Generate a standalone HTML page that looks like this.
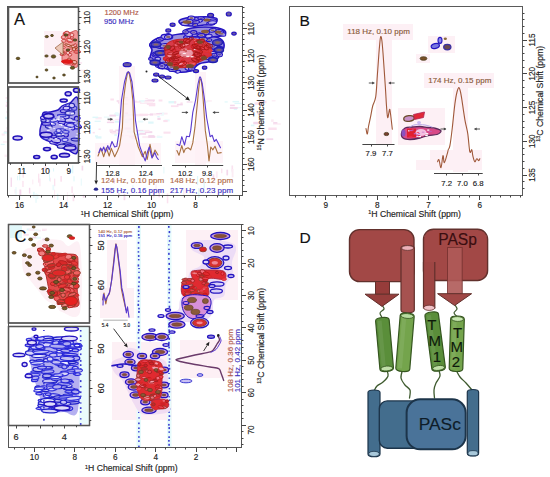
<!DOCTYPE html>
<html><head><meta charset="utf-8"><style>
html,body{margin:0;padding:0;background:#fff;}
svg{display:block;}
text{font-family:"Liberation Sans", sans-serif;}
</style></head><body>
<svg width="550" height="477" viewBox="0 0 550 477">
<rect width="550" height="477" fill="#fff"/>
<rect x="134.4" y="113.9" width="8.8" height="2.4" fill="#fcecf4"/>
<rect x="95.5" y="117.0" width="6.2" height="2.4" fill="#fcecf4"/>
<rect x="142.5" y="114.1" width="8.8" height="1.1" fill="#fbe2ef"/>
<rect x="103.8" y="116.5" width="5.8" height="1.3" fill="#eafafc"/>
<rect x="109.4" y="119.9" width="5.0" height="1.1" fill="#fcecf4"/>
<rect x="114.2" y="113.1" width="7.8" height="2.0" fill="#eafafc"/>
<rect x="120.8" y="115.8" width="5.0" height="1.6" fill="#fcecf4"/>
<rect x="92.5" y="116.6" width="5.7" height="1.5" fill="#dff7fa"/>
<rect x="119.1" y="115.6" width="3.8" height="2.2" fill="#dff7fa"/>
<rect x="123.5" y="114.8" width="7.3" height="1.6" fill="#eafafc"/>
<rect x="157.4" y="117.7" width="3.2" height="2.3" fill="#f4d8ec"/>
<rect x="114.7" y="120.7" width="6.8" height="2.0" fill="#dff7fa"/>
<rect x="161.6" y="112.7" width="6.0" height="1.8" fill="#fcecf4"/>
<rect x="153.2" y="113.2" width="6.9" height="2.2" fill="#fcecf4"/>
<rect x="149.8" y="113.4" width="3.3" height="2.2" fill="#f4d8ec"/>
<rect x="124.6" y="120.9" width="3.0" height="2.4" fill="#eafafc"/>
<rect x="116.6" y="112.7" width="5.8" height="2.0" fill="#eafafc"/>
<rect x="125.8" y="113.9" width="6.8" height="1.5" fill="#eafafc"/>
<rect x="160.4" y="114.5" width="3.4" height="1.2" fill="#eafafc"/>
<rect x="109.8" y="114.8" width="8.8" height="1.3" fill="#dff7fa"/>
<rect x="138.2" y="120.6" width="5.2" height="1.9" fill="#eafafc"/>
<rect x="109.4" y="114.7" width="6.6" height="1.8" fill="#f4d8ec"/>
<rect x="115.0" y="112.2" width="2.9" height="1.5" fill="#eafafc"/>
<rect x="157.3" y="116.0" width="2.4" height="1.3" fill="#dff7fa"/>
<rect x="107.8" y="118.6" width="3.0" height="1.2" fill="#dff7fa"/>
<rect x="124.7" y="118.7" width="6.7" height="2.0" fill="#eafafc"/>
<rect x="129.5" y="118.3" width="3.5" height="1.7" fill="#f4d8ec"/>
<rect x="115.2" y="118.8" width="7.1" height="1.4" fill="#fcecf4"/>
<rect x="106.9" y="121.7" width="7.3" height="1.4" fill="#f4d8ec"/>
<rect x="164.5" y="119.4" width="5.1" height="2.0" fill="#eafafc"/>
<rect x="132.4" y="114.0" width="2.2" height="2.3" fill="#f4d8ec"/>
<rect x="159.3" y="112.6" width="4.9" height="1.7" fill="#eafafc"/>
<rect x="148.2" y="121.5" width="5.4" height="2.2" fill="#dff7fa"/>
<rect x="94.6" y="120.7" width="6.2" height="1.2" fill="#dff7fa"/>
<rect x="163.3" y="120.0" width="4.4" height="2.1" fill="#fbe2ef"/>
<rect x="126.3" y="121.8" width="2.8" height="1.0" fill="#eafafc"/>
<rect x="107.8" y="120.0" width="2.7" height="1.3" fill="#fbe2ef"/>
<rect x="139.5" y="113.7" width="8.4" height="2.2" fill="#fbe2ef"/>
<rect x="124.8" y="112.4" width="3.3" height="1.8" fill="#f4d8ec"/>
<rect x="156.3" y="113.1" width="5.7" height="1.0" fill="#f4d8ec"/>
<rect x="118.1" y="101.5" width="3.2" height="2.1" fill="#f4d8ec"/>
<rect x="120.0" y="98.6" width="5.0" height="1.9" fill="#f4d8ec"/>
<rect x="139.9" y="102.7" width="8.2" height="1.3" fill="#fcecf4"/>
<rect x="134.3" y="100.6" width="2.6" height="1.1" fill="#fbe2ef"/>
<rect x="143.5" y="100.0" width="5.5" height="1.3" fill="#f4d8ec"/>
<rect x="138.9" y="100.4" width="4.9" height="1.7" fill="#dff7fa"/>
<rect x="123.6" y="96.8" width="4.3" height="2.0" fill="#f4d8ec"/>
<rect x="133.5" y="101.4" width="7.9" height="1.2" fill="#fbe2ef"/>
<rect x="130.0" y="96.6" width="3.7" height="1.4" fill="#fbe2ef"/>
<rect x="140.7" y="100.0" width="6.7" height="2.3" fill="#eafafc"/>
<rect x="145.2" y="100.2" width="8.6" height="1.7" fill="#f4d8ec"/>
<rect x="147.6" y="99.5" width="7.2" height="1.9" fill="#f4d8ec"/>
<rect x="144.3" y="100.8" width="8.8" height="1.8" fill="#fcecf4"/>
<rect x="116.6" y="100.3" width="8.1" height="1.5" fill="#f4d8ec"/>
<rect x="158.6" y="99.5" width="3.8" height="2.0" fill="#fbe2ef"/>
<rect x="121.7" y="100.0" width="6.6" height="1.3" fill="#fcecf4"/>
<rect x="117.5" y="101.4" width="5.7" height="1.0" fill="#fbe2ef"/>
<rect x="131.4" y="97.4" width="2.8" height="1.2" fill="#fcecf4"/>
<rect x="125.0" y="98.4" width="5.1" height="2.1" fill="#fcecf4"/>
<rect x="120.3" y="98.7" width="7.2" height="1.3" fill="#fcecf4"/>
<rect x="120.3" y="103.0" width="7.6" height="1.9" fill="#fbe2ef"/>
<rect x="145.3" y="98.0" width="2.7" height="1.3" fill="#fcecf4"/>
<rect x="146.8" y="102.9" width="8.5" height="2.0" fill="#fbe2ef"/>
<rect x="110.4" y="98.5" width="3.5" height="2.0" fill="#fbe2ef"/>
<rect x="148.8" y="104.6" width="6.5" height="1.7" fill="#fbe2ef"/>
<rect x="163.5" y="131.6" width="7.0" height="2.1" fill="#fbe2ef"/>
<rect x="142.3" y="136.1" width="7.2" height="2.0" fill="#fcecf4"/>
<rect x="156.9" y="135.7" width="2.8" height="1.1" fill="#fbe2ef"/>
<rect x="134.6" y="136.7" width="2.3" height="2.4" fill="#fbe2ef"/>
<rect x="136.3" y="129.9" width="7.2" height="2.3" fill="#f4d8ec"/>
<rect x="144.8" y="131.2" width="7.5" height="1.9" fill="#f4d8ec"/>
<rect x="110.2" y="130.7" width="6.1" height="2.4" fill="#f4d8ec"/>
<rect x="129.2" y="135.3" width="7.0" height="2.4" fill="#f4d8ec"/>
<rect x="156.7" y="135.9" width="5.7" height="2.1" fill="#eafafc"/>
<rect x="95.0" y="135.3" width="2.9" height="1.8" fill="#dff7fa"/>
<rect x="127.1" y="130.5" width="7.9" height="2.0" fill="#dff7fa"/>
<rect x="114.3" y="133.7" width="2.9" height="2.4" fill="#dff7fa"/>
<rect x="143.7" y="129.9" width="5.8" height="1.9" fill="#fcecf4"/>
<rect x="119.8" y="134.3" width="3.8" height="2.3" fill="#fbe2ef"/>
<rect x="124.5" y="127.4" width="6.5" height="2.3" fill="#f4d8ec"/>
<rect x="109.5" y="129.4" width="3.5" height="2.4" fill="#fbe2ef"/>
<rect x="134.2" y="133.5" width="4.7" height="1.7" fill="#eafafc"/>
<rect x="98.5" y="128.5" width="2.2" height="1.4" fill="#fbe2ef"/>
<rect x="131.2" y="136.8" width="4.2" height="2.4" fill="#fbe2ef"/>
<rect x="111.5" y="132.3" width="6.2" height="2.0" fill="#fcecf4"/>
<rect x="117.2" y="130.3" width="6.4" height="1.1" fill="#dff7fa"/>
<rect x="137.4" y="130.8" width="7.1" height="1.6" fill="#eafafc"/>
<rect x="148.3" y="135.1" width="6.2" height="2.4" fill="#f4d8ec"/>
<rect x="115.3" y="129.5" width="5.6" height="1.6" fill="#f4d8ec"/>
<rect x="124.9" y="135.0" width="7.6" height="1.2" fill="#fcecf4"/>
<rect x="148.5" y="136.0" width="6.8" height="1.8" fill="#f4d8ec"/>
<rect x="92.7" y="131.9" width="2.1" height="1.5" fill="#fbe2ef"/>
<rect x="135.8" y="134.1" width="4.6" height="1.2" fill="#dff7fa"/>
<rect x="139.3" y="133.0" width="6.8" height="1.8" fill="#f4d8ec"/>
<rect x="95.8" y="136.3" width="5.7" height="2.3" fill="#dff7fa"/>
<rect x="237.1" y="107.0" width="7.1" height="1.3" fill="#eafafc"/>
<rect x="168.5" y="101.0" width="7.7" height="2.4" fill="#dff7fa"/>
<rect x="232.5" y="100.9" width="6.6" height="1.5" fill="#dff7fa"/>
<rect x="230.1" y="104.7" width="4.7" height="1.5" fill="#f4d8ec"/>
<rect x="180.4" y="102.4" width="2.3" height="1.7" fill="#fbe2ef"/>
<rect x="186.6" y="101.4" width="6.0" height="1.2" fill="#f4d8ec"/>
<rect x="224.6" y="101.0" width="3.1" height="1.8" fill="#eafafc"/>
<rect x="234.5" y="102.8" width="8.9" height="1.3" fill="#dff7fa"/>
<rect x="170.9" y="105.3" width="7.6" height="1.8" fill="#fbe2ef"/>
<rect x="233.8" y="108.0" width="3.3" height="1.8" fill="#dff7fa"/>
<rect x="206.7" y="100.3" width="5.2" height="1.3" fill="#fcecf4"/>
<rect x="174.1" y="101.2" width="2.1" height="2.2" fill="#fbe2ef"/>
<rect x="176.9" y="103.8" width="5.9" height="1.6" fill="#f4d8ec"/>
<rect x="202.4" y="101.5" width="5.0" height="1.0" fill="#dff7fa"/>
<rect x="229.8" y="107.1" width="7.9" height="1.8" fill="#f4d8ec"/>
<rect x="7.0" y="115.7" width="7.5" height="2.4" fill="#eafafc"/>
<rect x="4.2" y="130.8" width="4.0" height="2.3" fill="#fbe2ef"/>
<rect x="6.0" y="102.0" width="6.6" height="1.5" fill="#fbe2ef"/>
<rect x="6.8" y="133.9" width="7.8" height="1.7" fill="#fbe2ef"/>
<rect x="5.7" y="104.5" width="4.2" height="2.4" fill="#f4d8ec"/>
<rect x="7.3" y="96.2" width="4.3" height="2.2" fill="#dff7fa"/>
<rect x="2.9" y="141.3" width="6.7" height="1.3" fill="#fcecf4"/>
<rect x="7.7" y="151.8" width="6.0" height="1.9" fill="#fcecf4"/>
<rect x="6.6" y="127.1" width="6.1" height="2.4" fill="#f4d8ec"/>
<rect x="5.6" y="100.4" width="4.9" height="1.4" fill="#eafafc"/>
<rect x="4.5" y="154.6" width="5.9" height="2.3" fill="#fcecf4"/>
<rect x="6.9" y="157.8" width="6.1" height="1.0" fill="#fbe2ef"/>
<rect x="1.6" y="133.5" width="3.3" height="2.1" fill="#fcecf4"/>
<rect x="3.6" y="131.7" width="8.0" height="2.0" fill="#dff7fa"/>
<rect x="5.6" y="97.2" width="6.0" height="1.5" fill="#fbe2ef"/>
<rect x="5.2" y="116.8" width="4.1" height="2.3" fill="#dff7fa"/>
<rect x="7.4" y="125.5" width="3.2" height="2.3" fill="#eafafc"/>
<rect x="0.7" y="143.8" width="4.0" height="1.3" fill="#dff7fa"/>
<rect x="6.9" y="104.7" width="9.0" height="1.8" fill="#f4d8ec"/>
<rect x="6.6" y="110.9" width="2.8" height="2.3" fill="#f4d8ec"/>
<rect x="66.9" y="192.0" width="0.8" height="9.6" fill="#fcecf4"/>
<rect x="14.5" y="189.2" width="1.8" height="4.3" fill="#fcecf4"/>
<rect x="39.1" y="178.5" width="1.6" height="7.8" fill="#fcecf4"/>
<rect x="32.3" y="179.5" width="1.0" height="4.9" fill="#fcecf4"/>
<rect x="38.1" y="173.6" width="1.2" height="9.1" fill="#fbe2ef"/>
<rect x="44.7" y="166.1" width="1.7" height="3.7" fill="#fbe2ef"/>
<rect x="73.2" y="176.2" width="1.6" height="5.2" fill="#eafafc"/>
<rect x="49.7" y="177.7" width="1.0" height="4.0" fill="#fbe2ef"/>
<rect x="22.5" y="170.7" width="1.5" height="6.9" fill="#fbe2ef"/>
<rect x="35.3" y="193.3" width="1.5" height="9.5" fill="#eafafc"/>
<rect x="54.0" y="178.6" width="1.3" height="7.6" fill="#fbe2ef"/>
<rect x="60.3" y="176.0" width="1.7" height="5.7" fill="#fbe2ef"/>
<rect x="22.9" y="166.0" width="1.2" height="6.7" fill="#dff7fa"/>
<rect x="71.4" y="186.4" width="1.4" height="6.6" fill="#fbe2ef"/>
<rect x="54.0" y="189.7" width="1.1" height="8.8" fill="#fcecf4"/>
<rect x="19.1" y="171.8" width="1.2" height="8.5" fill="#dff7fa"/>
<rect x="15.4" y="187.1" width="1.2" height="9.0" fill="#eafafc"/>
<rect x="82.8" y="194.8" width="1.8" height="3.0" fill="#f4d8ec"/>
<rect x="53.0" y="168.2" width="1.1" height="3.3" fill="#dff7fa"/>
<rect x="49.0" y="173.6" width="1.0" height="7.2" fill="#dff7fa"/>
<rect x="52.4" y="184.8" width="1.8" height="5.4" fill="#eafafc"/>
<rect x="19.7" y="194.2" width="0.8" height="4.9" fill="#dff7fa"/>
<rect x="19.4" y="189.5" width="1.9" height="5.6" fill="#f4d8ec"/>
<rect x="43.2" y="166.5" width="1.2" height="4.4" fill="#fcecf4"/>
<rect x="28.9" y="187.8" width="1.4" height="5.7" fill="#f4d8ec"/>
<rect x="10.6" y="177.5" width="1.3" height="9.4" fill="#f4d8ec"/>
<rect x="33.2" y="191.8" width="1.4" height="5.9" fill="#dff7fa"/>
<rect x="72.6" y="193.6" width="1.7" height="7.6" fill="#fbe2ef"/>
<rect x="37.0" y="194.0" width="1.4" height="5.1" fill="#eafafc"/>
<rect x="22.3" y="180.9" width="1.3" height="6.1" fill="#fbe2ef"/>
<rect x="80.8" y="178.5" width="0.8" height="7.2" fill="#dff7fa"/>
<rect x="56.9" y="193.7" width="1.5" height="6.3" fill="#dff7fa"/>
<rect x="17.1" y="175.8" width="1.0" height="4.5" fill="#dff7fa"/>
<rect x="81.6" y="165.7" width="1.6" height="4.8" fill="#f4d8ec"/>
<rect x="72.1" y="165.4" width="1.2" height="8.0" fill="#dff7fa"/>
<rect x="49.9" y="67.0" width="8.8" height="2.0" fill="#fcecf4"/>
<rect x="70.5" y="71.5" width="5.0" height="1.8" fill="#dff7fa"/>
<rect x="50.0" y="67.1" width="7.0" height="2.4" fill="#eafafc"/>
<rect x="73.8" y="62.3" width="8.3" height="1.3" fill="#fbe2ef"/>
<rect x="69.4" y="61.7" width="4.6" height="1.1" fill="#fbe2ef"/>
<rect x="42.5" y="62.3" width="5.2" height="1.1" fill="#eafafc"/>
<rect x="56.9" y="70.3" width="3.6" height="1.9" fill="#fcecf4"/>
<rect x="76.8" y="69.7" width="8.5" height="1.1" fill="#fcecf4"/>
<rect x="69.3" y="70.7" width="7.1" height="1.4" fill="#fbe2ef"/>
<rect x="48.8" y="61.1" width="9.0" height="1.7" fill="#fbe2ef"/>
<rect x="71.9" y="71.7" width="6.7" height="2.0" fill="#fcecf4"/>
<rect x="59.9" y="69.6" width="8.1" height="1.8" fill="#eafafc"/>
<rect x="40.3" y="70.8" width="8.5" height="1.1" fill="#fcecf4"/>
<rect x="72.5" y="61.4" width="5.5" height="1.5" fill="#eafafc"/>
<rect x="40.5" y="64.8" width="7.2" height="1.8" fill="#f4d8ec"/>
<rect x="15.7" y="107.2" width="8.2" height="1.6" fill="#eafafc"/>
<rect x="22.6" y="109.6" width="4.1" height="1.3" fill="#eafafc"/>
<rect x="17.3" y="97.9" width="8.5" height="2.4" fill="#dff7fa"/>
<rect x="26.9" y="104.9" width="8.0" height="1.3" fill="#f4d8ec"/>
<rect x="30.1" y="95.8" width="7.1" height="2.2" fill="#fcecf4"/>
<rect x="12.9" y="107.1" width="4.3" height="2.0" fill="#fbe2ef"/>
<rect x="17.6" y="106.4" width="5.4" height="2.5" fill="#dff7fa"/>
<rect x="25.6" y="108.5" width="8.2" height="1.2" fill="#fcecf4"/>
<rect x="17.2" y="100.1" width="6.8" height="2.1" fill="#dff7fa"/>
<rect x="21.9" y="106.8" width="3.3" height="1.9" fill="#f4d8ec"/>
<rect x="17.0" y="98.5" width="6.1" height="1.7" fill="#fcecf4"/>
<rect x="17.3" y="103.0" width="3.1" height="2.1" fill="#f4d8ec"/>
<rect x="17.1" y="103.5" width="4.4" height="1.0" fill="#eafafc"/>
<rect x="15.9" y="106.1" width="5.1" height="1.6" fill="#eafafc"/>
<rect x="21.2" y="139.2" width="5.8" height="1.2" fill="#f4d8ec"/>
<rect x="28.4" y="136.0" width="8.4" height="1.1" fill="#fbe2ef"/>
<rect x="26.9" y="135.5" width="7.9" height="1.3" fill="#eafafc"/>
<rect x="41.2" y="141.0" width="5.6" height="1.1" fill="#fbe2ef"/>
<rect x="32.7" y="130.2" width="4.4" height="1.3" fill="#f4d8ec"/>
<rect x="35.9" y="149.8" width="8.1" height="2.0" fill="#fcecf4"/>
<rect x="16.8" y="137.3" width="3.3" height="2.0" fill="#dff7fa"/>
<rect x="25.1" y="137.8" width="5.4" height="2.5" fill="#eafafc"/>
<rect x="34.8" y="145.7" width="5.7" height="2.0" fill="#dff7fa"/>
<rect x="33.9" y="131.0" width="5.3" height="1.9" fill="#fcecf4"/>
<rect x="42.7" y="145.7" width="4.9" height="1.7" fill="#fbe2ef"/>
<rect x="23.9" y="137.9" width="6.3" height="1.7" fill="#fcecf4"/>
<rect x="40.2" y="138.4" width="6.1" height="1.3" fill="#f4d8ec"/>
<rect x="35.1" y="142.1" width="4.4" height="1.1" fill="#fbe2ef"/>
<rect x="273.0" y="123.3" width="7.8" height="1.4" fill="#fcecf4"/>
<rect x="266.4" y="138.3" width="6.8" height="1.8" fill="#f4d8ec"/>
<rect x="254.5" y="102.4" width="7.7" height="2.4" fill="#fbe2ef"/>
<rect x="258.3" y="100.8" width="8.2" height="2.4" fill="#fbe2ef"/>
<rect x="253.3" y="121.8" width="5.6" height="2.5" fill="#f4d8ec"/>
<rect x="268.3" y="127.5" width="8.4" height="2.5" fill="#fbe2ef"/>
<rect x="250.8" y="124.6" width="3.6" height="1.7" fill="#dff7fa"/>
<rect x="259.8" y="119.8" width="3.2" height="1.2" fill="#eafafc"/>
<rect x="271.7" y="100.2" width="3.9" height="1.2" fill="#fcecf4"/>
<rect x="257.0" y="112.7" width="5.5" height="1.5" fill="#f4d8ec"/>
<rect x="273.2" y="122.1" width="4.2" height="1.6" fill="#f4d8ec"/>
<rect x="271.1" y="119.4" width="2.6" height="2.5" fill="#fcecf4"/>
<rect x="215.8" y="171.4" width="1.9" height="6.5" fill="#fcecf4"/>
<rect x="158.4" y="189.4" width="1.6" height="7.9" fill="#f4d8ec"/>
<rect x="132.2" y="185.1" width="1.3" height="5.7" fill="#eafafc"/>
<rect x="152.9" y="189.2" width="1.7" height="8.4" fill="#fcecf4"/>
<rect x="212.6" y="174.4" width="1.7" height="4.7" fill="#f4d8ec"/>
<rect x="163.2" y="166.9" width="1.3" height="6.6" fill="#eafafc"/>
<rect x="113.9" y="178.8" width="1.1" height="4.7" fill="#f4d8ec"/>
<rect x="231.7" y="165.5" width="0.8" height="7.4" fill="#eafafc"/>
<rect x="203.5" y="179.5" width="1.4" height="9.0" fill="#dff7fa"/>
<rect x="198.1" y="188.1" width="1.5" height="9.8" fill="#dff7fa"/>
<rect x="123.6" y="194.0" width="1.7" height="6.2" fill="#f4d8ec"/>
<rect x="231.5" y="165.5" width="1.6" height="6.1" fill="#fbe2ef"/>
<rect x="226.4" y="169.7" width="1.7" height="5.7" fill="#f4d8ec"/>
<rect x="166.8" y="193.5" width="1.5" height="9.8" fill="#fbe2ef"/>
<rect x="118.0" y="193.1" width="1.7" height="4.0" fill="#f4d8ec"/>
<rect x="196.9" y="176.0" width="1.3" height="9.1" fill="#dff7fa"/>
<rect x="221.1" y="168.6" width="1.3" height="4.6" fill="#fbe2ef"/>
<rect x="183.1" y="187.8" width="1.4" height="9.9" fill="#fcecf4"/>
<rect x="155.5" y="184.3" width="1.2" height="10.0" fill="#fcecf4"/>
<rect x="231.7" y="169.0" width="1.8" height="8.4" fill="#fcecf4"/>
<rect x="119.0" y="66.0" width="16.0" height="99.0" fill="#fdf0f5" opacity="0.8"/>
<rect x="95.0" y="143.0" width="66.0" height="21.0" fill="#fdf0f5" opacity="0.7"/>
<rect x="195.0" y="72.0" width="11.0" height="93.0" fill="#fdf0f5" opacity="0.8"/>
<rect x="175.0" y="141.0" width="48.0" height="22.0" fill="#fdf0f5" opacity="0.7"/>
<path d="M150.0,44.0 C151.0,42.0 155.0,39.3 158.0,38.0 C161.0,36.7 164.3,36.7 168.0,36.0 C171.7,35.3 175.5,34.5 180.0,34.0 C184.5,33.5 190.0,32.8 195.0,33.0 C200.0,33.2 205.5,33.8 210.0,35.0 C214.5,36.2 219.7,38.0 222.0,40.0 C224.3,42.0 224.3,44.5 224.0,47.0 C223.7,49.5 221.3,52.8 220.0,55.0 C218.7,57.2 218.0,58.8 216.0,60.0 C214.0,61.2 210.8,61.3 208.0,62.0 C205.2,62.7 202.0,62.5 199.0,64.0 C196.0,65.5 193.8,69.7 190.0,71.0 C186.2,72.3 180.3,72.5 176.0,72.0 C171.7,71.5 167.7,69.3 164.0,68.0 C160.3,66.7 156.3,65.7 154.0,64.0 C151.7,62.3 150.3,60.3 150.0,58.0 C149.7,55.7 152.0,52.3 152.0,50.0 C152.0,47.7 149.0,46.0 150.0,44.0 Z" stroke="#2414c0" stroke-width="1.6" fill="#9a90e0" stroke-linejoin="round" stroke-linecap="round" />
<path d="M179.0,21.0 C179.5,19.8 182.8,18.7 186.0,18.0 C189.2,17.3 194.0,17.2 198.0,17.0 C202.0,16.8 206.8,16.7 210.0,17.0 C213.2,17.3 216.3,17.8 217.0,19.0 C217.7,20.2 216.2,23.0 214.0,24.0 C211.8,25.0 207.3,24.7 204.0,25.0 C200.7,25.3 197.5,26.0 194.0,26.0 C190.5,26.0 185.5,25.8 183.0,25.0 C180.5,24.2 178.5,22.2 179.0,21.0 Z" stroke="#2414c0" stroke-width="1.6" fill="#9a90e0" stroke-linejoin="round" stroke-linecap="round" />
<path d="M184.0,31.0 C184.7,29.7 188.5,28.7 192.0,28.0 C195.5,27.3 200.7,27.0 205.0,27.0 C209.3,27.0 214.7,27.3 218.0,28.0 C221.3,28.7 224.0,29.8 225.0,31.0 C226.0,32.2 226.2,34.0 224.0,35.0 C221.8,36.0 216.3,36.7 212.0,37.0 C207.7,37.3 202.0,37.2 198.0,37.0 C194.0,36.8 190.3,37.0 188.0,36.0 C185.7,35.0 183.3,32.3 184.0,31.0 Z" stroke="#2414c0" stroke-width="1.6" fill="#9a90e0" stroke-linejoin="round" stroke-linecap="round" />
<ellipse cx="159.9" cy="66.0" rx="4.3" ry="1.6" fill="#a89ee8" stroke="#2414c0" stroke-width="1.1" transform="rotate(-0.13694738724177213 159.9 66.0)" />
<ellipse cx="159.9" cy="66.0" rx="2.4" ry="0.8" fill="#c0b8f0" stroke="none" stroke-width="0" />
<ellipse cx="216.1" cy="48.2" rx="3.8" ry="2.3" fill="#a89ee8" stroke="#2414c0" stroke-width="1.1" transform="rotate(5.874986003053305 216.1 48.2)" />
<ellipse cx="216.1" cy="48.2" rx="2.1" ry="1.1" fill="#5a48b0" stroke="none" stroke-width="0" />
<ellipse cx="190.1" cy="69.6" rx="3.1" ry="1.5" fill="#a89ee8" stroke="#2414c0" stroke-width="1.1" transform="rotate(-2.336502732518481 190.1 69.6)" />
<ellipse cx="190.1" cy="69.6" rx="1.7" ry="0.8" fill="#7058a8" stroke="none" stroke-width="0" />
<ellipse cx="219.5" cy="54.6" rx="3.0" ry="2.1" fill="#a89ee8" stroke="#2414c0" stroke-width="1.1" transform="rotate(7.828432126254615 219.5 54.6)" />
<ellipse cx="219.5" cy="54.6" rx="1.7" ry="1.1" fill="#5a48b0" stroke="none" stroke-width="0" />
<ellipse cx="218.6" cy="49.2" rx="4.7" ry="2.5" fill="#a89ee8" stroke="#2414c0" stroke-width="1.1" transform="rotate(-11.999991867116185 218.6 49.2)" />
<ellipse cx="218.6" cy="49.2" rx="2.6" ry="1.2" fill="#5a48b0" stroke="none" stroke-width="0" />
<ellipse cx="158.9" cy="46.0" rx="4.2" ry="2.2" fill="#a89ee8" stroke="#2414c0" stroke-width="1.1" transform="rotate(13.093217603983788 158.9 46.0)" />
<ellipse cx="158.9" cy="46.0" rx="2.3" ry="1.1" fill="#c0b8f0" stroke="none" stroke-width="0" />
<ellipse cx="187.6" cy="68.5" rx="2.6" ry="1.6" fill="#a89ee8" stroke="#2414c0" stroke-width="1.1" transform="rotate(14.203542146640793 187.6 68.5)" />
<ellipse cx="187.6" cy="68.5" rx="1.4" ry="0.8" fill="#c0b8f0" stroke="none" stroke-width="0" />
<ellipse cx="212.6" cy="52.7" rx="3.8" ry="1.2" fill="#a89ee8" stroke="#2414c0" stroke-width="1.1" transform="rotate(-7.717800793707971 212.6 52.7)" />
<ellipse cx="212.6" cy="52.7" rx="2.1" ry="0.6" fill="#c0b8f0" stroke="none" stroke-width="0" />
<ellipse cx="162.6" cy="52.6" rx="4.9" ry="2.3" fill="#a89ee8" stroke="#2414c0" stroke-width="1.1" transform="rotate(1.1885234534933637 162.6 52.6)" />
<ellipse cx="162.6" cy="52.6" rx="2.7" ry="1.1" fill="#8a6a70" stroke="none" stroke-width="0" />
<ellipse cx="212.7" cy="46.8" rx="4.7" ry="2.1" fill="#a89ee8" stroke="#2414c0" stroke-width="1.1" transform="rotate(3.2683447652570017 212.7 46.8)" />
<ellipse cx="212.7" cy="46.8" rx="2.6" ry="1.1" fill="#7058a8" stroke="none" stroke-width="0" />
<ellipse cx="187.9" cy="38.0" rx="4.3" ry="1.5" fill="#a89ee8" stroke="#2414c0" stroke-width="1.1" transform="rotate(13.491577965644737 187.9 38.0)" />
<ellipse cx="187.9" cy="38.0" rx="2.4" ry="0.7" fill="#c0b8f0" stroke="none" stroke-width="0" />
<ellipse cx="214.4" cy="55.2" rx="2.6" ry="1.9" fill="#a89ee8" stroke="#2414c0" stroke-width="1.1" transform="rotate(-0.45224663316797553 214.4 55.2)" />
<ellipse cx="214.4" cy="55.2" rx="1.4" ry="1.0" fill="#5a48b0" stroke="none" stroke-width="0" />
<ellipse cx="209.5" cy="57.8" rx="3.7" ry="1.5" fill="#a89ee8" stroke="#2414c0" stroke-width="1.1" transform="rotate(-12.251957774511217 209.5 57.8)" />
<ellipse cx="209.5" cy="57.8" rx="2.0" ry="0.7" fill="#5a48b0" stroke="none" stroke-width="0" />
<ellipse cx="209.0" cy="40.2" rx="2.9" ry="1.4" fill="#a89ee8" stroke="#2414c0" stroke-width="1.1" transform="rotate(-7.343516455431195 209.0 40.2)" />
<ellipse cx="209.0" cy="40.2" rx="1.6" ry="0.7" fill="#8a6a70" stroke="none" stroke-width="0" />
<ellipse cx="186.7" cy="37.5" rx="2.9" ry="1.7" fill="#a89ee8" stroke="#2414c0" stroke-width="1.1" transform="rotate(8.886090335556709 186.7 37.5)" />
<ellipse cx="186.7" cy="37.5" rx="1.6" ry="0.8" fill="#5a48b0" stroke="none" stroke-width="0" />
<ellipse cx="194.8" cy="64.9" rx="2.1" ry="1.2" fill="#a89ee8" stroke="#2414c0" stroke-width="1.1" transform="rotate(-10.60614778801962 194.8 64.9)" />
<ellipse cx="203.2" cy="39.2" rx="4.1" ry="2.1" fill="#a89ee8" stroke="#2414c0" stroke-width="1.1" transform="rotate(1.3410649073671337 203.2 39.2)" />
<ellipse cx="203.2" cy="39.2" rx="2.3" ry="1.1" fill="#8a6a70" stroke="none" stroke-width="0" />
<ellipse cx="188.8" cy="34.2" rx="4.0" ry="2.3" fill="#a89ee8" stroke="#2414c0" stroke-width="1.1" transform="rotate(4.794716752532391 188.8 34.2)" />
<ellipse cx="188.8" cy="34.2" rx="2.2" ry="1.2" fill="#c0b8f0" stroke="none" stroke-width="0" />
<ellipse cx="154.4" cy="44.6" rx="4.9" ry="2.4" fill="#a89ee8" stroke="#2414c0" stroke-width="1.1" transform="rotate(-5.808401390002622 154.4 44.6)" />
<ellipse cx="154.4" cy="44.6" rx="2.7" ry="1.2" fill="#7058a8" stroke="none" stroke-width="0" />
<ellipse cx="173.0" cy="69.6" rx="4.2" ry="1.8" fill="#a89ee8" stroke="#2414c0" stroke-width="1.1" transform="rotate(-7.4292569316049395 173.0 69.6)" />
<ellipse cx="173.0" cy="69.6" rx="2.3" ry="0.9" fill="#7058a8" stroke="none" stroke-width="0" />
<ellipse cx="191.5" cy="66.2" rx="3.8" ry="1.5" fill="#a89ee8" stroke="#2414c0" stroke-width="1.1" transform="rotate(12.02438985637141 191.5 66.2)" />
<ellipse cx="191.5" cy="66.2" rx="2.1" ry="0.8" fill="#c0b8f0" stroke="none" stroke-width="0" />
<ellipse cx="162.7" cy="66.8" rx="4.9" ry="2.2" fill="#a89ee8" stroke="#2414c0" stroke-width="1.1" transform="rotate(0.2662123823367146 162.7 66.8)" />
<ellipse cx="162.7" cy="66.8" rx="2.7" ry="1.1" fill="#c0b8f0" stroke="none" stroke-width="0" />
<ellipse cx="164.8" cy="36.9" rx="3.7" ry="2.5" fill="#a89ee8" stroke="#2414c0" stroke-width="1.1" transform="rotate(2.7422793643441707 164.8 36.9)" />
<ellipse cx="164.8" cy="36.9" rx="2.0" ry="1.2" fill="#c0b8f0" stroke="none" stroke-width="0" />
<ellipse cx="157.7" cy="59.0" rx="2.9" ry="1.9" fill="#a89ee8" stroke="#2414c0" stroke-width="1.1" transform="rotate(-5.239630353720111 157.7 59.0)" />
<ellipse cx="157.7" cy="59.0" rx="1.6" ry="0.9" fill="#c0b8f0" stroke="none" stroke-width="0" />
<ellipse cx="164.9" cy="45.8" rx="5.0" ry="2.3" fill="#a89ee8" stroke="#2414c0" stroke-width="1.1" transform="rotate(-4.8271305644719895 164.9 45.8)" />
<ellipse cx="164.9" cy="45.8" rx="2.7" ry="1.1" fill="#8a6a70" stroke="none" stroke-width="0" />
<ellipse cx="169.7" cy="36.8" rx="3.1" ry="2.0" fill="#a89ee8" stroke="#2414c0" stroke-width="1.1" transform="rotate(12.433339182077319 169.7 36.8)" />
<ellipse cx="169.7" cy="36.8" rx="1.7" ry="1.0" fill="#c0b8f0" stroke="none" stroke-width="0" />
<ellipse cx="159.8" cy="39.5" rx="3.6" ry="1.6" fill="#a89ee8" stroke="#2414c0" stroke-width="1.1" transform="rotate(-5.0329956560860225 159.8 39.5)" />
<ellipse cx="159.8" cy="39.5" rx="2.0" ry="0.8" fill="#5a48b0" stroke="none" stroke-width="0" />
<ellipse cx="171.5" cy="66.8" rx="3.8" ry="2.5" fill="#a89ee8" stroke="#2414c0" stroke-width="1.1" transform="rotate(11.617953141508881 171.5 66.8)" />
<ellipse cx="171.5" cy="66.8" rx="2.1" ry="1.3" fill="#8a6a70" stroke="none" stroke-width="0" />
<ellipse cx="178.1" cy="71.7" rx="2.4" ry="1.4" fill="#a89ee8" stroke="#2414c0" stroke-width="1.1" transform="rotate(-11.559319135132576 178.1 71.7)" />
<ellipse cx="178.1" cy="71.7" rx="1.3" ry="0.7" fill="#c0b8f0" stroke="none" stroke-width="0" />
<ellipse cx="155.7" cy="54.5" rx="3.7" ry="2.5" fill="#a89ee8" stroke="#2414c0" stroke-width="1.1" transform="rotate(-4.053245881773206 155.7 54.5)" />
<ellipse cx="155.7" cy="54.5" rx="2.0" ry="1.3" fill="#5a48b0" stroke="none" stroke-width="0" />
<ellipse cx="191.8" cy="69.1" rx="3.4" ry="1.6" fill="#a89ee8" stroke="#2414c0" stroke-width="1.1" transform="rotate(8.610439906809862 191.8 69.1)" />
<ellipse cx="191.8" cy="69.1" rx="1.9" ry="0.8" fill="#5a48b0" stroke="none" stroke-width="0" />
<ellipse cx="150.9" cy="59.1" rx="2.3" ry="1.4" fill="#a89ee8" stroke="#2414c0" stroke-width="1.1" transform="rotate(11.551802111389833 150.9 59.1)" />
<ellipse cx="150.9" cy="59.1" rx="1.3" ry="0.7" fill="#7058a8" stroke="none" stroke-width="0" />
<ellipse cx="163.9" cy="63.6" rx="3.8" ry="1.4" fill="#a89ee8" stroke="#2414c0" stroke-width="1.1" transform="rotate(-1.4727414770312386 163.9 63.6)" />
<ellipse cx="163.9" cy="63.6" rx="2.1" ry="0.7" fill="#8a6a70" stroke="none" stroke-width="0" />
<ellipse cx="161.8" cy="66.0" rx="3.3" ry="2.6" fill="#a89ee8" stroke="#2414c0" stroke-width="1.1" transform="rotate(9.194620990067133 161.8 66.0)" />
<ellipse cx="161.8" cy="66.0" rx="1.8" ry="1.3" fill="#5a48b0" stroke="none" stroke-width="0" />
<ellipse cx="154.8" cy="45.4" rx="3.8" ry="1.8" fill="#a89ee8" stroke="#2414c0" stroke-width="1.1" transform="rotate(-7.498115253032761 154.8 45.4)" />
<ellipse cx="154.8" cy="45.4" rx="2.1" ry="0.9" fill="#c0b8f0" stroke="none" stroke-width="0" />
<ellipse cx="168.2" cy="36.2" rx="2.8" ry="2.6" fill="#a89ee8" stroke="#2414c0" stroke-width="1.1" transform="rotate(-1.5629327840011342 168.2 36.2)" />
<ellipse cx="168.2" cy="36.2" rx="1.6" ry="1.3" fill="#5a48b0" stroke="none" stroke-width="0" />
<ellipse cx="219.6" cy="48.2" rx="2.9" ry="1.7" fill="#a89ee8" stroke="#2414c0" stroke-width="1.1" transform="rotate(-5.497945593431936 219.6 48.2)" />
<ellipse cx="219.6" cy="48.2" rx="1.6" ry="0.8" fill="#5a48b0" stroke="none" stroke-width="0" />
<ellipse cx="168.2" cy="36.9" rx="3.8" ry="2.3" fill="#a89ee8" stroke="#2414c0" stroke-width="1.1" transform="rotate(-12.238682304673345 168.2 36.9)" />
<ellipse cx="168.2" cy="36.9" rx="2.1" ry="1.2" fill="#8a6a70" stroke="none" stroke-width="0" />
<ellipse cx="155.4" cy="54.5" rx="2.2" ry="1.3" fill="#a89ee8" stroke="#2414c0" stroke-width="1.1" transform="rotate(4.061462806891715 155.4 54.5)" />
<ellipse cx="155.4" cy="54.5" rx="1.2" ry="0.7" fill="#5a48b0" stroke="none" stroke-width="0" />
<ellipse cx="157.5" cy="63.3" rx="3.0" ry="1.9" fill="#a89ee8" stroke="#2414c0" stroke-width="1.1" transform="rotate(4.9574234723840895 157.5 63.3)" />
<ellipse cx="157.5" cy="63.3" rx="1.6" ry="1.0" fill="#8a6a70" stroke="none" stroke-width="0" />
<ellipse cx="210.7" cy="23.6" rx="4.0" ry="1.5" fill="#a89ee8" stroke="#2414c0" stroke-width="1.1" transform="rotate(3.1783249703538736 210.7 23.6)" />
<ellipse cx="210.7" cy="23.6" rx="2.2" ry="0.8" fill="#7058a8" stroke="none" stroke-width="0" />
<ellipse cx="201.1" cy="18.4" rx="3.3" ry="1.6" fill="#a89ee8" stroke="#2414c0" stroke-width="1.1" transform="rotate(6.6903624371239765 201.1 18.4)" />
<ellipse cx="201.1" cy="18.4" rx="1.8" ry="0.8" fill="#5a48b0" stroke="none" stroke-width="0" />
<ellipse cx="199.7" cy="21.0" rx="2.8" ry="1.2" fill="#a89ee8" stroke="#2414c0" stroke-width="1.1" transform="rotate(-14.17665428727543 199.7 21.0)" />
<ellipse cx="199.7" cy="21.0" rx="1.5" ry="0.6" fill="#c0b8f0" stroke="none" stroke-width="0" />
<ellipse cx="195.1" cy="25.0" rx="2.5" ry="1.4" fill="#a89ee8" stroke="#2414c0" stroke-width="1.1" transform="rotate(-8.081919769080415 195.1 25.0)" />
<ellipse cx="195.1" cy="25.0" rx="1.4" ry="0.7" fill="#8a6a70" stroke="none" stroke-width="0" />
<ellipse cx="191.4" cy="18.2" rx="3.5" ry="2.2" fill="#a89ee8" stroke="#2414c0" stroke-width="1.1" transform="rotate(5.234390920376104 191.4 18.2)" />
<ellipse cx="191.4" cy="18.2" rx="1.9" ry="1.1" fill="#8a6a70" stroke="none" stroke-width="0" />
<ellipse cx="194.8" cy="21.7" rx="4.7" ry="1.6" fill="#a89ee8" stroke="#2414c0" stroke-width="1.1" transform="rotate(2.804566775363753 194.8 21.7)" />
<ellipse cx="194.8" cy="21.7" rx="2.6" ry="0.8" fill="#5a48b0" stroke="none" stroke-width="0" />
<ellipse cx="185.1" cy="23.8" rx="4.1" ry="1.7" fill="#a89ee8" stroke="#2414c0" stroke-width="1.1" transform="rotate(0.91067148370335 185.1 23.8)" />
<ellipse cx="185.1" cy="23.8" rx="2.3" ry="0.8" fill="#c0b8f0" stroke="none" stroke-width="0" />
<ellipse cx="189.6" cy="21.5" rx="3.5" ry="2.0" fill="#a89ee8" stroke="#2414c0" stroke-width="1.1" transform="rotate(4.8505680001193845 189.6 21.5)" />
<ellipse cx="189.6" cy="21.5" rx="2.0" ry="1.0" fill="#c0b8f0" stroke="none" stroke-width="0" />
<ellipse cx="213.2" cy="21.1" rx="3.7" ry="2.1" fill="#a89ee8" stroke="#2414c0" stroke-width="1.1" transform="rotate(6.713188616160551 213.2 21.1)" />
<ellipse cx="213.2" cy="21.1" rx="2.0" ry="1.1" fill="#c0b8f0" stroke="none" stroke-width="0" />
<ellipse cx="212.3" cy="22.5" rx="4.3" ry="1.7" fill="#a89ee8" stroke="#2414c0" stroke-width="1.1" transform="rotate(-5.901097664826729 212.3 22.5)" />
<ellipse cx="212.3" cy="22.5" rx="2.4" ry="0.8" fill="#c0b8f0" stroke="none" stroke-width="0" />
<ellipse cx="193.8" cy="32.4" rx="3.1" ry="1.8" fill="#a89ee8" stroke="#2414c0" stroke-width="1.1" transform="rotate(3.771609123241621 193.8 32.4)" />
<ellipse cx="193.8" cy="32.4" rx="1.7" ry="0.9" fill="#7058a8" stroke="none" stroke-width="0" />
<ellipse cx="208.8" cy="36.1" rx="3.4" ry="1.8" fill="#a89ee8" stroke="#2414c0" stroke-width="1.1" transform="rotate(-9.247676880141015 208.8 36.1)" />
<ellipse cx="208.8" cy="36.1" rx="1.9" ry="0.9" fill="#c0b8f0" stroke="none" stroke-width="0" />
<ellipse cx="206.2" cy="32.5" rx="3.2" ry="2.1" fill="#a89ee8" stroke="#2414c0" stroke-width="1.1" transform="rotate(-8.042339838699851 206.2 32.5)" />
<ellipse cx="206.2" cy="32.5" rx="1.8" ry="1.0" fill="#8a6a70" stroke="none" stroke-width="0" />
<ellipse cx="219.6" cy="32.2" rx="4.2" ry="1.9" fill="#a89ee8" stroke="#2414c0" stroke-width="1.1" transform="rotate(-13.079056853190082 219.6 32.2)" />
<ellipse cx="219.6" cy="32.2" rx="2.3" ry="0.9" fill="#7058a8" stroke="none" stroke-width="0" />
<ellipse cx="219.5" cy="31.7" rx="4.2" ry="2.1" fill="#a89ee8" stroke="#2414c0" stroke-width="1.1" transform="rotate(6.4238845083360765 219.5 31.7)" />
<ellipse cx="219.5" cy="31.7" rx="2.3" ry="1.0" fill="#c0b8f0" stroke="none" stroke-width="0" />
<ellipse cx="200.2" cy="35.0" rx="3.3" ry="2.1" fill="#a89ee8" stroke="#2414c0" stroke-width="1.1" transform="rotate(11.365999810141247 200.2 35.0)" />
<ellipse cx="200.2" cy="35.0" rx="1.8" ry="1.1" fill="#7058a8" stroke="none" stroke-width="0" />
<ellipse cx="185.5" cy="31.9" rx="2.8" ry="1.9" fill="#a89ee8" stroke="#2414c0" stroke-width="1.1" transform="rotate(8.369177570934955 185.5 31.9)" />
<ellipse cx="185.5" cy="31.9" rx="1.5" ry="0.9" fill="#5a48b0" stroke="none" stroke-width="0" />
<ellipse cx="201.3" cy="35.3" rx="3.7" ry="1.7" fill="#a89ee8" stroke="#2414c0" stroke-width="1.1" transform="rotate(-2.7727240508231983 201.3 35.3)" />
<ellipse cx="201.3" cy="35.3" rx="2.0" ry="0.9" fill="#8a6a70" stroke="none" stroke-width="0" />
<ellipse cx="221.1" cy="33.8" rx="4.8" ry="2.1" fill="#a89ee8" stroke="#2414c0" stroke-width="1.1" transform="rotate(14.729689346064454 221.1 33.8)" />
<ellipse cx="221.1" cy="33.8" rx="2.6" ry="1.0" fill="#8a6a70" stroke="none" stroke-width="0" />
<ellipse cx="212.6" cy="30.3" rx="3.6" ry="1.8" fill="#a89ee8" stroke="#2414c0" stroke-width="1.1" transform="rotate(-11.877725709866654 212.6 30.3)" />
<ellipse cx="212.6" cy="30.3" rx="2.0" ry="0.9" fill="#8a6a70" stroke="none" stroke-width="0" />
<ellipse cx="187.0" cy="22.0" rx="4.5" ry="1.8" fill="#8a5a3a" stroke="none" stroke-width="1" />
<ellipse cx="207.0" cy="20.0" rx="3.5" ry="1.6" fill="#8a5a3a" stroke="none" stroke-width="1" />
<ellipse cx="205.0" cy="31.5" rx="4.0" ry="1.8" fill="#8a5a3a" stroke="none" stroke-width="1" />
<ellipse cx="218.0" cy="32.0" rx="3.0" ry="1.6" fill="#8a5a3a" stroke="none" stroke-width="1" />
<ellipse cx="210.6" cy="15.3" rx="3.0" ry="2.0" fill="#6a5aa0" stroke="#2414c0" stroke-width="1.2" />
<ellipse cx="228.8" cy="14.0" rx="2.5" ry="2.0" fill="#6a5aa0" stroke="#2414c0" stroke-width="1.2" />
<ellipse cx="172.6" cy="24.8" rx="2.5" ry="1.6" fill="#6a5aa0" stroke="#2414c0" stroke-width="1.2" />
<ellipse cx="168.3" cy="30.5" rx="2.5" ry="1.6" fill="#6a5aa0" stroke="#2414c0" stroke-width="1.2" />
<ellipse cx="234.0" cy="33.6" rx="2.2" ry="1.5" fill="#6a5aa0" stroke="#2414c0" stroke-width="1.2" />
<ellipse cx="156.0" cy="44.5" rx="5.0" ry="2.5" fill="#5a48b8" stroke="#2020b0" stroke-width="1.4" />
<ellipse cx="156.0" cy="44.5" rx="2.5" ry="1.1" fill="#8a6a60" stroke="none" stroke-width="1" />
<ellipse cx="155.0" cy="62.5" rx="5.0" ry="2.5" fill="#5a48b8" stroke="#2020b0" stroke-width="1.4" />
<ellipse cx="155.0" cy="62.5" rx="2.5" ry="1.1" fill="#8a6a60" stroke="none" stroke-width="1" />
<ellipse cx="160.0" cy="53.0" rx="5.0" ry="2.2" fill="#5a48b8" stroke="#2020b0" stroke-width="1.4" />
<ellipse cx="160.0" cy="53.0" rx="2.5" ry="1.0" fill="#8a6a60" stroke="none" stroke-width="1" />
<ellipse cx="217.5" cy="42.6" rx="5.0" ry="3.0" fill="#5a48b8" stroke="#2020b0" stroke-width="1.4" />
<ellipse cx="217.5" cy="42.6" rx="2.5" ry="1.4" fill="#8a6a60" stroke="none" stroke-width="1" />
<ellipse cx="219.0" cy="50.0" rx="4.5" ry="2.5" fill="#5a48b8" stroke="#2020b0" stroke-width="1.4" />
<ellipse cx="219.0" cy="50.0" rx="2.2" ry="1.1" fill="#8a6a60" stroke="none" stroke-width="1" />
<ellipse cx="213.0" cy="60.0" rx="4.5" ry="2.5" fill="#5a48b8" stroke="#2020b0" stroke-width="1.4" />
<ellipse cx="213.0" cy="60.0" rx="2.2" ry="1.1" fill="#8a6a60" stroke="none" stroke-width="1" />
<path d="M167.0,44.0 C168.7,41.8 171.5,40.8 175.0,40.0 C178.5,39.2 183.8,39.0 188.0,39.0 C192.2,39.0 196.5,39.2 200.0,40.0 C203.5,40.8 207.2,42.0 209.0,44.0 C210.8,46.0 211.3,49.7 211.0,52.0 C210.7,54.3 209.0,56.3 207.0,58.0 C205.0,59.7 202.2,60.5 199.0,62.0 C195.8,63.5 191.8,66.2 188.0,67.0 C184.2,67.8 179.3,67.8 176.0,67.0 C172.7,66.2 169.8,64.3 168.0,62.0 C166.2,59.7 165.2,56.0 165.0,53.0 C164.8,50.0 165.3,46.2 167.0,44.0 Z" stroke="#c02830" stroke-width="1.2" fill="#d83a48" stroke-linejoin="round" stroke-linecap="round" />
<ellipse cx="175.9" cy="41.9" rx="2.5" ry="1.2" fill="#e04050" stroke="#d02020" stroke-width="1.0" transform="rotate(-3.9363594205970074 175.9 41.9)" />
<ellipse cx="200.2" cy="45.2" rx="2.8" ry="1.3" fill="#e86070" stroke="#d02020" stroke-width="1.0" transform="rotate(-9.531216855525845 200.2 45.2)" />
<ellipse cx="194.5" cy="46.3" rx="2.2" ry="1.2" fill="#d83040" stroke="#e03030" stroke-width="1.0" transform="rotate(14.692866126267525 194.5 46.3)" />
<ellipse cx="182.1" cy="62.7" rx="2.3" ry="1.5" fill="#e86070" stroke="#d02020" stroke-width="1.0" transform="rotate(-10.107111193660533 182.1 62.7)" />
<ellipse cx="177.9" cy="65.4" rx="3.5" ry="2.1" fill="#d83040" stroke="#d02020" stroke-width="1.0" transform="rotate(16.35481157658746 177.9 65.4)" />
<ellipse cx="191.3" cy="63.7" rx="3.6" ry="1.6" fill="#f08a9a" stroke="#c02828" stroke-width="1.0" transform="rotate(3.9564988875995795 191.3 63.7)" />
<ellipse cx="184.8" cy="43.5" rx="2.3" ry="2.0" fill="#e04050" stroke="#d02020" stroke-width="1.0" transform="rotate(-18.147120039859495 184.8 43.5)" />
<ellipse cx="193.8" cy="46.9" rx="2.8" ry="1.6" fill="#d83040" stroke="#d02020" stroke-width="1.0" transform="rotate(19.891154966884493 193.8 46.9)" />
<ellipse cx="174.0" cy="50.6" rx="2.0" ry="1.8" fill="#d83040" stroke="#d02020" stroke-width="1.0" transform="rotate(-5.766769815705919 174.0 50.6)" />
<ellipse cx="199.4" cy="48.0" rx="2.9" ry="2.1" fill="#e04050" stroke="#d02020" stroke-width="1.0" transform="rotate(8.326499530336093 199.4 48.0)" />
<ellipse cx="177.8" cy="55.3" rx="3.7" ry="1.1" fill="#e86070" stroke="#c02828" stroke-width="1.0" transform="rotate(-1.639249913192966 177.8 55.3)" />
<ellipse cx="167.0" cy="58.5" rx="3.7" ry="2.1" fill="#d83040" stroke="#d02020" stroke-width="1.0" transform="rotate(-7.087589416206939 167.0 58.5)" />
<ellipse cx="179.8" cy="43.3" rx="3.1" ry="2.0" fill="#e04050" stroke="#c02828" stroke-width="1.0" transform="rotate(4.709185716931579 179.8 43.3)" />
<ellipse cx="206.1" cy="47.2" rx="2.1" ry="1.7" fill="#e86070" stroke="#c02828" stroke-width="1.0" transform="rotate(2.923602464615243 206.1 47.2)" />
<ellipse cx="181.7" cy="51.7" rx="2.4" ry="2.0" fill="#d83040" stroke="#e03030" stroke-width="1.0" transform="rotate(-16.11591147204436 181.7 51.7)" />
<ellipse cx="210.2" cy="50.9" rx="2.0" ry="1.1" fill="#e04050" stroke="#e03030" stroke-width="1.0" transform="rotate(-13.253189147849431 210.2 50.9)" />
<ellipse cx="196.1" cy="43.2" rx="1.6" ry="1.6" fill="#e86070" stroke="#c02828" stroke-width="1.0" transform="rotate(19.905461083523612 196.1 43.2)" />
<ellipse cx="170.6" cy="53.8" rx="3.4" ry="1.5" fill="#e86070" stroke="#c02828" stroke-width="1.0" transform="rotate(-11.929090248983453 170.6 53.8)" />
<ellipse cx="185.2" cy="52.8" rx="2.0" ry="1.5" fill="#f08a9a" stroke="#d02020" stroke-width="1.0" transform="rotate(-0.05681121715602444 185.2 52.8)" />
<ellipse cx="176.1" cy="44.8" rx="2.1" ry="2.0" fill="#e86070" stroke="#c02828" stroke-width="1.0" transform="rotate(-17.949050995401894 176.1 44.8)" />
<ellipse cx="207.7" cy="54.8" rx="4.0" ry="1.5" fill="#e04050" stroke="#c02828" stroke-width="1.0" transform="rotate(-4.50109240624052 207.7 54.8)" />
<ellipse cx="184.8" cy="65.0" rx="2.9" ry="2.1" fill="#e86070" stroke="#c02828" stroke-width="1.0" transform="rotate(-8.151812655654851 184.8 65.0)" />
<ellipse cx="186.7" cy="64.2" rx="2.3" ry="1.5" fill="#e86070" stroke="#e03030" stroke-width="1.0" transform="rotate(12.055891062605333 186.7 64.2)" />
<ellipse cx="201.9" cy="48.5" rx="2.5" ry="1.6" fill="#d83040" stroke="#e03030" stroke-width="1.0" transform="rotate(6.734075305240623 201.9 48.5)" />
<ellipse cx="195.7" cy="40.7" rx="1.9" ry="1.8" fill="#f08a9a" stroke="#e03030" stroke-width="1.0" transform="rotate(-3.8509547926542353 195.7 40.7)" />
<ellipse cx="183.0" cy="61.3" rx="2.0" ry="1.2" fill="#d83040" stroke="#d02020" stroke-width="1.0" transform="rotate(-4.168673512377641 183.0 61.3)" />
<ellipse cx="200.4" cy="49.7" rx="2.1" ry="1.1" fill="#e86070" stroke="#d02020" stroke-width="1.0" transform="rotate(6.859271707617619 200.4 49.7)" />
<ellipse cx="180.2" cy="64.0" rx="3.4" ry="1.6" fill="#f08a9a" stroke="#d02020" stroke-width="1.0" transform="rotate(-16.840434064214485 180.2 64.0)" />
<ellipse cx="197.0" cy="42.2" rx="2.9" ry="1.3" fill="#e86070" stroke="#d02020" stroke-width="1.0" transform="rotate(-5.497212684246925 197.0 42.2)" />
<ellipse cx="200.3" cy="53.6" rx="1.5" ry="2.0" fill="#e04050" stroke="#d02020" stroke-width="1.0" transform="rotate(18.394720418268044 200.3 53.6)" />
<ellipse cx="185.9" cy="44.7" rx="3.9" ry="1.5" fill="#f08a9a" stroke="#c02828" stroke-width="1.0" transform="rotate(-16.19521317565613 185.9 44.7)" />
<ellipse cx="170.3" cy="56.4" rx="3.7" ry="1.6" fill="#f08a9a" stroke="#c02828" stroke-width="1.0" transform="rotate(14.313758227597027 170.3 56.4)" />
<ellipse cx="200.7" cy="40.9" rx="3.7" ry="1.2" fill="#d83040" stroke="#c02828" stroke-width="1.0" transform="rotate(-3.1014221554480557 200.7 40.9)" />
<ellipse cx="201.7" cy="43.7" rx="3.7" ry="1.2" fill="#e86070" stroke="#c02828" stroke-width="1.0" transform="rotate(-0.22979084854680565 201.7 43.7)" />
<ellipse cx="180.6" cy="54.2" rx="3.8" ry="1.9" fill="#e04050" stroke="#e03030" stroke-width="1.0" transform="rotate(-7.527314388468014 180.6 54.2)" />
<ellipse cx="190.1" cy="52.6" rx="3.3" ry="1.6" fill="#e04050" stroke="#e03030" stroke-width="1.0" transform="rotate(-10.182352837569457 190.1 52.6)" />
<ellipse cx="204.0" cy="49.0" rx="3.4" ry="2.2" fill="#e04050" stroke="#e03030" stroke-width="1.0" transform="rotate(-17.883224007625916 204.0 49.0)" />
<ellipse cx="206.8" cy="54.2" rx="3.8" ry="1.9" fill="#d83040" stroke="#e03030" stroke-width="1.0" transform="rotate(11.473975312933796 206.8 54.2)" />
<ellipse cx="193.2" cy="51.4" rx="1.9" ry="1.9" fill="#d83040" stroke="#e03030" stroke-width="1.0" transform="rotate(-6.398240586145301 193.2 51.4)" />
<ellipse cx="184.9" cy="56.0" rx="3.2" ry="1.7" fill="#d83040" stroke="#c02828" stroke-width="1.0" transform="rotate(-12.100514895921211 184.9 56.0)" />
<ellipse cx="201.5" cy="57.9" rx="3.7" ry="1.1" fill="#e86070" stroke="#c02828" stroke-width="1.0" transform="rotate(6.1701036607902005 201.5 57.9)" />
<ellipse cx="180.0" cy="47.4" rx="1.6" ry="1.0" fill="#e04050" stroke="#c02828" stroke-width="1.0" transform="rotate(12.290005330114276 180.0 47.4)" />
<ellipse cx="191.9" cy="52.9" rx="2.9" ry="2.1" fill="#e04050" stroke="#d02020" stroke-width="1.0" transform="rotate(6.062242829540573 191.9 52.9)" />
<ellipse cx="196.1" cy="59.9" rx="3.0" ry="2.0" fill="#d83040" stroke="#e03030" stroke-width="1.0" transform="rotate(-3.7555435654406537 196.1 59.9)" />
<ellipse cx="192.6" cy="64.1" rx="3.3" ry="1.4" fill="#e86070" stroke="#e03030" stroke-width="1.0" transform="rotate(-6.935301859013254 192.6 64.1)" />
<ellipse cx="182.5" cy="45.5" rx="2.5" ry="2.4" fill="none" stroke="#a81818" stroke-width="0.9" transform="rotate(4.676341517155919 182.5 45.5)" />
<ellipse cx="196.7" cy="54.5" rx="3.2" ry="2.1" fill="none" stroke="#a81818" stroke-width="0.9" transform="rotate(4.585677538511845 196.7 54.5)" />
<ellipse cx="200.9" cy="57.5" rx="4.5" ry="1.7" fill="none" stroke="#a81818" stroke-width="0.9" transform="rotate(-20.69703475236959 200.9 57.5)" />
<ellipse cx="171.9" cy="59.2" rx="2.5" ry="2.0" fill="none" stroke="#a81818" stroke-width="0.9" transform="rotate(7.246406339311896 171.9 59.2)" />
<ellipse cx="167.7" cy="61.0" rx="2.1" ry="2.3" fill="none" stroke="#a81818" stroke-width="0.9" transform="rotate(20.462752164079305 167.7 61.0)" />
<ellipse cx="174.9" cy="59.3" rx="4.2" ry="1.2" fill="none" stroke="#a81818" stroke-width="0.9" transform="rotate(10.197138198556516 174.9 59.3)" />
<ellipse cx="167.5" cy="47.9" rx="3.9" ry="1.9" fill="none" stroke="#a81818" stroke-width="0.9" transform="rotate(-19.07457347144326 167.5 47.9)" />
<ellipse cx="178.9" cy="43.1" rx="4.0" ry="1.6" fill="none" stroke="#a81818" stroke-width="0.9" transform="rotate(9.800386573292869 178.9 43.1)" />
<ellipse cx="187.7" cy="50.1" rx="2.1" ry="1.2" fill="none" stroke="#a81818" stroke-width="0.9" transform="rotate(-2.494965815961571 187.7 50.1)" />
<ellipse cx="198.5" cy="50.9" rx="4.2" ry="1.8" fill="none" stroke="#a81818" stroke-width="0.9" transform="rotate(22.821153408697946 198.5 50.9)" />
<ellipse cx="195.1" cy="48.0" rx="2.4" ry="1.1" fill="none" stroke="#a81818" stroke-width="0.9" transform="rotate(-27.624220973140595 195.1 48.0)" />
<ellipse cx="199.6" cy="42.1" rx="4.0" ry="1.2" fill="none" stroke="#a81818" stroke-width="0.9" transform="rotate(23.34405157562699 199.6 42.1)" />
<ellipse cx="195.2" cy="60.0" rx="3.8" ry="1.6" fill="none" stroke="#a81818" stroke-width="0.9" transform="rotate(20.904179557924316 195.2 60.0)" />
<ellipse cx="209.2" cy="45.8" rx="3.3" ry="2.1" fill="none" stroke="#a81818" stroke-width="0.9" transform="rotate(10.797213936761551 209.2 45.8)" />
<ellipse cx="183.9" cy="51.6" rx="4.9" ry="1.4" fill="none" stroke="#a81818" stroke-width="0.9" transform="rotate(-17.3080543000733 183.9 51.6)" />
<ellipse cx="196.6" cy="46.8" rx="4.7" ry="1.5" fill="none" stroke="#a81818" stroke-width="0.9" transform="rotate(25.477427969583317 196.6 46.8)" />
<ellipse cx="182.5" cy="63.8" rx="4.3" ry="2.1" fill="none" stroke="#a81818" stroke-width="0.9" transform="rotate(-17.141016325874517 182.5 63.8)" />
<ellipse cx="173.3" cy="57.7" rx="2.2" ry="1.4" fill="none" stroke="#a81818" stroke-width="0.9" transform="rotate(4.022139887227581 173.3 57.7)" />
<ellipse cx="172.1" cy="48.2" rx="2.7" ry="2.0" fill="none" stroke="#a81818" stroke-width="0.9" transform="rotate(-22.88903348627661 172.1 48.2)" />
<ellipse cx="197.8" cy="54.5" rx="3.5" ry="2.5" fill="none" stroke="#a81818" stroke-width="0.9" transform="rotate(23.623206438566342 197.8 54.5)" />
<ellipse cx="194.4" cy="53.4" rx="3.9" ry="1.3" fill="none" stroke="#a81818" stroke-width="0.9" transform="rotate(13.661770361367935 194.4 53.4)" />
<ellipse cx="201.1" cy="41.0" rx="3.5" ry="1.9" fill="none" stroke="#a81818" stroke-width="0.9" transform="rotate(-8.87896826232258 201.1 41.0)" />
<ellipse cx="206.7" cy="47.6" rx="2.5" ry="2.3" fill="none" stroke="#a81818" stroke-width="0.9" transform="rotate(6.717943056197335 206.7 47.6)" />
<ellipse cx="177.9" cy="55.4" rx="2.9" ry="2.2" fill="none" stroke="#a81818" stroke-width="0.9" transform="rotate(11.493597709039094 177.9 55.4)" />
<ellipse cx="176.0" cy="53.0" rx="3.8" ry="1.3" fill="none" stroke="#a81818" stroke-width="0.9" transform="rotate(-19.050504906378627 176.0 53.0)" />
<ellipse cx="186.8" cy="41.0" rx="3.5" ry="2.4" fill="none" stroke="#a81818" stroke-width="0.9" transform="rotate(19.559296835287647 186.8 41.0)" />
<ellipse cx="198.0" cy="58.8" rx="2.1" ry="2.1" fill="none" stroke="#a81818" stroke-width="0.9" transform="rotate(-18.273993099088464 198.0 58.8)" />
<ellipse cx="201.9" cy="48.0" rx="3.1" ry="1.3" fill="none" stroke="#a81818" stroke-width="0.9" transform="rotate(22.05522046223819 201.9 48.0)" />
<ellipse cx="175.2" cy="63.4" rx="3.5" ry="1.2" fill="none" stroke="#a81818" stroke-width="0.9" transform="rotate(9.3092284754551 175.2 63.4)" />
<ellipse cx="189.4" cy="39.8" rx="4.5" ry="1.4" fill="none" stroke="#a81818" stroke-width="0.9" transform="rotate(-28.56761117714342 189.4 39.8)" />
<ellipse cx="186" cy="53" rx="7" ry="4.5" fill="#f8c8d8" opacity="0.7"/>
<rect x="183.2" y="49.5" width="1.6" height="1.3" fill="#c04040"/>
<rect x="179.5" y="53.8" width="1.9" height="0.7" fill="#c04040"/>
<rect x="184.7" y="50.4" width="2.3" height="1.3" fill="#c04040"/>
<rect x="180.0" y="50.2" width="2.7" height="0.6" fill="#c04040"/>
<rect x="187.4" y="48.5" width="1.6" height="1.3" fill="#d83030"/>
<rect x="182.6" y="49.4" width="2.6" height="1.0" fill="#d83030"/>
<rect x="188.9" y="49.0" width="2.8" height="0.9" fill="#c04040"/>
<rect x="186.8" y="48.6" width="2.7" height="1.0" fill="#d83030"/>
<rect x="186.5" y="55.8" width="2.7" height="1.0" fill="#ffffff"/>
<rect x="182.8" y="55.9" width="3.1" height="0.7" fill="#c04040"/>
<rect x="182.8" y="53.0" width="3.0" height="0.8" fill="#ffffff"/>
<rect x="193.7" y="49.2" width="1.8" height="0.9" fill="#ffffff"/>
<rect x="192.9" y="52.2" width="1.7" height="1.0" fill="#c04040"/>
<rect x="190.6" y="56.2" width="2.9" height="1.1" fill="#ffffff"/>
<ellipse cx="170.0" cy="64.0" rx="3.0" ry="2.0" fill="#7a4a2a" stroke="none" stroke-width="1" />
<ellipse cx="176.0" cy="68.0" rx="3.0" ry="2.0" fill="#7a4a2a" stroke="none" stroke-width="1" />
<ellipse cx="190.0" cy="66.0" rx="4.0" ry="2.0" fill="#7a4a2a" stroke="none" stroke-width="1" />
<ellipse cx="168.0" cy="47.0" rx="2.5" ry="2.0" fill="#7a4a2a" stroke="none" stroke-width="1" />
<ellipse cx="204.0" cy="58.0" rx="3.0" ry="2.0" fill="#7a4a2a" stroke="none" stroke-width="1" />
<ellipse cx="200.0" cy="42.0" rx="3.0" ry="1.8" fill="#7a4a2a" stroke="none" stroke-width="1" />
<ellipse cx="181.0" cy="42.0" rx="2.5" ry="1.6" fill="#7a4a2a" stroke="none" stroke-width="1" />
<ellipse cx="156.2" cy="74.6" rx="2.6" ry="1.6" fill="#6a5aa0" stroke="#2414c0" stroke-width="1.2" />
<ellipse cx="196.0" cy="71.1" rx="2.6" ry="1.6" fill="#6a5aa0" stroke="#2414c0" stroke-width="1.2" />
<ellipse cx="204.6" cy="67.7" rx="2.2" ry="1.5" fill="#6a5aa0" stroke="#2414c0" stroke-width="1.2" />
<ellipse cx="146.5" cy="71.5" rx="1.0" ry="1.0" fill="#222" stroke="none" stroke-width="1" />
<ellipse cx="127.2" cy="64.7" rx="4.0" ry="2.0" fill="#6a5aa0" stroke="#2414c0" stroke-width="1.2" />
<ellipse cx="162.0" cy="76.5" rx="2.5" ry="1.5" fill="#6a5aa0" stroke="#2414c0" stroke-width="1.2" />
<ellipse cx="155.0" cy="80.5" rx="3.0" ry="1.5" fill="#6a5aa0" stroke="#2414c0" stroke-width="1.2" />
<ellipse cx="168.0" cy="77.5" rx="3.0" ry="1.5" fill="#6a5aa0" stroke="#2414c0" stroke-width="1.2" />
<rect x="7.50" y="6.50" width="235.00" height="189.00" stroke="#555" stroke-width="1" fill="none" />
<line x1="239.50" y1="195.50" x2="239.50" y2="200.00" stroke="#444" stroke-width="1" />
<line x1="228.50" y1="195.50" x2="228.50" y2="197.50" stroke="#444" stroke-width="1" />
<line x1="217.50" y1="195.50" x2="217.50" y2="197.50" stroke="#444" stroke-width="1" />
<line x1="206.50" y1="195.50" x2="206.50" y2="197.50" stroke="#444" stroke-width="1" />
<line x1="195.50" y1="195.50" x2="195.50" y2="200.00" stroke="#444" stroke-width="1" />
<line x1="184.50" y1="195.50" x2="184.50" y2="197.50" stroke="#444" stroke-width="1" />
<line x1="173.50" y1="195.50" x2="173.50" y2="197.50" stroke="#444" stroke-width="1" />
<line x1="162.50" y1="195.50" x2="162.50" y2="197.50" stroke="#444" stroke-width="1" />
<line x1="151.50" y1="195.50" x2="151.50" y2="200.00" stroke="#444" stroke-width="1" />
<line x1="140.50" y1="195.50" x2="140.50" y2="197.50" stroke="#444" stroke-width="1" />
<line x1="129.50" y1="195.50" x2="129.50" y2="197.50" stroke="#444" stroke-width="1" />
<line x1="118.50" y1="195.50" x2="118.50" y2="197.50" stroke="#444" stroke-width="1" />
<line x1="107.50" y1="195.50" x2="107.50" y2="200.00" stroke="#444" stroke-width="1" />
<line x1="96.50" y1="195.50" x2="96.50" y2="197.50" stroke="#444" stroke-width="1" />
<line x1="85.50" y1="195.50" x2="85.50" y2="197.50" stroke="#444" stroke-width="1" />
<line x1="74.50" y1="195.50" x2="74.50" y2="197.50" stroke="#444" stroke-width="1" />
<line x1="63.50" y1="195.50" x2="63.50" y2="200.00" stroke="#444" stroke-width="1" />
<line x1="52.50" y1="195.50" x2="52.50" y2="197.50" stroke="#444" stroke-width="1" />
<line x1="41.50" y1="195.50" x2="41.50" y2="197.50" stroke="#444" stroke-width="1" />
<line x1="30.50" y1="195.50" x2="30.50" y2="197.50" stroke="#444" stroke-width="1" />
<line x1="19.50" y1="195.50" x2="19.50" y2="200.00" stroke="#444" stroke-width="1" />
<line x1="8.50" y1="195.50" x2="8.50" y2="197.50" stroke="#444" stroke-width="1" />
<line x1="242.50" y1="7.50" x2="244.50" y2="7.50" stroke="#444" stroke-width="1" />
<line x1="242.50" y1="12.50" x2="244.50" y2="12.50" stroke="#444" stroke-width="1" />
<line x1="242.50" y1="17.50" x2="244.50" y2="17.50" stroke="#444" stroke-width="1" />
<line x1="242.50" y1="23.50" x2="244.50" y2="23.50" stroke="#444" stroke-width="1" />
<line x1="242.50" y1="28.50" x2="247.00" y2="28.50" stroke="#444" stroke-width="1" />
<line x1="242.50" y1="34.50" x2="244.50" y2="34.50" stroke="#444" stroke-width="1" />
<line x1="242.50" y1="39.50" x2="244.50" y2="39.50" stroke="#444" stroke-width="1" />
<line x1="242.50" y1="44.50" x2="244.50" y2="44.50" stroke="#444" stroke-width="1" />
<line x1="242.50" y1="50.50" x2="244.50" y2="50.50" stroke="#444" stroke-width="1" />
<line x1="242.50" y1="55.50" x2="247.00" y2="55.50" stroke="#444" stroke-width="1" />
<line x1="242.50" y1="61.50" x2="244.50" y2="61.50" stroke="#444" stroke-width="1" />
<line x1="242.50" y1="66.50" x2="244.50" y2="66.50" stroke="#444" stroke-width="1" />
<line x1="242.50" y1="72.50" x2="244.50" y2="72.50" stroke="#444" stroke-width="1" />
<line x1="242.50" y1="77.50" x2="244.50" y2="77.50" stroke="#444" stroke-width="1" />
<line x1="242.50" y1="82.50" x2="247.00" y2="82.50" stroke="#444" stroke-width="1" />
<line x1="242.50" y1="88.50" x2="244.50" y2="88.50" stroke="#444" stroke-width="1" />
<line x1="242.50" y1="93.50" x2="244.50" y2="93.50" stroke="#444" stroke-width="1" />
<line x1="242.50" y1="99.50" x2="244.50" y2="99.50" stroke="#444" stroke-width="1" />
<line x1="242.50" y1="104.50" x2="244.50" y2="104.50" stroke="#444" stroke-width="1" />
<line x1="242.50" y1="110.50" x2="247.00" y2="110.50" stroke="#444" stroke-width="1" />
<line x1="242.50" y1="115.50" x2="244.50" y2="115.50" stroke="#444" stroke-width="1" />
<line x1="242.50" y1="120.50" x2="244.50" y2="120.50" stroke="#444" stroke-width="1" />
<line x1="242.50" y1="126.50" x2="244.50" y2="126.50" stroke="#444" stroke-width="1" />
<line x1="242.50" y1="131.50" x2="244.50" y2="131.50" stroke="#444" stroke-width="1" />
<line x1="242.50" y1="137.50" x2="247.00" y2="137.50" stroke="#444" stroke-width="1" />
<line x1="242.50" y1="142.50" x2="244.50" y2="142.50" stroke="#444" stroke-width="1" />
<line x1="242.50" y1="147.50" x2="244.50" y2="147.50" stroke="#444" stroke-width="1" />
<line x1="242.50" y1="153.50" x2="244.50" y2="153.50" stroke="#444" stroke-width="1" />
<line x1="242.50" y1="158.50" x2="244.50" y2="158.50" stroke="#444" stroke-width="1" />
<line x1="242.50" y1="164.50" x2="247.00" y2="164.50" stroke="#444" stroke-width="1" />
<line x1="242.50" y1="169.50" x2="244.50" y2="169.50" stroke="#444" stroke-width="1" />
<line x1="242.50" y1="175.50" x2="244.50" y2="175.50" stroke="#444" stroke-width="1" />
<line x1="242.50" y1="180.50" x2="244.50" y2="180.50" stroke="#444" stroke-width="1" />
<line x1="242.50" y1="185.50" x2="244.50" y2="185.50" stroke="#444" stroke-width="1" />
<line x1="242.50" y1="191.50" x2="247.00" y2="191.50" stroke="#444" stroke-width="1" />
<text x="19.60" y="207.55" font-size="8.2" fill="#222" text-anchor="middle"  stroke="#222" stroke-width="0.15">16</text>
<text x="63.60" y="207.55" font-size="8.2" fill="#222" text-anchor="middle"  stroke="#222" stroke-width="0.15">14</text>
<text x="107.60" y="207.55" font-size="8.2" fill="#222" text-anchor="middle"  stroke="#222" stroke-width="0.15">12</text>
<text x="151.60" y="207.55" font-size="8.2" fill="#222" text-anchor="middle"  stroke="#222" stroke-width="0.15">10</text>
<text x="195.60" y="207.55" font-size="8.2" fill="#222" text-anchor="middle"  stroke="#222" stroke-width="0.15">8</text>
<text transform="translate(251.20,28.70) rotate(-90)" x="0" y="2.95" font-size="8.2" fill="#222" text-anchor="middle"  stroke="#222" stroke-width="0.15">110</text>
<text transform="translate(251.20,55.80) rotate(-90)" x="0" y="2.95" font-size="8.2" fill="#222" text-anchor="middle"  stroke="#222" stroke-width="0.15">120</text>
<text transform="translate(251.20,82.90) rotate(-90)" x="0" y="2.95" font-size="8.2" fill="#222" text-anchor="middle"  stroke="#222" stroke-width="0.15">130</text>
<text transform="translate(251.20,110.00) rotate(-90)" x="0" y="2.95" font-size="8.2" fill="#222" text-anchor="middle"  stroke="#222" stroke-width="0.15">140</text>
<text transform="translate(251.20,137.10) rotate(-90)" x="0" y="2.95" font-size="8.2" fill="#222" text-anchor="middle"  stroke="#222" stroke-width="0.15">150</text>
<text transform="translate(251.20,164.20) rotate(-90)" x="0" y="2.95" font-size="8.2" fill="#222" text-anchor="middle"  stroke="#222" stroke-width="0.15">160</text>
<text x="127.10" y="217.33" font-size="8.7" fill="#222" text-anchor="middle"  stroke="#222" stroke-width="0.15"><tspan font-size="5.39" dy="-2.78">1</tspan><tspan dy="2.78">H Chemical Shift (ppm)</tspan></text>
<text transform="translate(260.60,102.60) rotate(-90)" x="0" y="3.13" font-size="8.7" fill="#222" text-anchor="middle"  stroke="#222" stroke-width="0.15"><tspan font-size="5.39" dy="-2.78">15</tspan><tspan dy="2.78">N Chemical Shift (ppm)</tspan></text>
<rect x="8.50" y="7.00" width="70.00" height="76.00" stroke="#555" stroke-width="1.3" fill="#fff" />
<rect x="8.50" y="87.00" width="70.00" height="76.00" stroke="#555" stroke-width="1.3" fill="#fff" />
<rect x="44.0" y="31.0" width="34.0" height="35.0" fill="#fdf0f5" opacity="1"/>
<path d="M63.5,33.0 C64.7,30.9 67.6,32.6 70.0,32.6 C72.4,32.6 76.7,27.6 78.0,33.0 C79.3,38.4 79.3,59.7 78.0,65.0 C76.7,70.3 72.5,65.3 70.0,65.0 C67.5,64.7 64.3,64.7 63.0,63.0 C61.7,61.3 62.0,58.0 62.0,55.0 C62.0,52.0 62.8,48.7 63.0,45.0 C63.2,41.3 62.3,35.1 63.5,33.0 Z" stroke="#c04040" stroke-width="0.8" fill="#f29a9a" stroke-linejoin="round" stroke-linecap="round" />
<ellipse cx="69.2" cy="50.7" rx="3.3" ry="1.5" fill="#f8c8c8" stroke="#d04040" stroke-width="0.9" transform="rotate(-12.403918747705124 69.2 50.7)" />
<ellipse cx="74.9" cy="48.0" rx="2.7" ry="1.2" fill="#e87878" stroke="#a04020" stroke-width="0.9" transform="rotate(-14.328194829621754 74.9 48.0)" />
<ellipse cx="70.6" cy="61.4" rx="2.8" ry="1.6" fill="#e87878" stroke="#a04020" stroke-width="0.9" transform="rotate(6.156901341353617 70.6 61.4)" />
<ellipse cx="71.8" cy="37.7" rx="1.5" ry="1.5" fill="#f4b0b0" stroke="#c03030" stroke-width="0.9" transform="rotate(-12.391669488082835 71.8 37.7)" />
<ellipse cx="65.9" cy="33.6" rx="2.4" ry="1.4" fill="#f4b0b0" stroke="#d04040" stroke-width="0.9" transform="rotate(-10.654174494656413 65.9 33.6)" />
<ellipse cx="63.4" cy="53.8" rx="2.3" ry="1.6" fill="#f4b0b0" stroke="#d04040" stroke-width="0.9" transform="rotate(-9.840210284210084 63.4 53.8)" />
<ellipse cx="74.1" cy="49.2" rx="1.6" ry="1.6" fill="#f4b0b0" stroke="#a04020" stroke-width="0.9" transform="rotate(-15.68787579340231 74.1 49.2)" />
<ellipse cx="66.7" cy="34.8" rx="1.5" ry="1.7" fill="#f4b0b0" stroke="#c03030" stroke-width="0.9" transform="rotate(17.081685933551768 66.7 34.8)" />
<ellipse cx="73.3" cy="46.2" rx="2.6" ry="1.2" fill="#f8c8c8" stroke="#a04020" stroke-width="0.9" transform="rotate(-6.524286542193831 73.3 46.2)" />
<ellipse cx="67.0" cy="33.1" rx="2.3" ry="1.9" fill="#f4b0b0" stroke="#c03030" stroke-width="0.9" transform="rotate(8.280641168667767 67.0 33.1)" />
<ellipse cx="69.8" cy="54.7" rx="1.9" ry="1.5" fill="#f8c8c8" stroke="#c03030" stroke-width="0.9" transform="rotate(-3.2307801712408306 69.8 54.7)" />
<ellipse cx="68.1" cy="45.4" rx="3.5" ry="1.0" fill="#f8c8c8" stroke="#a04020" stroke-width="0.9" transform="rotate(19.916148747463552 68.1 45.4)" />
<ellipse cx="77.9" cy="52.1" rx="2.7" ry="1.0" fill="#f4b0b0" stroke="#c03030" stroke-width="0.9" transform="rotate(-2.3383327548868813 77.9 52.1)" />
<ellipse cx="75.3" cy="45.1" rx="1.6" ry="1.2" fill="#f8c8c8" stroke="#c03030" stroke-width="0.9" transform="rotate(-19.379637062166978 75.3 45.1)" />
<ellipse cx="67.9" cy="52.8" rx="1.8" ry="1.6" fill="#f8c8c8" stroke="#c03030" stroke-width="0.9" transform="rotate(14.66102671208889 67.9 52.8)" />
<ellipse cx="64.9" cy="37.6" rx="3.3" ry="1.8" fill="#f4b0b0" stroke="#d04040" stroke-width="0.9" transform="rotate(-12.407973361469598 64.9 37.6)" />
<ellipse cx="73.8" cy="63.1" rx="1.9" ry="2.0" fill="#e87878" stroke="#d04040" stroke-width="0.9" transform="rotate(-16.86008768634283 73.8 63.1)" />
<ellipse cx="70.2" cy="40.9" rx="3.0" ry="1.4" fill="#e87878" stroke="#d04040" stroke-width="0.9" transform="rotate(-0.3600197155966356 70.2 40.9)" />
<ellipse cx="70.3" cy="62.7" rx="3.5" ry="1.1" fill="#e87878" stroke="#d04040" stroke-width="0.9" transform="rotate(6.1403038657903295 70.3 62.7)" />
<ellipse cx="71.9" cy="35.0" rx="1.9" ry="1.9" fill="#f8c8c8" stroke="#c03030" stroke-width="0.9" transform="rotate(-17.233827033879187 71.9 35.0)" />
<ellipse cx="68.6" cy="40.7" rx="1.6" ry="1.3" fill="#f8c8c8" stroke="#d04040" stroke-width="0.9" transform="rotate(18.922604361646925 68.6 40.7)" />
<ellipse cx="63.5" cy="37.1" rx="2.4" ry="1.3" fill="#f8c8c8" stroke="#d04040" stroke-width="0.9" transform="rotate(0.8775587631583974 63.5 37.1)" />
<ellipse cx="77.1" cy="51.7" rx="3.3" ry="1.5" fill="#e87878" stroke="#d04040" stroke-width="0.9" transform="rotate(-7.527811836370525 77.1 51.7)" />
<ellipse cx="62.5" cy="52.0" rx="1.6" ry="1.1" fill="#e87878" stroke="#a04020" stroke-width="0.9" transform="rotate(-14.535767734242192 62.5 52.0)" />
<ellipse cx="63.2" cy="47.3" rx="2.2" ry="1.0" fill="#f8c8c8" stroke="#d04040" stroke-width="0.9" transform="rotate(8.147624769671094 63.2 47.3)" />
<ellipse cx="74.7" cy="62.2" rx="2.2" ry="1.7" fill="#f4b0b0" stroke="#a04020" stroke-width="0.9" transform="rotate(17.76957386449933 74.7 62.2)" />
<ellipse cx="62.2" cy="54.1" rx="2.3" ry="1.0" fill="#f4b0b0" stroke="#c03030" stroke-width="0.9" transform="rotate(-16.374062705217508 62.2 54.1)" />
<ellipse cx="63.8" cy="40.9" rx="2.3" ry="1.3" fill="#f8c8c8" stroke="#d04040" stroke-width="0.9" transform="rotate(3.2381151490675784 63.8 40.9)" />
<ellipse cx="69.0" cy="59.8" rx="1.7" ry="1.8" fill="#f4b0b0" stroke="#a04020" stroke-width="0.9" transform="rotate(4.051410581985785 69.0 59.8)" />
<ellipse cx="69.7" cy="40.1" rx="2.9" ry="1.5" fill="#f8c8c8" stroke="#d04040" stroke-width="0.9" transform="rotate(16.818570937602907 69.7 40.1)" />
<polygon points="55,48 63,42 63,55" fill="#ecc8b8" stroke="#a06a4a" stroke-width="0.8"/>
<ellipse cx="67.0" cy="61.5" rx="6.0" ry="2.2" fill="#e01818" stroke="none" stroke-width="1" />
<ellipse cx="46.8" cy="36.6" rx="1.7" ry="1.1" fill="#6a5a20" stroke="#4a3a1a" stroke-width="0.8" />
<ellipse cx="52.0" cy="35.5" rx="1.4" ry="1.1" fill="#6a5a20" stroke="#4a3a1a" stroke-width="0.8" />
<ellipse cx="18.0" cy="58.4" rx="1.8" ry="1.2" fill="#6a5a20" stroke="#4a3a1a" stroke-width="0.8" />
<ellipse cx="46.5" cy="56.0" rx="1.7" ry="1.1" fill="#6a5a20" stroke="#4a3a1a" stroke-width="0.8" />
<ellipse cx="53.5" cy="56.5" rx="2.2" ry="1.6" fill="#6a5a20" stroke="#4a3a1a" stroke-width="0.8" />
<ellipse cx="46.5" cy="70.0" rx="1.4" ry="1.1" fill="#6a5a20" stroke="#4a3a1a" stroke-width="0.8" />
<ellipse cx="37.0" cy="77.0" rx="1.1" ry="0.9" fill="#6a5a20" stroke="#4a3a1a" stroke-width="0.8" />
<ellipse cx="54.0" cy="78.0" rx="1.3" ry="1.0" fill="#6a5a20" stroke="#4a3a1a" stroke-width="0.8" />
<ellipse cx="64.0" cy="75.0" rx="1.4" ry="1.0" fill="#6a5a20" stroke="#4a3a1a" stroke-width="0.8" />
<ellipse cx="72.5" cy="67.8" rx="2.2" ry="1.4" fill="#6a5a20" stroke="#4a3a1a" stroke-width="0.8" />
<ellipse cx="66.0" cy="35.0" rx="1.8" ry="1.1" fill="#6a5a20" stroke="#4a3a1a" stroke-width="0.8" />
<ellipse cx="75.0" cy="40.0" rx="1.8" ry="1.1" fill="#6a5a20" stroke="#4a3a1a" stroke-width="0.8" />
<ellipse cx="68.0" cy="50.0" rx="1.8" ry="1.1" fill="#6a5a20" stroke="#4a3a1a" stroke-width="0.8" />
<path d="M43.0,113.0 C44.3,111.3 47.5,112.5 50.0,112.0 C52.5,111.5 56.0,111.0 58.0,110.0 C60.0,109.0 60.0,107.2 62.0,106.0 C64.0,104.8 67.3,104.0 70.0,103.0 C72.7,102.0 76.7,92.2 78.0,100.0 C79.3,107.8 79.7,141.7 78.0,150.0 C76.3,158.3 71.3,150.7 68.0,150.0 C64.7,149.3 61.3,147.5 58.0,146.0 C54.7,144.5 50.8,142.5 48.0,141.0 C45.2,139.5 42.3,138.8 41.0,137.0 C39.7,135.2 39.8,132.5 40.0,130.0 C40.2,127.5 41.5,124.8 42.0,122.0 C42.5,119.2 41.7,114.7 43.0,113.0 Z" stroke="#2414c0" stroke-width="1.4" fill="#a8a0ec" stroke-linejoin="round" stroke-linecap="round" />
<ellipse cx="58.0" cy="132.9" rx="4.0" ry="1.4" fill="#b8b0f0" stroke="#3a38d0" stroke-width="1.1" transform="rotate(-0.34922372191427087 58.0 132.9)" />
<ellipse cx="64.4" cy="123.0" rx="4.6" ry="1.5" fill="#b8b0f0" stroke="#2020b0" stroke-width="1.1" transform="rotate(2.4846576370750046 64.4 123.0)" />
<ellipse cx="77.2" cy="118.4" rx="3.0" ry="1.5" fill="#d0c8f8" stroke="#2414c0" stroke-width="1.1" transform="rotate(-8.50780732728245 77.2 118.4)" />
<ellipse cx="66.1" cy="116.8" rx="3.2" ry="2.2" fill="#b8b0f0" stroke="#2414c0" stroke-width="1.1" transform="rotate(6.393073486541752 66.1 116.8)" />
<ellipse cx="65.2" cy="111.2" rx="5.0" ry="1.7" fill="#a098e8" stroke="#2414c0" stroke-width="1.1" transform="rotate(3.2172912989864635 65.2 111.2)" />
<ellipse cx="76.9" cy="127.0" rx="4.6" ry="1.9" fill="#d0c8f8" stroke="#2414c0" stroke-width="1.1" transform="rotate(1.1030069248697298 76.9 127.0)" />
<ellipse cx="63.1" cy="133.4" rx="3.4" ry="1.9" fill="#d0c8f8" stroke="#2414c0" stroke-width="1.1" transform="rotate(2.8145588526617615 63.1 133.4)" />
<ellipse cx="69.9" cy="113.1" rx="4.8" ry="2.2" fill="#a098e8" stroke="#2020b0" stroke-width="1.1" transform="rotate(-3.8019476661335823 69.9 113.1)" />
<ellipse cx="49.6" cy="116.8" rx="3.1" ry="1.9" fill="#d0c8f8" stroke="#2414c0" stroke-width="1.1" transform="rotate(-9.437134656173695 49.6 116.8)" />
<ellipse cx="71.3" cy="121.5" rx="3.6" ry="1.5" fill="#a098e8" stroke="#2414c0" stroke-width="1.1" transform="rotate(-2.235077589093857 71.3 121.5)" />
<ellipse cx="69.3" cy="105.1" rx="3.6" ry="1.4" fill="#d0c8f8" stroke="#3a38d0" stroke-width="1.1" transform="rotate(-9.26307820774877 69.3 105.1)" />
<ellipse cx="50.5" cy="117.2" rx="3.9" ry="1.3" fill="#a098e8" stroke="#3a38d0" stroke-width="1.1" transform="rotate(-5.824131318977532 50.5 117.2)" />
<ellipse cx="50.7" cy="123.8" rx="4.9" ry="1.8" fill="#b8b0f0" stroke="#3a38d0" stroke-width="1.1" transform="rotate(8.48499485088238 50.7 123.8)" />
<ellipse cx="68.4" cy="145.6" rx="2.0" ry="1.5" fill="#a098e8" stroke="#2414c0" stroke-width="1.1" transform="rotate(-5.168265432872483 68.4 145.6)" />
<ellipse cx="77.9" cy="125.2" rx="2.1" ry="1.6" fill="#d0c8f8" stroke="#3a38d0" stroke-width="1.1" transform="rotate(2.788221257643011 77.9 125.2)" />
<ellipse cx="48.7" cy="126.4" rx="3.4" ry="2.0" fill="#a098e8" stroke="#2020b0" stroke-width="1.1" transform="rotate(8.933548248534045 48.7 126.4)" />
<ellipse cx="74.0" cy="108.1" rx="2.9" ry="2.2" fill="#a098e8" stroke="#3a38d0" stroke-width="1.1" transform="rotate(8.878073224747695 74.0 108.1)" />
<ellipse cx="59.6" cy="134.8" rx="4.1" ry="1.5" fill="#a098e8" stroke="#2020b0" stroke-width="1.1" transform="rotate(-4.901168044132403 59.6 134.8)" />
<ellipse cx="66.0" cy="134.7" rx="2.4" ry="2.3" fill="#a098e8" stroke="#2414c0" stroke-width="1.1" transform="rotate(-5.175378143747378 66.0 134.7)" />
<ellipse cx="61.3" cy="131.2" rx="4.8" ry="2.4" fill="#b8b0f0" stroke="#3a38d0" stroke-width="1.1" transform="rotate(-1.3764899092263825 61.3 131.2)" />
<ellipse cx="43.5" cy="120.2" rx="2.6" ry="1.9" fill="#a098e8" stroke="#2020b0" stroke-width="1.1" transform="rotate(4.71670633331528 43.5 120.2)" />
<ellipse cx="67.0" cy="145.2" rx="4.4" ry="2.3" fill="#a098e8" stroke="#2020b0" stroke-width="1.1" transform="rotate(-5.996619643402672 67.0 145.2)" />
<ellipse cx="75.2" cy="139.6" rx="4.1" ry="1.4" fill="#a098e8" stroke="#2020b0" stroke-width="1.1" transform="rotate(3.7315201076288123 75.2 139.6)" />
<ellipse cx="58.7" cy="130.6" rx="2.6" ry="1.9" fill="#d0c8f8" stroke="#3a38d0" stroke-width="1.1" transform="rotate(1.6136621304987582 58.7 130.6)" />
<ellipse cx="42.7" cy="117.8" rx="2.2" ry="1.6" fill="#d0c8f8" stroke="#2414c0" stroke-width="1.1" transform="rotate(4.414342688393189 42.7 117.8)" />
<ellipse cx="65.8" cy="131.9" rx="3.3" ry="1.4" fill="#b8b0f0" stroke="#3a38d0" stroke-width="1.1" transform="rotate(2.459834433151647 65.8 131.9)" />
<ellipse cx="62.6" cy="122.8" rx="4.7" ry="1.3" fill="#b8b0f0" stroke="#2414c0" stroke-width="1.1" transform="rotate(9.277574026630962 62.6 122.8)" />
<ellipse cx="53.9" cy="142.4" rx="4.1" ry="1.6" fill="#d0c8f8" stroke="#2414c0" stroke-width="1.1" transform="rotate(0.020691141886439723 53.9 142.4)" />
<ellipse cx="66.5" cy="108.1" rx="3.4" ry="1.9" fill="#d0c8f8" stroke="#2414c0" stroke-width="1.1" transform="rotate(-0.7965689212632228 66.5 108.1)" />
<ellipse cx="69.3" cy="120.4" rx="4.1" ry="2.2" fill="#d0c8f8" stroke="#2020b0" stroke-width="1.1" transform="rotate(-1.2016666437278047 69.3 120.4)" />
<ellipse cx="61.7" cy="115.6" rx="4.3" ry="1.2" fill="#a098e8" stroke="#3a38d0" stroke-width="1.1" transform="rotate(2.6506868462558266 61.7 115.6)" />
<ellipse cx="46.5" cy="123.9" rx="4.4" ry="1.4" fill="#a098e8" stroke="#2414c0" stroke-width="1.1" transform="rotate(-1.4182067210066567 46.5 123.9)" />
<ellipse cx="53.9" cy="120.4" rx="3.9" ry="1.5" fill="#d0c8f8" stroke="#3a38d0" stroke-width="1.1" transform="rotate(-7.03610939892541 53.9 120.4)" />
<ellipse cx="65.0" cy="139.8" rx="3.1" ry="1.7" fill="#d0c8f8" stroke="#3a38d0" stroke-width="1.1" transform="rotate(-3.203156529828539 65.0 139.8)" />
<ellipse cx="69.2" cy="124.6" rx="4.8" ry="2.2" fill="#b8b0f0" stroke="#2414c0" stroke-width="1.1" transform="rotate(5.775613368315934 69.2 124.6)" />
<ellipse cx="71.8" cy="105.5" rx="2.8" ry="2.3" fill="#d0c8f8" stroke="#2020b0" stroke-width="1.1" transform="rotate(6.422975020918692 71.8 105.5)" />
<ellipse cx="53.6" cy="136.7" rx="2.9" ry="1.4" fill="#a098e8" stroke="#2414c0" stroke-width="1.1" transform="rotate(4.980066698761139 53.6 136.7)" />
<ellipse cx="72.7" cy="127.8" rx="2.1" ry="2.2" fill="#b8b0f0" stroke="#2414c0" stroke-width="1.1" transform="rotate(-6.0623723691956215 72.7 127.8)" />
<ellipse cx="70.7" cy="146.3" rx="4.9" ry="2.1" fill="#d0c8f8" stroke="#2414c0" stroke-width="1.1" transform="rotate(2.1372745798234494 70.7 146.3)" />
<ellipse cx="43.9" cy="134.2" rx="3.6" ry="1.7" fill="#d0c8f8" stroke="#2414c0" stroke-width="1.1" transform="rotate(3.02992286184724 43.9 134.2)" />
<ellipse cx="70.4" cy="125.3" rx="3.9" ry="1.8" fill="#d0c8f8" stroke="#3a38d0" stroke-width="1.1" transform="rotate(7.05685428006479 70.4 125.3)" />
<ellipse cx="45.9" cy="137.9" rx="3.1" ry="1.3" fill="#d0c8f8" stroke="#3a38d0" stroke-width="1.1" transform="rotate(0.9753646561302141 45.9 137.9)" />
<ellipse cx="76.6" cy="118.7" rx="2.2" ry="2.3" fill="#a098e8" stroke="#2414c0" stroke-width="1.1" transform="rotate(-5.365970714666972 76.6 118.7)" />
<ellipse cx="56.1" cy="140.3" rx="4.5" ry="2.3" fill="#b8b0f0" stroke="#2414c0" stroke-width="1.1" transform="rotate(3.732051355427819 56.1 140.3)" />
<ellipse cx="61.5" cy="146.2" rx="4.2" ry="2.0" fill="#b8b0f0" stroke="#2020b0" stroke-width="1.1" transform="rotate(-5.441220613260345 61.5 146.2)" />
<rect x="64.0" y="127.3" width="3.4" height="1.0" fill="#ffffff"/>
<rect x="66.6" y="112.3" width="2.8" height="1.4" fill="#e8e8ff"/>
<rect x="71.5" y="120.8" width="3.3" height="0.9" fill="#e8e8ff"/>
<rect x="75.2" y="123.5" width="2.5" height="0.8" fill="#ffffff"/>
<rect x="54.9" y="138.1" width="2.3" height="1.3" fill="#e8e8ff"/>
<rect x="48.5" y="127.1" width="3.3" height="1.3" fill="#e8e8ff"/>
<rect x="72.8" y="120.6" width="3.5" height="1.1" fill="#e8e8ff"/>
<rect x="57.8" y="118.8" width="1.9" height="0.8" fill="#ffffff"/>
<rect x="53.2" y="128.4" width="2.0" height="0.6" fill="#ffffff"/>
<rect x="59.0" y="124.0" width="3.4" height="1.2" fill="#e8e8ff"/>
<rect x="62.0" y="133.5" width="2.4" height="1.3" fill="#ffffff"/>
<rect x="75.5" y="135.9" width="2.3" height="0.9" fill="#e8e8ff"/>
<rect x="60.9" y="125.2" width="1.6" height="0.8" fill="#ffffff"/>
<rect x="51.0" y="122.9" width="1.7" height="1.1" fill="#ffffff"/>
<rect x="62.6" y="146.1" width="1.6" height="0.8" fill="#ffffff"/>
<rect x="57.7" y="134.1" width="2.7" height="1.0" fill="#e8e8ff"/>
<rect x="49.6" y="128.5" width="2.5" height="0.8" fill="#e8e8ff"/>
<rect x="50.5" y="138.5" width="2.5" height="1.2" fill="#e8e8ff"/>
<rect x="62.0" y="117.8" width="1.8" height="1.0" fill="#e8e8ff"/>
<rect x="46.8" y="130.1" width="2.9" height="0.8" fill="#ffffff"/>
<rect x="57.4" y="116.3" width="2.6" height="1.2" fill="#ffffff"/>
<rect x="56.2" y="118.5" width="3.1" height="1.3" fill="#ffffff"/>
<rect x="68.9" y="118.6" width="2.2" height="0.6" fill="#e8e8ff"/>
<rect x="46.9" y="120.6" width="1.9" height="1.1" fill="#e8e8ff"/>
<rect x="56.7" y="140.7" width="3.4" height="0.9" fill="#e8e8ff"/>
<rect x="52.8" y="118.6" width="2.2" height="1.0" fill="#ffffff"/>
<rect x="76.5" y="133.2" width="2.5" height="1.1" fill="#ffffff"/>
<rect x="70.8" y="113.2" width="3.3" height="1.2" fill="#ffffff"/>
<rect x="69.3" y="128.2" width="2.4" height="1.1" fill="#ffffff"/>
<rect x="48.7" y="146.0" width="2.4" height="1.2" fill="#e8e8ff"/>
<ellipse cx="48.6" cy="116.1" rx="5.0" ry="2.5" fill="#c8c0f4" stroke="#2010b8" stroke-width="1.6" />
<ellipse cx="17.6" cy="138.0" rx="4.5" ry="2.0" fill="#c8c0f4" stroke="#2010b8" stroke-width="1.6" />
<ellipse cx="47.0" cy="149.1" rx="3.5" ry="1.6" fill="#c8c0f4" stroke="#2010b8" stroke-width="1.6" />
<ellipse cx="36.7" cy="157.0" rx="3.0" ry="1.5" fill="#c8c0f4" stroke="#2010b8" stroke-width="1.6" />
<ellipse cx="54.2" cy="157.0" rx="3.0" ry="1.8" fill="#c8c0f4" stroke="#2010b8" stroke-width="1.6" />
<ellipse cx="64.5" cy="155.2" rx="5.0" ry="1.8" fill="#c8c0f4" stroke="#2010b8" stroke-width="1.6" />
<ellipse cx="68.2" cy="93.7" rx="3.0" ry="2.0" fill="#c8c0f4" stroke="#2010b8" stroke-width="1.6" />
<ellipse cx="76.5" cy="90.2" rx="3.0" ry="2.0" fill="#c8c0f4" stroke="#2010b8" stroke-width="1.6" />
<ellipse cx="63.7" cy="100.5" rx="3.5" ry="1.5" fill="#c8c0f4" stroke="#2010b8" stroke-width="1.6" />
<ellipse cx="46.2" cy="134.8" rx="6.0" ry="2.5" fill="#c8c0f4" stroke="#2010b8" stroke-width="1.6" />
<ellipse cx="70.0" cy="148.0" rx="6.0" ry="2.2" fill="#c8c0f4" stroke="#2010b8" stroke-width="1.6" />
<rect x="8.50" y="7.00" width="70.00" height="76.00" stroke="#555" stroke-width="1.3" fill="none" />
<rect x="8.50" y="87.00" width="70.00" height="76.00" stroke="#555" stroke-width="1.3" fill="none" />
<line x1="78.50" y1="11.50" x2="80.30" y2="11.50" stroke="#444" stroke-width="1" />
<line x1="78.50" y1="17.50" x2="81.50" y2="17.50" stroke="#444" stroke-width="1" />
<line x1="78.50" y1="23.50" x2="80.30" y2="23.50" stroke="#444" stroke-width="1" />
<line x1="78.50" y1="29.50" x2="80.30" y2="29.50" stroke="#444" stroke-width="1" />
<line x1="78.50" y1="35.50" x2="80.30" y2="35.50" stroke="#444" stroke-width="1" />
<line x1="78.50" y1="41.50" x2="80.30" y2="41.50" stroke="#444" stroke-width="1" />
<line x1="78.50" y1="46.50" x2="81.50" y2="46.50" stroke="#444" stroke-width="1" />
<line x1="78.50" y1="52.50" x2="80.30" y2="52.50" stroke="#444" stroke-width="1" />
<line x1="78.50" y1="58.50" x2="80.30" y2="58.50" stroke="#444" stroke-width="1" />
<line x1="78.50" y1="64.50" x2="80.30" y2="64.50" stroke="#444" stroke-width="1" />
<line x1="78.50" y1="70.50" x2="80.30" y2="70.50" stroke="#444" stroke-width="1" />
<line x1="78.50" y1="76.50" x2="81.50" y2="76.50" stroke="#444" stroke-width="1" />
<line x1="78.50" y1="82.50" x2="80.30" y2="82.50" stroke="#444" stroke-width="1" />
<line x1="78.50" y1="92.50" x2="80.30" y2="92.50" stroke="#444" stroke-width="1" />
<line x1="78.50" y1="98.50" x2="81.50" y2="98.50" stroke="#444" stroke-width="1" />
<line x1="78.50" y1="103.50" x2="80.30" y2="103.50" stroke="#444" stroke-width="1" />
<line x1="78.50" y1="109.50" x2="80.30" y2="109.50" stroke="#444" stroke-width="1" />
<line x1="78.50" y1="115.50" x2="80.30" y2="115.50" stroke="#444" stroke-width="1" />
<line x1="78.50" y1="121.50" x2="80.30" y2="121.50" stroke="#444" stroke-width="1" />
<line x1="78.50" y1="127.50" x2="81.50" y2="127.50" stroke="#444" stroke-width="1" />
<line x1="78.50" y1="133.50" x2="80.30" y2="133.50" stroke="#444" stroke-width="1" />
<line x1="78.50" y1="138.50" x2="80.30" y2="138.50" stroke="#444" stroke-width="1" />
<line x1="78.50" y1="144.50" x2="80.30" y2="144.50" stroke="#444" stroke-width="1" />
<line x1="78.50" y1="150.50" x2="80.30" y2="150.50" stroke="#444" stroke-width="1" />
<line x1="78.50" y1="156.50" x2="81.50" y2="156.50" stroke="#444" stroke-width="1" />
<line x1="78.50" y1="162.50" x2="80.30" y2="162.50" stroke="#444" stroke-width="1" />
<line x1="68.50" y1="163.00" x2="68.50" y2="166.00" stroke="#444" stroke-width="1" />
<line x1="56.50" y1="163.00" x2="56.50" y2="164.80" stroke="#444" stroke-width="1" />
<line x1="45.50" y1="163.00" x2="45.50" y2="166.00" stroke="#444" stroke-width="1" />
<line x1="33.50" y1="163.00" x2="33.50" y2="164.80" stroke="#444" stroke-width="1" />
<line x1="21.50" y1="163.00" x2="21.50" y2="166.00" stroke="#444" stroke-width="1" />
<line x1="10.50" y1="163.00" x2="10.50" y2="164.80" stroke="#444" stroke-width="1" />
<text transform="translate(86.80,17.50) rotate(-90)" x="0" y="2.95" font-size="8.2" fill="#222" text-anchor="middle"  stroke="#222" stroke-width="0.15">110</text>
<text transform="translate(86.80,98.00) rotate(-90)" x="0" y="2.95" font-size="8.2" fill="#222" text-anchor="middle"  stroke="#222" stroke-width="0.15">110</text>
<text transform="translate(86.80,46.90) rotate(-90)" x="0" y="2.95" font-size="8.2" fill="#222" text-anchor="middle"  stroke="#222" stroke-width="0.15">120</text>
<text transform="translate(86.80,127.20) rotate(-90)" x="0" y="2.95" font-size="8.2" fill="#222" text-anchor="middle"  stroke="#222" stroke-width="0.15">120</text>
<text transform="translate(86.80,76.30) rotate(-90)" x="0" y="2.95" font-size="8.2" fill="#222" text-anchor="middle"  stroke="#222" stroke-width="0.15">130</text>
<text transform="translate(86.80,156.40) rotate(-90)" x="0" y="2.95" font-size="8.2" fill="#222" text-anchor="middle"  stroke="#222" stroke-width="0.15">130</text>
<text x="21.80" y="173.55" font-size="8.2" fill="#222" text-anchor="middle"  stroke="#222" stroke-width="0.15">11</text>
<text x="45.25" y="173.55" font-size="8.2" fill="#222" text-anchor="middle"  stroke="#222" stroke-width="0.15">10</text>
<text x="68.70" y="173.55" font-size="8.2" fill="#222" text-anchor="middle"  stroke="#222" stroke-width="0.15">9</text>
<text x="19.60" y="25.44" font-size="16.5" fill="#111" text-anchor="middle"  stroke="#111" stroke-width="0.15">A</text>
<text x="104.50" y="15.00" font-size="7.5" fill="#b05a48" text-anchor="start"  stroke="#b05a48" stroke-width="0.15">1200 MHz</text>
<text x="104.00" y="24.30" font-size="7.5" fill="#3a30c0" text-anchor="start"  stroke="#3a30c0" stroke-width="0.15">950 MHz</text>
<polyline points="98.0,156.0 100.9,148.4 103.7,156.7 106.4,147.7 109.2,156.0 111.3,148.4 114.7,156.7 117.5,151.0 119.6,145.6 122.4,127.7 123.5,100.0 125.5,84.0 127.3,74.0 128.3,72.0 129.3,74.0 131.1,84.0 132.8,100.0 134.1,131.8 138.3,147.0 142.4,156.7 145.2,151.2 147.2,159.5 150.0,144.3 152.5,157.0 155.0,150.0 158.0,155.0" stroke="#a87040" stroke-width="1.1" fill="none" stroke-linejoin="round" stroke-linecap="round" />
<polyline points="98.8,152.6 100.5,148.0 102.0,151.0 103.7,147.0 105.5,152.0 107.8,145.6 109.2,149.8 112.0,141.5 114.7,147.0 116.8,146.3 118.9,133.2 121.5,100.0 124.5,82.0 127.0,73.0 128.3,71.7 129.6,73.0 132.0,82.0 134.0,100.0 135.5,120.7 139.6,145.6 142.5,154.0 145.2,160.9 147.5,152.0 149.3,147.0 152.0,158.0 154.9,152.6 156.5,157.0 158.3,159.5" stroke="#5a3ad0" stroke-width="1.1" fill="none" stroke-linejoin="round" stroke-linecap="round" />
<line x1="97.10" y1="165.50" x2="162.00" y2="165.50" stroke="#444" stroke-width="1" />
<line x1="109.50" y1="165.50" x2="109.50" y2="167.50" stroke="#444" stroke-width="1" />
<line x1="141.50" y1="165.50" x2="141.50" y2="167.50" stroke="#444" stroke-width="1" />
<text x="112.50" y="175.83" font-size="7.3" fill="#222" text-anchor="middle"  stroke="#222" stroke-width="0.15">12.8</text>
<text x="145.80" y="175.83" font-size="7.3" fill="#222" text-anchor="middle"  stroke="#222" stroke-width="0.15">12.4</text>
<line x1="107.50" y1="119.20" x2="112.50" y2="119.20" stroke="#444" stroke-width="0.9" />
<polygon points="112.8,119.2 110.3,117.7 110.3,120.7" fill="#444"/>
<line x1="148.00" y1="119.20" x2="143.00" y2="119.20" stroke="#444" stroke-width="0.9" />
<polygon points="142.7,119.2 145.2,117.7 145.2,120.7" fill="#444"/>
<line x1="96.60" y1="162.00" x2="96.19" y2="180.50" stroke="#222" stroke-width="0.9" />
<polygon points="96.1,184.5 94.4,180.5 98.0,180.5" fill="#222"/>
<ellipse cx="96.0" cy="189.2" rx="2.2" ry="1.6" fill="#2a2a90" stroke="none" stroke-width="1" />
<polyline points="176.9,150.5 179.0,155.3 181.8,145.6 183.8,152.6 185.2,149.1 188.0,147.7 190.7,149.8 192.8,142.9 194.9,127.7 197.2,105.0 198.8,88.0 199.8,80.0 200.4,79.0 201.2,80.0 202.2,88.0 203.2,100.0 205.3,130.4 207.3,144.3 209.0,160.9 210.8,147.0 212.9,149.8 215.0,146.3 217.7,153.2 221.2,152.6" stroke="#a87040" stroke-width="1.1" fill="none" stroke-linejoin="round" stroke-linecap="round" />
<polyline points="176.9,144.3 179.7,145.6 181.8,136.7 184.5,145.0 186.6,136.2 189.4,136.7 190.7,130.4 192.8,112.4 195.6,100.0 198.0,84.0 199.4,78.0 200.0,76.8 200.8,78.0 202.3,84.0 204.6,100.0 206.7,118.0 210.1,136.7 212.2,135.3 214.3,141.5 216.3,139.4 220.5,147.7" stroke="#5a3ad0" stroke-width="1.1" fill="none" stroke-linejoin="round" stroke-linecap="round" />
<line x1="172.00" y1="165.50" x2="223.20" y2="165.50" stroke="#444" stroke-width="1" />
<line x1="185.50" y1="165.50" x2="185.50" y2="167.50" stroke="#444" stroke-width="1" />
<line x1="207.50" y1="165.50" x2="207.50" y2="167.50" stroke="#444" stroke-width="1" />
<text x="185.20" y="175.63" font-size="7.3" fill="#222" text-anchor="middle"  stroke="#222" stroke-width="0.15">10.2</text>
<text x="207.00" y="175.63" font-size="7.3" fill="#222" text-anchor="middle"  stroke="#222" stroke-width="0.15">9.8</text>
<line x1="181.80" y1="112.40" x2="188.00" y2="112.40" stroke="#444" stroke-width="0.9" />
<polygon points="188.3,112.4 185.8,110.9 185.8,113.9" fill="#444"/>
<line x1="219.10" y1="112.40" x2="212.90" y2="112.40" stroke="#444" stroke-width="0.9" />
<polygon points="212.6,112.4 215.1,110.9 215.1,113.9" fill="#444"/>
<line x1="158.00" y1="76.00" x2="186.43" y2="97.76" stroke="#222" stroke-width="0.9" />
<polygon points="190.0,100.5 185.2,99.4 187.7,96.2" fill="#222"/>
<text x="101.00" y="183.08" font-size="8.0" fill="#b06a48" text-anchor="start"  stroke="#b06a48" stroke-width="0.15">124 Hz, 0.10 ppm</text>
<text x="101.00" y="192.68" font-size="8.0" fill="#3a30c0" text-anchor="start"  stroke="#3a30c0" stroke-width="0.15">155 Hz, 0.16 ppm</text>
<text x="170.00" y="183.28" font-size="8.0" fill="#b06a48" text-anchor="start"  stroke="#b06a48" stroke-width="0.15">148 Hz, 0.12 ppm</text>
<text x="170.00" y="192.88" font-size="8.0" fill="#3a30c0" text-anchor="start"  stroke="#3a30c0" stroke-width="0.15">217 Hz, 0.23 ppm</text>
<rect x="343.0" y="24.0" width="70.0" height="16.0" fill="#fdf0f5" opacity="1"/>
<rect x="376.0" y="36.0" width="16.0" height="109.0" fill="#fdf0f5" opacity="1"/>
<rect x="424.0" y="73.0" width="70.0" height="15.0" fill="#fdf0f5" opacity="1"/>
<rect x="453.0" y="88.0" width="15.0" height="84.0" fill="#fdf0f5" opacity="1"/>
<rect x="398.0" y="108.0" width="47.0" height="37.0" fill="#fdf0f5" opacity="1"/>
<rect x="430.0" y="150.0" width="52.0" height="20.0" fill="#fdf0f5" opacity="1"/>
<rect x="416.0" y="160.0" width="16.0" height="10.0" fill="#fdf0f5" opacity="1"/>
<rect x="428.0" y="36.0" width="27.0" height="17.0" fill="#fdf0f5" opacity="1"/>
<rect x="416.0" y="54.0" width="14.0" height="9.0" fill="#fdf0f5" opacity="1"/>
<rect x="289.50" y="6.50" width="233.00" height="189.00" stroke="#5a5a5a" stroke-width="1" fill="none" />
<line x1="520.50" y1="195.50" x2="520.50" y2="197.50" stroke="#444" stroke-width="1" />
<line x1="510.50" y1="195.50" x2="510.50" y2="197.50" stroke="#444" stroke-width="1" />
<line x1="500.50" y1="195.50" x2="500.50" y2="197.50" stroke="#444" stroke-width="1" />
<line x1="490.50" y1="195.50" x2="490.50" y2="197.50" stroke="#444" stroke-width="1" />
<line x1="479.50" y1="195.50" x2="479.50" y2="200.00" stroke="#444" stroke-width="1" />
<line x1="469.50" y1="195.50" x2="469.50" y2="197.50" stroke="#444" stroke-width="1" />
<line x1="459.50" y1="195.50" x2="459.50" y2="197.50" stroke="#444" stroke-width="1" />
<line x1="449.50" y1="195.50" x2="449.50" y2="197.50" stroke="#444" stroke-width="1" />
<line x1="438.50" y1="195.50" x2="438.50" y2="197.50" stroke="#444" stroke-width="1" />
<line x1="428.50" y1="195.50" x2="428.50" y2="200.00" stroke="#444" stroke-width="1" />
<line x1="418.50" y1="195.50" x2="418.50" y2="197.50" stroke="#444" stroke-width="1" />
<line x1="407.50" y1="195.50" x2="407.50" y2="197.50" stroke="#444" stroke-width="1" />
<line x1="397.50" y1="195.50" x2="397.50" y2="197.50" stroke="#444" stroke-width="1" />
<line x1="387.50" y1="195.50" x2="387.50" y2="197.50" stroke="#444" stroke-width="1" />
<line x1="377.50" y1="195.50" x2="377.50" y2="200.00" stroke="#444" stroke-width="1" />
<line x1="366.50" y1="195.50" x2="366.50" y2="197.50" stroke="#444" stroke-width="1" />
<line x1="356.50" y1="195.50" x2="356.50" y2="197.50" stroke="#444" stroke-width="1" />
<line x1="346.50" y1="195.50" x2="346.50" y2="197.50" stroke="#444" stroke-width="1" />
<line x1="336.50" y1="195.50" x2="336.50" y2="197.50" stroke="#444" stroke-width="1" />
<line x1="325.50" y1="195.50" x2="325.50" y2="200.00" stroke="#444" stroke-width="1" />
<line x1="315.50" y1="195.50" x2="315.50" y2="197.50" stroke="#444" stroke-width="1" />
<line x1="305.50" y1="195.50" x2="305.50" y2="197.50" stroke="#444" stroke-width="1" />
<line x1="295.50" y1="195.50" x2="295.50" y2="197.50" stroke="#444" stroke-width="1" />
<line x1="522.50" y1="13.50" x2="524.50" y2="13.50" stroke="#444" stroke-width="1" />
<line x1="522.50" y1="19.50" x2="524.50" y2="19.50" stroke="#444" stroke-width="1" />
<line x1="522.50" y1="26.50" x2="524.50" y2="26.50" stroke="#444" stroke-width="1" />
<line x1="522.50" y1="33.50" x2="524.50" y2="33.50" stroke="#444" stroke-width="1" />
<line x1="522.50" y1="40.50" x2="527.00" y2="40.50" stroke="#444" stroke-width="1" />
<line x1="522.50" y1="46.50" x2="524.50" y2="46.50" stroke="#444" stroke-width="1" />
<line x1="522.50" y1="53.50" x2="524.50" y2="53.50" stroke="#444" stroke-width="1" />
<line x1="522.50" y1="60.50" x2="524.50" y2="60.50" stroke="#444" stroke-width="1" />
<line x1="522.50" y1="67.50" x2="524.50" y2="67.50" stroke="#444" stroke-width="1" />
<line x1="522.50" y1="73.50" x2="527.00" y2="73.50" stroke="#444" stroke-width="1" />
<line x1="522.50" y1="80.50" x2="524.50" y2="80.50" stroke="#444" stroke-width="1" />
<line x1="522.50" y1="87.50" x2="524.50" y2="87.50" stroke="#444" stroke-width="1" />
<line x1="522.50" y1="94.50" x2="524.50" y2="94.50" stroke="#444" stroke-width="1" />
<line x1="522.50" y1="100.50" x2="524.50" y2="100.50" stroke="#444" stroke-width="1" />
<line x1="522.50" y1="107.50" x2="527.00" y2="107.50" stroke="#444" stroke-width="1" />
<line x1="522.50" y1="114.50" x2="524.50" y2="114.50" stroke="#444" stroke-width="1" />
<line x1="522.50" y1="121.50" x2="524.50" y2="121.50" stroke="#444" stroke-width="1" />
<line x1="522.50" y1="127.50" x2="524.50" y2="127.50" stroke="#444" stroke-width="1" />
<line x1="522.50" y1="134.50" x2="524.50" y2="134.50" stroke="#444" stroke-width="1" />
<line x1="522.50" y1="141.50" x2="527.00" y2="141.50" stroke="#444" stroke-width="1" />
<line x1="522.50" y1="148.50" x2="524.50" y2="148.50" stroke="#444" stroke-width="1" />
<line x1="522.50" y1="154.50" x2="524.50" y2="154.50" stroke="#444" stroke-width="1" />
<line x1="522.50" y1="161.50" x2="524.50" y2="161.50" stroke="#444" stroke-width="1" />
<line x1="522.50" y1="168.50" x2="524.50" y2="168.50" stroke="#444" stroke-width="1" />
<line x1="522.50" y1="175.50" x2="527.00" y2="175.50" stroke="#444" stroke-width="1" />
<line x1="522.50" y1="181.50" x2="524.50" y2="181.50" stroke="#444" stroke-width="1" />
<line x1="522.50" y1="188.50" x2="524.50" y2="188.50" stroke="#444" stroke-width="1" />
<text x="325.90" y="208.05" font-size="8.2" fill="#222" text-anchor="middle"  stroke="#222" stroke-width="0.15">9</text>
<text x="377.20" y="208.05" font-size="8.2" fill="#222" text-anchor="middle"  stroke="#222" stroke-width="0.15">8</text>
<text x="428.50" y="208.05" font-size="8.2" fill="#222" text-anchor="middle"  stroke="#222" stroke-width="0.15">7</text>
<text x="479.80" y="208.05" font-size="8.2" fill="#222" text-anchor="middle"  stroke="#222" stroke-width="0.15">6</text>
<text transform="translate(532.50,40.00) rotate(-90)" x="0" y="2.95" font-size="8.2" fill="#222" text-anchor="middle"  stroke="#222" stroke-width="0.15">115</text>
<text transform="translate(532.50,73.75) rotate(-90)" x="0" y="2.95" font-size="8.2" fill="#222" text-anchor="middle"  stroke="#222" stroke-width="0.15">120</text>
<text transform="translate(532.50,107.50) rotate(-90)" x="0" y="2.95" font-size="8.2" fill="#222" text-anchor="middle"  stroke="#222" stroke-width="0.15">125</text>
<text transform="translate(532.50,141.25) rotate(-90)" x="0" y="2.95" font-size="8.2" fill="#222" text-anchor="middle"  stroke="#222" stroke-width="0.15">130</text>
<text transform="translate(532.50,175.00) rotate(-90)" x="0" y="2.95" font-size="8.2" fill="#222" text-anchor="middle"  stroke="#222" stroke-width="0.15">135</text>
<text x="414.60" y="216.93" font-size="8.7" fill="#222" text-anchor="middle"  stroke="#222" stroke-width="0.15"><tspan font-size="5.39" dy="-2.78">1</tspan><tspan dy="2.78">H Chemical Shift (ppm)</tspan></text>
<text transform="translate(540.10,93.80) rotate(-90)" x="0" y="3.13" font-size="8.7" fill="#222" text-anchor="middle"  stroke="#222" stroke-width="0.15"><tspan font-size="5.39" dy="-2.78">13</tspan><tspan dy="2.78">C Chemical Shift (ppm)</tspan></text>
<text x="304.60" y="25.58" font-size="15.5" fill="#111" text-anchor="middle"  stroke="#111" stroke-width="0.15">B</text>
<ellipse cx="435.3" cy="46.0" rx="4.2" ry="2.4" fill="#7a78e0" stroke="#2414c0" stroke-width="1.2" transform="rotate(-15 435.3 46.0)" />
<ellipse cx="440.0" cy="40.4" rx="2.0" ry="3.0" fill="#8a88e8" stroke="#2414c0" stroke-width="1.1" />
<ellipse cx="447.3" cy="47.1" rx="3.6" ry="2.8" fill="#6a4a50" stroke="#3a30a0" stroke-width="1.3" />
<ellipse cx="445.3" cy="38.7" rx="1.6" ry="1.2" fill="#8a6a3a" stroke="none" stroke-width="1" />
<ellipse cx="423.5" cy="58.5" rx="3.4" ry="1.8" fill="#7a5028" stroke="#4a3a1a" stroke-width="0.8" />
<ellipse cx="386.4" cy="134.0" rx="2.4" ry="1.6" fill="#7a4030" stroke="#4a3a1a" stroke-width="0.8" />
<ellipse cx="409.0" cy="118.5" rx="5.3" ry="2.8" fill="#c890c8" stroke="#6a4a2a" stroke-width="1.3" transform="rotate(-8 409.0 118.5)" />
<polygon points="413.5,114.5 424.5,112 423.5,117.5 414.5,119.5" fill="#e02838" stroke="#b02050" stroke-width="0.8"/>
<path d="M401.5,133.0 C401.8,131.3 403.2,129.0 405.0,128.0 C406.8,127.0 409.5,127.2 412.0,127.0 C414.5,126.8 417.3,126.4 420.0,126.5 C422.7,126.6 425.3,127.2 428.0,127.5 C430.7,127.8 433.8,127.9 436.0,128.5 C438.2,129.1 440.8,130.0 441.0,131.0 C441.2,132.0 439.2,133.8 437.0,134.5 C434.8,135.2 430.8,134.9 428.0,135.5 C425.2,136.1 423.0,137.3 420.0,138.0 C417.0,138.7 412.8,139.5 410.0,139.5 C407.2,139.5 404.4,139.1 403.0,138.0 C401.6,136.9 401.2,134.7 401.5,133.0 Z" stroke="#5a2a5a" stroke-width="1.3" fill="#d84a88" stroke-linejoin="round" stroke-linecap="round" />
<rect x="407" y="128.5" width="9" height="9" fill="#e02030"/>
<ellipse cx="421.0" cy="132.5" rx="5.5" ry="3.5" fill="#f4c0e0" stroke="none" stroke-width="1" />
<ellipse cx="403.5" cy="133.0" rx="2.0" ry="3.5" fill="#8a50c0" stroke="none" stroke-width="1" />
<rect x="408.0" y="130.3" width="1.6" height="1.1" fill="#ffffff"/>
<rect x="417.2" y="134.2" width="3.2" height="1.4" fill="#c060c0"/>
<rect x="421.8" y="131.8" width="2.6" height="0.6" fill="#c060c0"/>
<rect x="425.2" y="134.8" width="2.6" height="1.3" fill="#ffffff"/>
<rect x="416.4" y="136.0" width="1.6" height="0.8" fill="#ffffff"/>
<rect x="418.0" y="135.1" width="2.0" height="0.9" fill="#e83050"/>
<rect x="409.1" y="136.3" width="3.3" height="1.1" fill="#e83050"/>
<rect x="425.6" y="133.1" width="1.8" height="0.7" fill="#c060c0"/>
<rect x="418.3" y="136.0" width="2.7" height="1.2" fill="#ffffff"/>
<rect x="409.6" y="130.1" width="3.0" height="1.0" fill="#c060c0"/>
<rect x="413.8" y="133.1" width="2.5" height="1.2" fill="#c060c0"/>
<rect x="427.2" y="129.5" width="2.1" height="1.2" fill="#ffffff"/>
<rect x="418.2" y="133.5" width="2.4" height="1.1" fill="#ffffff"/>
<rect x="418.1" y="133.1" width="2.1" height="1.0" fill="#c060c0"/>
<rect x="425.4" y="133.1" width="2.9" height="1.3" fill="#ffffff"/>
<rect x="428.6" y="131.1" width="3.3" height="0.8" fill="#c060c0"/>
<rect x="416.7" y="132.3" width="2.4" height="0.7" fill="#e83050"/>
<rect x="411.8" y="129.6" width="2.1" height="0.7" fill="#c060c0"/>
<ellipse cx="419.0" cy="122.6" rx="2.0" ry="1.6" fill="#c8b8f0" stroke="none" stroke-width="1" />
<path d="M410.0,127.0 C410.8,126.6 412.5,125.1 415.0,124.8 C417.5,124.5 422.2,124.6 425.0,125.0 C427.8,125.4 430.8,126.7 432.0,127.0" stroke="#b8a8e8" stroke-width="1.0" fill="none" stroke-linejoin="round" stroke-linecap="round" />
<path d="M366.0,128.5 C366.2,129.4 366.9,134.4 367.3,134.0 C367.7,133.6 368.1,128.7 368.6,126.0 C369.1,123.3 369.7,120.9 370.4,117.6 C371.1,114.3 371.8,109.5 372.7,106.0 C373.6,102.5 374.9,101.9 375.7,96.9 C376.5,91.9 376.8,83.0 377.3,76.0 C377.8,69.0 378.4,60.8 378.8,55.0 C379.2,49.2 379.7,44.1 380.0,41.0 C380.3,37.9 380.5,36.7 380.8,36.5 C381.1,36.3 381.4,37.2 381.8,40.0 C382.2,42.8 382.4,45.0 383.0,53.0 C383.6,61.0 384.8,78.9 385.4,87.7 C386.0,96.5 386.1,101.0 386.5,106.0 C386.9,111.0 387.2,117.0 387.7,117.6 C388.2,118.2 389.1,110.4 389.5,109.6 C389.9,108.8 389.9,109.7 390.4,113.0 C390.9,116.3 392.0,126.5 392.3,129.2" stroke="#a0583a" stroke-width="1.1" fill="none" stroke-linejoin="round" stroke-linecap="round" />
<line x1="362.40" y1="144.50" x2="394.50" y2="144.50" stroke="#444" stroke-width="1" />
<line x1="371.50" y1="144.50" x2="371.50" y2="146.50" stroke="#444" stroke-width="1" />
<line x1="387.50" y1="144.50" x2="387.50" y2="146.50" stroke="#444" stroke-width="1" />
<text x="371.00" y="156.41" font-size="7.8" fill="#222" text-anchor="middle"  stroke="#222" stroke-width="0.15">7.9</text>
<text x="387.50" y="156.41" font-size="7.8" fill="#222" text-anchor="middle"  stroke="#222" stroke-width="0.15">7.7</text>
<line x1="368.80" y1="83.00" x2="374.30" y2="83.00" stroke="#444" stroke-width="0.9" />
<polygon points="374.6,83.0 372.1,81.5 372.1,84.5" fill="#444"/>
<line x1="394.60" y1="83.00" x2="388.80" y2="83.00" stroke="#444" stroke-width="0.9" />
<polygon points="388.5,83.0 391.0,81.5 391.0,84.5" fill="#444"/>
<path d="M437.6,161.7 C437.8,161.4 438.4,158.7 439.0,159.7 C439.6,160.7 440.3,168.3 441.0,167.6 C441.7,166.9 442.4,156.5 443.0,155.7 C443.6,154.9 443.6,162.9 444.3,162.7 C445.0,162.5 446.3,156.9 447.0,154.7 C447.7,152.5 447.8,151.2 448.3,149.7 C448.8,148.2 449.2,149.3 449.9,145.7 C450.6,142.0 451.5,134.8 452.3,127.8 C453.1,120.8 454.1,109.9 454.9,103.9 C455.7,97.9 456.3,94.7 457.0,92.0 C457.7,89.3 458.3,87.6 458.9,87.6 C459.5,87.6 460.0,90.0 460.5,92.0 C461.0,94.0 461.2,95.3 461.9,99.9 C462.6,104.5 463.9,114.1 464.9,119.8 C465.9,125.5 467.0,128.5 467.8,133.8 C468.6,139.1 469.1,149.0 469.8,151.7 C470.5,154.3 471.3,149.0 471.8,149.7 C472.3,150.4 472.3,153.7 472.8,155.7 C473.3,157.7 474.1,161.2 474.8,161.7 C475.5,162.2 476.1,158.9 476.8,158.7 C477.5,158.5 478.3,160.7 478.8,160.7 C479.3,160.7 479.6,159.0 479.8,158.7" stroke="#a0583a" stroke-width="1.1" fill="none" stroke-linejoin="round" stroke-linecap="round" />
<line x1="434.00" y1="173.50" x2="482.70" y2="173.50" stroke="#444" stroke-width="1" />
<line x1="446.50" y1="173.50" x2="446.50" y2="175.50" stroke="#444" stroke-width="1" />
<line x1="462.50" y1="173.50" x2="462.50" y2="175.50" stroke="#444" stroke-width="1" />
<line x1="478.50" y1="173.50" x2="478.50" y2="175.50" stroke="#444" stroke-width="1" />
<text x="446.70" y="186.41" font-size="7.8" fill="#222" text-anchor="middle"  stroke="#222" stroke-width="0.15">7.2</text>
<text x="462.40" y="186.41" font-size="7.8" fill="#222" text-anchor="middle"  stroke="#222" stroke-width="0.15">7.0</text>
<text x="478.20" y="186.41" font-size="7.8" fill="#222" text-anchor="middle"  stroke="#222" stroke-width="0.15">6.8</text>
<line x1="440.50" y1="129.00" x2="446.00" y2="129.00" stroke="#444" stroke-width="0.9" />
<polygon points="446.3,129.0 443.8,127.5 443.8,130.5" fill="#444"/>
<line x1="480.00" y1="129.00" x2="474.50" y2="129.00" stroke="#444" stroke-width="0.9" />
<polygon points="474.2,129.0 476.7,127.5 476.7,130.5" fill="#444"/>
<text x="347.30" y="34.48" font-size="8.0" fill="#8a5a3a" text-anchor="start"  stroke="#8a5a3a" stroke-width="0.15">118 Hz, 0.10 ppm</text>
<text x="428.20" y="83.08" font-size="8.0" fill="#8a5a3a" text-anchor="start"  stroke="#8a5a3a" stroke-width="0.15">174 Hz, 0.15 ppm</text>
<rect x="107.0" y="240.0" width="20.0" height="60.0" fill="#fdf0f5" opacity="1"/>
<rect x="100.0" y="288.0" width="34.0" height="30.0" fill="#fdf0f5" opacity="1"/>
<rect x="112.0" y="342.0" width="60.0" height="78.0" fill="#fdf0f5" opacity="1"/>
<rect x="186.0" y="230.0" width="52.0" height="70.0" fill="#fdf0f5" opacity="1"/>
<rect x="180.0" y="340.0" width="52.0" height="38.0" fill="#fdf0f5" opacity="1"/>
<rect x="136.5" y="225.0" width="4.5" height="222.0" fill="#e6fbfc" opacity="1"/>
<rect x="167.0" y="225.0" width="4.5" height="222.0" fill="#e6fbfc" opacity="1"/>
<rect x="138.1" y="226.0" width="1.6" height="2.1" fill="#3a3ad0"/>
<rect x="137.8" y="230.6" width="1.6" height="1.3" fill="#3a3ad0"/>
<rect x="137.9" y="234.0" width="1.6" height="1.9" fill="#3a3ad0"/>
<rect x="138.2" y="237.2" width="1.6" height="1.2" fill="#3a3ad0"/>
<rect x="137.7" y="241.9" width="1.6" height="1.8" fill="#3a3ad0"/>
<rect x="137.8" y="247.3" width="1.6" height="1.5" fill="#3a3ad0"/>
<rect x="137.6" y="251.2" width="1.6" height="1.4" fill="#3a3ad0"/>
<rect x="137.9" y="255.1" width="1.6" height="1.8" fill="#3a3ad0"/>
<rect x="137.9" y="259.0" width="1.6" height="1.4" fill="#3a3ad0"/>
<rect x="137.6" y="264.4" width="1.6" height="2.1" fill="#3a3ad0"/>
<rect x="138.2" y="268.0" width="1.6" height="1.1" fill="#3a3ad0"/>
<rect x="138.2" y="271.7" width="1.6" height="1.2" fill="#3a3ad0"/>
<rect x="138.2" y="276.6" width="1.6" height="2.0" fill="#3a3ad0"/>
<rect x="138.3" y="281.3" width="1.6" height="1.5" fill="#3a3ad0"/>
<rect x="137.9" y="285.6" width="1.6" height="1.6" fill="#3a3ad0"/>
<rect x="137.7" y="289.4" width="1.6" height="2.0" fill="#3a3ad0"/>
<rect x="138.2" y="292.9" width="1.6" height="1.3" fill="#3a3ad0"/>
<rect x="137.6" y="295.9" width="1.6" height="1.3" fill="#3a3ad0"/>
<rect x="137.7" y="300.5" width="1.6" height="1.3" fill="#3a3ad0"/>
<rect x="137.5" y="303.8" width="1.6" height="2.2" fill="#3a3ad0"/>
<rect x="138.2" y="307.8" width="1.6" height="1.7" fill="#3a3ad0"/>
<rect x="138.1" y="310.9" width="1.6" height="2.1" fill="#3a3ad0"/>
<rect x="137.7" y="316.3" width="1.6" height="1.2" fill="#3a3ad0"/>
<rect x="138.0" y="321.7" width="1.6" height="1.6" fill="#3a3ad0"/>
<rect x="137.9" y="325.2" width="1.6" height="1.8" fill="#3a3ad0"/>
<rect x="138.1" y="328.9" width="1.6" height="2.2" fill="#3a3ad0"/>
<rect x="137.5" y="331.9" width="1.6" height="1.6" fill="#3a3ad0"/>
<rect x="137.9" y="337.4" width="1.6" height="1.3" fill="#3a3ad0"/>
<rect x="138.0" y="341.5" width="1.6" height="1.8" fill="#3a3ad0"/>
<rect x="137.9" y="346.1" width="1.6" height="2.1" fill="#3a3ad0"/>
<rect x="137.7" y="351.6" width="1.6" height="1.3" fill="#3a3ad0"/>
<rect x="137.7" y="355.1" width="1.6" height="2.1" fill="#3a3ad0"/>
<rect x="137.6" y="360.0" width="1.6" height="2.2" fill="#3a3ad0"/>
<rect x="138.2" y="365.4" width="1.6" height="1.0" fill="#3a3ad0"/>
<rect x="138.2" y="370.0" width="1.6" height="1.5" fill="#3a3ad0"/>
<rect x="138.0" y="373.1" width="1.6" height="1.5" fill="#3a3ad0"/>
<rect x="138.3" y="377.4" width="1.6" height="1.7" fill="#3a3ad0"/>
<rect x="137.5" y="382.1" width="1.6" height="1.2" fill="#3a3ad0"/>
<rect x="137.5" y="385.8" width="1.6" height="1.4" fill="#3a3ad0"/>
<rect x="138.3" y="389.6" width="1.6" height="1.4" fill="#3a3ad0"/>
<rect x="138.2" y="392.7" width="1.6" height="1.3" fill="#3a3ad0"/>
<rect x="137.8" y="396.2" width="1.6" height="1.1" fill="#3a3ad0"/>
<rect x="138.0" y="399.9" width="1.6" height="1.3" fill="#3a3ad0"/>
<rect x="137.6" y="404.8" width="1.6" height="2.0" fill="#3a3ad0"/>
<rect x="138.0" y="408.2" width="1.6" height="1.5" fill="#3a3ad0"/>
<rect x="138.0" y="411.9" width="1.6" height="1.1" fill="#3a3ad0"/>
<rect x="138.2" y="417.3" width="1.6" height="1.2" fill="#3a3ad0"/>
<rect x="138.1" y="422.5" width="1.6" height="1.7" fill="#3a3ad0"/>
<rect x="138.1" y="427.4" width="1.6" height="1.6" fill="#3a3ad0"/>
<rect x="138.0" y="431.2" width="1.6" height="1.2" fill="#3a3ad0"/>
<rect x="138.1" y="436.2" width="1.6" height="1.6" fill="#3a3ad0"/>
<rect x="138.1" y="440.3" width="1.6" height="1.6" fill="#3a3ad0"/>
<rect x="138.1" y="445.6" width="1.6" height="1.7" fill="#3a3ad0"/>
<rect x="168.0" y="226.0" width="1.6" height="1.8" fill="#3a3ad0"/>
<rect x="168.6" y="231.0" width="1.6" height="2.1" fill="#3a3ad0"/>
<rect x="168.1" y="235.6" width="1.6" height="1.1" fill="#3a3ad0"/>
<rect x="168.8" y="240.2" width="1.6" height="1.5" fill="#3a3ad0"/>
<rect x="168.0" y="244.3" width="1.6" height="1.0" fill="#3a3ad0"/>
<rect x="168.2" y="248.7" width="1.6" height="1.3" fill="#3a3ad0"/>
<rect x="168.1" y="252.8" width="1.6" height="2.1" fill="#3a3ad0"/>
<rect x="168.1" y="258.0" width="1.6" height="1.6" fill="#3a3ad0"/>
<rect x="168.4" y="262.9" width="1.6" height="2.0" fill="#3a3ad0"/>
<rect x="168.2" y="268.0" width="1.6" height="1.9" fill="#3a3ad0"/>
<rect x="168.5" y="271.6" width="1.6" height="1.6" fill="#3a3ad0"/>
<rect x="168.1" y="276.7" width="1.6" height="2.1" fill="#3a3ad0"/>
<rect x="168.0" y="280.4" width="1.6" height="1.8" fill="#3a3ad0"/>
<rect x="168.5" y="283.9" width="1.6" height="1.4" fill="#3a3ad0"/>
<rect x="168.6" y="288.6" width="1.6" height="1.7" fill="#3a3ad0"/>
<rect x="168.4" y="291.9" width="1.6" height="1.6" fill="#3a3ad0"/>
<rect x="168.1" y="297.3" width="1.6" height="1.3" fill="#3a3ad0"/>
<rect x="168.6" y="301.5" width="1.6" height="1.3" fill="#3a3ad0"/>
<rect x="168.6" y="305.7" width="1.6" height="2.2" fill="#3a3ad0"/>
<rect x="168.2" y="310.1" width="1.6" height="1.1" fill="#3a3ad0"/>
<rect x="168.2" y="314.3" width="1.6" height="1.1" fill="#3a3ad0"/>
<rect x="168.8" y="318.5" width="1.6" height="2.2" fill="#3a3ad0"/>
<rect x="168.7" y="322.5" width="1.6" height="2.1" fill="#3a3ad0"/>
<rect x="168.1" y="325.7" width="1.6" height="1.9" fill="#3a3ad0"/>
<rect x="168.3" y="329.3" width="1.6" height="1.7" fill="#3a3ad0"/>
<rect x="168.2" y="333.9" width="1.6" height="1.1" fill="#3a3ad0"/>
<rect x="168.4" y="337.8" width="1.6" height="2.1" fill="#3a3ad0"/>
<rect x="168.1" y="341.8" width="1.6" height="2.1" fill="#3a3ad0"/>
<rect x="168.3" y="346.5" width="1.6" height="1.9" fill="#3a3ad0"/>
<rect x="168.3" y="350.6" width="1.6" height="1.1" fill="#3a3ad0"/>
<rect x="168.3" y="354.4" width="1.6" height="1.4" fill="#3a3ad0"/>
<rect x="168.8" y="358.4" width="1.6" height="1.2" fill="#3a3ad0"/>
<rect x="168.6" y="361.4" width="1.6" height="1.3" fill="#3a3ad0"/>
<rect x="168.3" y="364.6" width="1.6" height="2.0" fill="#3a3ad0"/>
<rect x="168.7" y="367.8" width="1.6" height="1.9" fill="#3a3ad0"/>
<rect x="168.2" y="372.9" width="1.6" height="1.1" fill="#3a3ad0"/>
<rect x="168.5" y="377.6" width="1.6" height="1.2" fill="#3a3ad0"/>
<rect x="168.3" y="383.0" width="1.6" height="1.4" fill="#3a3ad0"/>
<rect x="168.6" y="387.9" width="1.6" height="1.5" fill="#3a3ad0"/>
<rect x="168.6" y="391.0" width="1.6" height="1.5" fill="#3a3ad0"/>
<rect x="168.4" y="396.2" width="1.6" height="1.2" fill="#3a3ad0"/>
<rect x="168.7" y="399.4" width="1.6" height="1.5" fill="#3a3ad0"/>
<rect x="168.1" y="403.9" width="1.6" height="2.0" fill="#3a3ad0"/>
<rect x="168.7" y="408.1" width="1.6" height="1.7" fill="#3a3ad0"/>
<rect x="168.3" y="411.6" width="1.6" height="1.3" fill="#3a3ad0"/>
<rect x="168.6" y="415.2" width="1.6" height="1.8" fill="#3a3ad0"/>
<rect x="168.2" y="419.2" width="1.6" height="1.6" fill="#3a3ad0"/>
<rect x="168.1" y="423.9" width="1.6" height="1.8" fill="#3a3ad0"/>
<rect x="168.4" y="427.1" width="1.6" height="2.0" fill="#3a3ad0"/>
<rect x="168.4" y="431.4" width="1.6" height="1.4" fill="#3a3ad0"/>
<rect x="168.3" y="436.3" width="1.6" height="1.7" fill="#3a3ad0"/>
<rect x="168.1" y="440.0" width="1.6" height="1.7" fill="#3a3ad0"/>
<rect x="168.3" y="443.8" width="1.6" height="2.0" fill="#3a3ad0"/>
<path d="M180.0,300.0 C181.3,296.3 184.3,292.7 186.0,288.0 C187.7,283.3 187.7,275.7 190.0,272.0 C192.3,268.3 197.7,268.5 200.0,266.0 C202.3,263.5 205.3,259.7 204.0,257.0 C202.7,254.3 194.0,252.5 192.0,250.0 C190.0,247.5 188.7,243.7 192.0,242.0 C195.3,240.3 205.3,239.8 212.0,240.0 C218.7,240.2 228.0,241.3 232.0,243.0 C236.0,244.7 236.0,246.8 236.0,250.0 C236.0,253.2 232.5,257.8 232.0,262.0 C231.5,266.2 234.0,271.3 233.0,275.0 C232.0,278.7 227.5,280.5 226.0,284.0 C224.5,287.5 226.0,293.3 224.0,296.0 C222.0,298.7 216.0,297.0 214.0,300.0 C212.0,303.0 214.0,310.3 212.0,314.0 C210.0,317.7 206.3,320.7 202.0,322.0 C197.7,323.3 191.7,322.3 186.0,322.0 C180.3,321.7 171.3,321.7 168.0,320.0 C164.7,318.3 164.3,313.7 166.0,312.0 C167.7,310.3 175.7,312.0 178.0,310.0 C180.3,308.0 178.7,303.7 180.0,300.0 Z" stroke="none" stroke-width="0" fill="#ecdcf6" stroke-linejoin="round" stroke-linecap="round" />
<path d="M112.0,362.0 C113.7,359.3 121.3,358.3 124.0,356.0 C126.7,353.7 125.7,349.0 128.0,348.0 C130.3,347.0 135.7,348.7 138.0,350.0 C140.3,351.3 137.7,354.3 142.0,356.0 C146.3,357.7 159.7,356.8 164.0,360.0 C168.3,363.2 167.3,369.0 168.0,375.0 C168.7,381.0 167.7,390.2 168.0,396.0 C168.3,401.8 171.3,407.0 170.0,410.0 C168.7,413.0 164.7,413.3 160.0,414.0 C155.3,414.7 146.3,415.7 142.0,414.0 C137.7,412.3 136.3,407.7 134.0,404.0 C131.7,400.3 130.0,396.0 128.0,392.0 C126.0,388.0 124.3,383.3 122.0,380.0 C119.7,376.7 115.7,375.0 114.0,372.0 C112.3,369.0 110.3,364.7 112.0,362.0 Z" stroke="none" stroke-width="0" fill="#f0dcf2" stroke-linejoin="round" stroke-linecap="round" />
<ellipse cx="220.3" cy="236.0" rx="9.6" ry="3.5" fill="#c898dc" stroke="#2414c0" stroke-width="1.3" />
<ellipse cx="220.3" cy="236.0" rx="6.4" ry="1.7" fill="#8a5038" stroke="#5a3a20" stroke-width="0.5" />
<ellipse cx="197.0" cy="245.5" rx="5.6" ry="2.9" fill="#c898dc" stroke="#2414c0" stroke-width="1.3" />
<ellipse cx="197.0" cy="245.5" rx="3.2" ry="1.2" fill="#8a5038" stroke="#5a3a20" stroke-width="0.5" />
<ellipse cx="228.0" cy="246.5" rx="4.5" ry="1.5" fill="#d8d0f8" stroke="#2414c0" stroke-width="1.3" />
<ellipse cx="217.0" cy="248.0" rx="7.1" ry="4.3" fill="#c898dc" stroke="#2414c0" stroke-width="1.3" />
<ellipse cx="217.0" cy="248.0" rx="4.4" ry="2.2" fill="#8a5038" stroke="#5a3a20" stroke-width="0.5" />
<ellipse cx="203.0" cy="249.4" rx="3.5" ry="2.4" fill="#d82020" stroke="#8a3a2a" stroke-width="0.8" />
<ellipse cx="214.8" cy="262.7" rx="9.0" ry="6.0" fill="#c0a8ec" stroke="#2414c0" stroke-width="1.3" />
<ellipse cx="214.8" cy="262.7" rx="7.0" ry="4.5" fill="#d83030" stroke="#8a3a2a" stroke-width="1.0" />
<ellipse cx="214.8" cy="262.7" rx="3.1" ry="1.8" fill="#f08898" stroke="none" stroke-width="0" />
<ellipse cx="226.0" cy="258.0" rx="3.0" ry="2.0" fill="#d8d0f8" stroke="#2414c0" stroke-width="1.3" />
<ellipse cx="228.0" cy="268.0" rx="3.5" ry="1.6" fill="#d8d0f8" stroke="#2414c0" stroke-width="1.3" />
<ellipse cx="231.0" cy="276.0" rx="3.0" ry="1.5" fill="#d8d0f8" stroke="#2414c0" stroke-width="1.3" />
<ellipse cx="206.0" cy="262.0" rx="3.0" ry="2.0" fill="#d8d0f8" stroke="#2414c0" stroke-width="1.3" />
<path d="M192.0,271.4 C195.0,269.9 204.7,270.0 210.0,270.0 C215.3,270.0 221.6,269.9 224.0,271.4 C226.4,272.9 226.9,277.9 224.2,279.2 C221.5,280.5 210.4,276.4 207.7,279.2 C204.9,282.0 211.8,293.0 207.7,295.8 C203.6,298.6 187.4,298.6 183.4,295.8 C179.4,293.0 182.0,282.0 183.4,279.2 C184.8,276.4 190.6,280.3 192.0,279.0 C193.4,277.7 189.0,272.9 192.0,271.4 Z" stroke="#b02a40" stroke-width="1.0" fill="#e02a30" stroke-linejoin="round" stroke-linecap="round" />
<ellipse cx="222.5" cy="273.6" rx="1.5" ry="1.8" fill="#e84050" stroke="#c01818" stroke-width="0.8" transform="rotate(9.583732381886612 222.5 273.6)" />
<ellipse cx="185.4" cy="295.2" rx="1.9" ry="1.4" fill="#d02028" stroke="#c01818" stroke-width="0.8" transform="rotate(3.085774445941265 185.4 295.2)" />
<ellipse cx="200.6" cy="274.7" rx="1.7" ry="1.4" fill="#e02a30" stroke="#c01818" stroke-width="0.8" transform="rotate(7.935412325392296 200.6 274.7)" />
<ellipse cx="208.4" cy="276.7" rx="3.4" ry="1.2" fill="#e02a30" stroke="#d82828" stroke-width="0.8" transform="rotate(-8.818964414231196 208.4 276.7)" />
<ellipse cx="194.4" cy="287.9" rx="2.4" ry="1.2" fill="#f07080" stroke="#8a3a2a" stroke-width="0.8" transform="rotate(17.003235891933635 194.4 287.9)" />
<ellipse cx="204.1" cy="283.3" rx="2.3" ry="1.5" fill="#e84050" stroke="#a02020" stroke-width="0.8" transform="rotate(2.530875019365091 204.1 283.3)" />
<ellipse cx="206.9" cy="284.5" rx="2.6" ry="1.6" fill="#e02a30" stroke="#8a3a2a" stroke-width="0.8" transform="rotate(-16.47562173290001 206.9 284.5)" />
<ellipse cx="224.1" cy="279.2" rx="2.4" ry="1.3" fill="#e84050" stroke="#d82828" stroke-width="0.8" transform="rotate(-3.9736375192529536 224.1 279.2)" />
<ellipse cx="187.3" cy="293.1" rx="1.8" ry="1.4" fill="#f4a0b0" stroke="#d82828" stroke-width="0.8" transform="rotate(-6.868478086657973 187.3 293.1)" />
<ellipse cx="198.0" cy="274.9" rx="1.6" ry="1.4" fill="#e84050" stroke="#c01818" stroke-width="0.8" transform="rotate(-17.916316629930158 198.0 274.9)" />
<ellipse cx="200.2" cy="291.4" rx="3.3" ry="1.3" fill="#f07080" stroke="#8a3a2a" stroke-width="0.8" transform="rotate(8.305381990657892 200.2 291.4)" />
<ellipse cx="202.8" cy="271.7" rx="2.9" ry="1.8" fill="#f07080" stroke="#a02020" stroke-width="0.8" transform="rotate(17.709113097036457 202.8 271.7)" />
<ellipse cx="184.1" cy="282.9" rx="2.8" ry="1.2" fill="#e84050" stroke="#8a3a2a" stroke-width="0.8" transform="rotate(7.997731050549952 184.1 282.9)" />
<ellipse cx="191.2" cy="287.5" rx="3.5" ry="1.4" fill="#d02028" stroke="#c01818" stroke-width="0.8" transform="rotate(-12.773860984052124 191.2 287.5)" />
<ellipse cx="194.7" cy="272.5" rx="2.4" ry="1.1" fill="#f4a0b0" stroke="#c01818" stroke-width="0.8" transform="rotate(9.396193000128925 194.7 272.5)" />
<ellipse cx="185.0" cy="279.7" rx="3.2" ry="0.9" fill="#e84050" stroke="#8a3a2a" stroke-width="0.8" transform="rotate(5.401074702272126 185.0 279.7)" />
<ellipse cx="185.4" cy="287.8" rx="2.3" ry="1.1" fill="#e84050" stroke="#c01818" stroke-width="0.8" transform="rotate(-9.34901567623712 185.4 287.8)" />
<ellipse cx="186.1" cy="287.2" rx="1.8" ry="1.7" fill="#f4a0b0" stroke="#c01818" stroke-width="0.8" transform="rotate(-18.800838441026606 186.1 287.2)" />
<ellipse cx="194.7" cy="289.8" rx="1.9" ry="1.6" fill="#d02028" stroke="#d82828" stroke-width="0.8" transform="rotate(-2.2779060797254473 194.7 289.8)" />
<ellipse cx="200.9" cy="279.2" rx="2.0" ry="1.8" fill="#f07080" stroke="#8a3a2a" stroke-width="0.8" transform="rotate(4.3338044405682155 200.9 279.2)" />
<ellipse cx="187.8" cy="291.8" rx="3.4" ry="1.5" fill="#f4a0b0" stroke="#a02020" stroke-width="0.8" transform="rotate(13.940138174433422 187.8 291.8)" />
<ellipse cx="204.3" cy="274.9" rx="2.1" ry="1.0" fill="#e02a30" stroke="#8a3a2a" stroke-width="0.8" transform="rotate(7.8665508329502565 204.3 274.9)" />
<ellipse cx="191.2" cy="280.5" rx="3.2" ry="1.6" fill="#d02028" stroke="#d82828" stroke-width="0.8" transform="rotate(8.27913646750119 191.2 280.5)" />
<ellipse cx="186.9" cy="293.8" rx="2.2" ry="0.9" fill="#e02a30" stroke="#d82828" stroke-width="0.8" transform="rotate(-12.125723791811978 186.9 293.8)" />
<ellipse cx="198.2" cy="294.6" rx="1.5" ry="1.2" fill="#f07080" stroke="#c01818" stroke-width="0.8" transform="rotate(17.942486854411186 198.2 294.6)" />
<ellipse cx="217.1" cy="272.5" rx="1.6" ry="1.1" fill="#e02a30" stroke="#a02020" stroke-width="0.8" transform="rotate(17.533817384424218 217.1 272.5)" />
<ellipse cx="197.0" cy="295.0" rx="3.4" ry="1.6" fill="#e84050" stroke="#a02020" stroke-width="0.8" transform="rotate(7.164150858334651 197.0 295.0)" />
<ellipse cx="188.0" cy="293.4" rx="3.1" ry="1.7" fill="#e84050" stroke="#8a3a2a" stroke-width="0.8" transform="rotate(-8.620027180061328 188.0 293.4)" />
<ellipse cx="199.5" cy="273.6" rx="2.3" ry="1.1" fill="#e84050" stroke="#a02020" stroke-width="0.8" transform="rotate(16.14247680917068 199.5 273.6)" />
<ellipse cx="202.3" cy="277.2" rx="2.6" ry="1.0" fill="#e84050" stroke="#a02020" stroke-width="0.8" transform="rotate(2.2481263097332516 202.3 277.2)" />
<ellipse cx="201.5" cy="276.6" rx="2.0" ry="1.0" fill="#e02a30" stroke="#8a3a2a" stroke-width="0.8" transform="rotate(-6.942844748083608 201.5 276.6)" />
<ellipse cx="190.2" cy="279.7" rx="2.8" ry="1.1" fill="#e84050" stroke="#8a3a2a" stroke-width="0.8" transform="rotate(-2.6434190181891957 190.2 279.7)" />
<ellipse cx="205.4" cy="280.2" rx="2.4" ry="1.7" fill="#d02028" stroke="#a02020" stroke-width="0.8" transform="rotate(-11.652696345455364 205.4 280.2)" />
<ellipse cx="188.1" cy="291.8" rx="3.0" ry="1.0" fill="#e02a30" stroke="#8a3a2a" stroke-width="0.8" transform="rotate(11.651616882053588 188.1 291.8)" />
<ellipse cx="194.3" cy="273.2" rx="3.0" ry="1.0" fill="#f4a0b0" stroke="#d82828" stroke-width="0.8" transform="rotate(3.4527598884608253 194.3 273.2)" />
<ellipse cx="191.5" cy="290.4" rx="3.0" ry="1.3" fill="#e84050" stroke="#8a3a2a" stroke-width="0.8" transform="rotate(6.701204752201999 191.5 290.4)" />
<ellipse cx="201.8" cy="290.6" rx="2.4" ry="1.6" fill="#e84050" stroke="#d82828" stroke-width="0.8" transform="rotate(-10.982675956660959 201.8 290.6)" />
<ellipse cx="205.0" cy="287.6" rx="2.6" ry="1.4" fill="#e84050" stroke="#d82828" stroke-width="0.8" transform="rotate(-5.817720752854143 205.0 287.6)" />
<ellipse cx="192.7" cy="280.7" rx="1.8" ry="1.6" fill="#f07080" stroke="#a02020" stroke-width="0.8" transform="rotate(6.053610675645938 192.7 280.7)" />
<ellipse cx="187.8" cy="290.8" rx="2.5" ry="1.7" fill="#d02028" stroke="#d82828" stroke-width="0.8" transform="rotate(-15.913610943396188 187.8 290.8)" />
<ellipse cx="204.0" cy="289.1" rx="1.5" ry="1.0" fill="#f4a0b0" stroke="#d82828" stroke-width="0.8" transform="rotate(-0.6574076590795244 204.0 289.1)" />
<ellipse cx="190.1" cy="285.4" rx="2.9" ry="1.1" fill="#f07080" stroke="#8a3a2a" stroke-width="0.8" transform="rotate(-13.201061434842266 190.1 285.4)" />
<ellipse cx="205.3" cy="278.4" rx="3.1" ry="1.2" fill="#e84050" stroke="#c01818" stroke-width="0.8" transform="rotate(4.56688884590454 205.3 278.4)" />
<ellipse cx="205.0" cy="294.9" rx="2.3" ry="1.8" fill="#d02028" stroke="#c01818" stroke-width="0.8" transform="rotate(-10.751120193130363 205.0 294.9)" />
<ellipse cx="206.3" cy="273.8" rx="3.3" ry="1.7" fill="#e02a30" stroke="#c01818" stroke-width="0.8" transform="rotate(16.183374235055467 206.3 273.8)" />
<ellipse cx="217.0" cy="284.0" rx="7.0" ry="2.2" fill="#d8d0f8" stroke="#2414c0" stroke-width="1.3" />
<ellipse cx="216.4" cy="291.0" rx="6.0" ry="2.2" fill="#d8d0f8" stroke="#2414c0" stroke-width="1.3" />
<ellipse cx="186.0" cy="287.0" rx="3.0" ry="1.4" fill="#d8d0f8" stroke="#2414c0" stroke-width="1.3" />
<ellipse cx="212.0" cy="286.0" rx="3.0" ry="1.5" fill="#d8d0f8" stroke="#2414c0" stroke-width="1.3" />
<path d="M183.0,298.0 C184.3,296.3 187.2,295.5 190.0,295.0 C192.8,294.5 196.8,294.7 200.0,295.0 C203.2,295.3 207.2,295.5 209.0,297.0 C210.8,298.5 211.3,301.5 211.0,304.0 C210.7,306.5 208.8,309.7 207.0,312.0 C205.2,314.3 202.8,317.0 200.0,318.0 C197.2,319.0 192.7,319.0 190.0,318.0 C187.3,317.0 185.3,314.2 184.0,312.0 C182.7,309.8 182.2,307.3 182.0,305.0 C181.8,302.7 181.7,299.7 183.0,298.0 Z" stroke="#2414c0" stroke-width="1.0" fill="#d890d8" stroke-linejoin="round" stroke-linecap="round" />
<ellipse cx="186.0" cy="303.0" rx="3.0" ry="1.5" fill="none" stroke="#2414c0" stroke-width="1.1" />
<ellipse cx="207.0" cy="308.0" rx="3.0" ry="1.6" fill="none" stroke="#2414c0" stroke-width="1.1" />
<ellipse cx="200.0" cy="316.0" rx="4.0" ry="1.4" fill="none" stroke="#2414c0" stroke-width="1.1" />
<ellipse cx="192.0" cy="300.0" rx="4.5" ry="2.6" fill="#8a5a38" stroke="#5a3a20" stroke-width="0.6" />
<ellipse cx="205.4" cy="301.0" rx="3.0" ry="2.6" fill="#8a5a38" stroke="#5a3a20" stroke-width="0.6" />
<ellipse cx="188.7" cy="307.7" rx="4.5" ry="2.6" fill="#8a5a38" stroke="#5a3a20" stroke-width="0.6" />
<ellipse cx="195.4" cy="311.9" rx="4.5" ry="2.6" fill="#8a5a38" stroke="#5a3a20" stroke-width="0.6" />
<ellipse cx="175.2" cy="316.0" rx="9.1" ry="3.7" fill="#c898dc" stroke="#2414c0" stroke-width="1.3" />
<ellipse cx="175.2" cy="316.0" rx="6.0" ry="1.8" fill="#8a5038" stroke="#5a3a20" stroke-width="0.5" />
<ellipse cx="176.9" cy="324.5" rx="8.1" ry="3.7" fill="#c898dc" stroke="#2414c0" stroke-width="1.3" />
<ellipse cx="176.9" cy="324.5" rx="5.2" ry="1.8" fill="#8a5038" stroke="#5a3a20" stroke-width="0.5" />
<ellipse cx="199.6" cy="322.8" rx="9.0" ry="5.1" fill="#c0a8ec" stroke="#2414c0" stroke-width="1.3" />
<ellipse cx="199.6" cy="322.8" rx="7.0" ry="3.6" fill="#d83030" stroke="#8a3a2a" stroke-width="1.0" />
<ellipse cx="199.6" cy="322.8" rx="3.1" ry="1.4" fill="#f08898" stroke="none" stroke-width="0" />
<ellipse cx="210.0" cy="312.0" rx="3.0" ry="1.5" fill="#d8d0f8" stroke="#2414c0" stroke-width="1.3" />
<ellipse cx="161.0" cy="316.0" rx="3.0" ry="1.4" fill="#d8d0f8" stroke="#2414c0" stroke-width="1.3" />
<ellipse cx="168.0" cy="310.0" rx="2.5" ry="1.3" fill="#d8d0f8" stroke="#2414c0" stroke-width="1.3" />
<ellipse cx="150.0" cy="337.0" rx="8.1" ry="3.5" fill="#c898dc" stroke="#2414c0" stroke-width="1.3" />
<ellipse cx="150.0" cy="337.0" rx="5.2" ry="1.7" fill="#8a5038" stroke="#5a3a20" stroke-width="0.5" />
<ellipse cx="161.8" cy="337.0" rx="6.6" ry="3.5" fill="#c898dc" stroke="#2414c0" stroke-width="1.3" />
<ellipse cx="161.8" cy="337.0" rx="4.0" ry="1.7" fill="#8a5038" stroke="#5a3a20" stroke-width="0.5" />
<ellipse cx="160.0" cy="352.0" rx="7.6" ry="3.5" fill="#c898dc" stroke="#2414c0" stroke-width="1.3" />
<ellipse cx="160.0" cy="352.0" rx="4.8" ry="1.7" fill="#8a5038" stroke="#5a3a20" stroke-width="0.5" />
<ellipse cx="152.0" cy="330.0" rx="3.0" ry="1.2" fill="#d8d0f8" stroke="#2414c0" stroke-width="1.3" />
<ellipse cx="166.0" cy="345.0" rx="3.0" ry="1.3" fill="#d8d0f8" stroke="#2414c0" stroke-width="1.3" />
<ellipse cx="172.0" cy="332.0" rx="3.0" ry="1.2" fill="#d8d0f8" stroke="#2414c0" stroke-width="1.3" />
<ellipse cx="128.3" cy="354.5" rx="5.1" ry="3.1" fill="#c898dc" stroke="#2414c0" stroke-width="1.3" />
<ellipse cx="128.3" cy="354.5" rx="2.8" ry="1.4" fill="#8a5038" stroke="#5a3a20" stroke-width="0.5" />
<ellipse cx="124.5" cy="374.7" rx="4.6" ry="2.8" fill="#c898dc" stroke="#2414c0" stroke-width="1.3" />
<ellipse cx="124.5" cy="374.7" rx="2.4" ry="1.1" fill="#8a5038" stroke="#5a3a20" stroke-width="0.5" />
<ellipse cx="131.0" cy="381.9" rx="5.6" ry="3.1" fill="#c898dc" stroke="#2414c0" stroke-width="1.3" />
<ellipse cx="131.0" cy="381.9" rx="3.2" ry="1.4" fill="#8a5038" stroke="#5a3a20" stroke-width="0.5" />
<ellipse cx="133.8" cy="387.0" rx="5.6" ry="3.1" fill="#c898dc" stroke="#2414c0" stroke-width="1.3" />
<ellipse cx="133.8" cy="387.0" rx="3.2" ry="1.4" fill="#8a5038" stroke="#5a3a20" stroke-width="0.5" />
<ellipse cx="135.7" cy="395.0" rx="5.6" ry="3.1" fill="#c898dc" stroke="#2414c0" stroke-width="1.3" />
<ellipse cx="135.7" cy="395.0" rx="3.2" ry="1.4" fill="#8a5038" stroke="#5a3a20" stroke-width="0.5" />
<ellipse cx="145.3" cy="402.0" rx="4.6" ry="2.8" fill="#c898dc" stroke="#2414c0" stroke-width="1.3" />
<ellipse cx="145.3" cy="402.0" rx="2.4" ry="1.1" fill="#8a5038" stroke="#5a3a20" stroke-width="0.5" />
<ellipse cx="149.0" cy="410.2" rx="7.1" ry="3.1" fill="#c898dc" stroke="#2414c0" stroke-width="1.3" />
<ellipse cx="149.0" cy="410.2" rx="4.4" ry="1.4" fill="#8a5038" stroke="#5a3a20" stroke-width="0.5" />
<ellipse cx="130.0" cy="362.0" rx="5.1" ry="2.9" fill="#c898dc" stroke="#2414c0" stroke-width="1.3" />
<ellipse cx="130.0" cy="362.0" rx="2.8" ry="1.2" fill="#8a5038" stroke="#5a3a20" stroke-width="0.5" />
<ellipse cx="136.0" cy="368.0" rx="4.6" ry="2.8" fill="#c898dc" stroke="#2414c0" stroke-width="1.3" />
<ellipse cx="136.0" cy="368.0" rx="2.4" ry="1.1" fill="#8a5038" stroke="#5a3a20" stroke-width="0.5" />
<ellipse cx="164.0" cy="370.0" rx="4.6" ry="2.8" fill="#c898dc" stroke="#2414c0" stroke-width="1.3" />
<ellipse cx="164.0" cy="370.0" rx="2.4" ry="1.1" fill="#8a5038" stroke="#5a3a20" stroke-width="0.5" />
<ellipse cx="164.0" cy="385.0" rx="4.6" ry="2.8" fill="#c898dc" stroke="#2414c0" stroke-width="1.3" />
<ellipse cx="164.0" cy="385.0" rx="2.4" ry="1.1" fill="#8a5038" stroke="#5a3a20" stroke-width="0.5" />
<ellipse cx="164.0" cy="395.0" rx="4.1" ry="2.7" fill="#c898dc" stroke="#2414c0" stroke-width="1.3" />
<ellipse cx="164.0" cy="395.0" rx="2.0" ry="1.0" fill="#8a5038" stroke="#5a3a20" stroke-width="0.5" />
<ellipse cx="142.0" cy="356.0" rx="4.6" ry="2.7" fill="#c898dc" stroke="#2414c0" stroke-width="1.3" />
<ellipse cx="142.0" cy="356.0" rx="2.4" ry="1.0" fill="#8a5038" stroke="#5a3a20" stroke-width="0.5" />
<ellipse cx="155.0" cy="356.0" rx="4.6" ry="2.7" fill="#c898dc" stroke="#2414c0" stroke-width="1.3" />
<ellipse cx="155.0" cy="356.0" rx="2.4" ry="1.0" fill="#8a5038" stroke="#5a3a20" stroke-width="0.5" />
<path d="M112.0,365.8 C114.0,365.5 120.0,364.0 124.0,364.0 C128.0,364.0 134.0,365.7 136.0,366.0" stroke="#2414c0" stroke-width="1.6" fill="none" stroke-linejoin="round" stroke-linecap="round" />
<ellipse cx="120.0" cy="366.0" rx="3.0" ry="1.3" fill="#d8d0f8" stroke="#2414c0" stroke-width="1.3" />
<path d="M139.0,362.0 C140.5,359.5 143.2,360.2 146.0,360.0 C148.8,359.8 153.3,360.2 156.0,361.0 C158.7,361.8 161.0,361.8 162.0,365.0 C163.0,368.2 162.2,374.8 162.0,380.0 C161.8,385.2 162.2,392.7 161.0,396.0 C159.8,399.3 158.0,399.3 155.0,400.0 C152.0,400.7 145.8,401.3 143.0,400.0 C140.2,398.7 139.0,396.2 138.0,392.0 C137.0,387.8 136.8,380.0 137.0,375.0 C137.2,370.0 137.5,364.5 139.0,362.0 Z" stroke="#b02a40" stroke-width="1.0" fill="#e02a30" stroke-linejoin="round" stroke-linecap="round" />
<ellipse cx="146.4" cy="397.1" rx="3.2" ry="1.1" fill="#f4a0b0" stroke="#8a3a2a" stroke-width="0.8" transform="rotate(-18.30431495367197 146.4 397.1)" />
<ellipse cx="160.8" cy="370.2" rx="2.1" ry="1.3" fill="#e02a30" stroke="#c01818" stroke-width="0.8" transform="rotate(3.0359156986109284 160.8 370.2)" />
<ellipse cx="155.2" cy="367.9" rx="3.4" ry="1.8" fill="#f4a0b0" stroke="#d82828" stroke-width="0.8" transform="rotate(1.9514281626574181 155.2 367.9)" />
<ellipse cx="149.8" cy="381.0" rx="3.3" ry="1.7" fill="#f07080" stroke="#a02020" stroke-width="0.8" transform="rotate(-3.4229608317569458 149.8 381.0)" />
<ellipse cx="141.7" cy="366.4" rx="2.4" ry="1.0" fill="#e02a30" stroke="#c01818" stroke-width="0.8" transform="rotate(0.5971129643188959 141.7 366.4)" />
<ellipse cx="140.2" cy="395.0" rx="1.6" ry="1.1" fill="#e02a30" stroke="#d82828" stroke-width="0.8" transform="rotate(10.88946474320204 140.2 395.0)" />
<ellipse cx="158.5" cy="377.9" rx="3.1" ry="1.5" fill="#d02028" stroke="#8a3a2a" stroke-width="0.8" transform="rotate(-17.69562845823414 158.5 377.9)" />
<ellipse cx="157.4" cy="371.3" rx="1.6" ry="1.3" fill="#d02028" stroke="#8a3a2a" stroke-width="0.8" transform="rotate(-19.261534369587956 157.4 371.3)" />
<ellipse cx="160.4" cy="377.2" rx="2.7" ry="1.8" fill="#e84050" stroke="#c01818" stroke-width="0.8" transform="rotate(-16.29505657137658 160.4 377.2)" />
<ellipse cx="154.1" cy="395.3" rx="3.0" ry="1.1" fill="#e84050" stroke="#a02020" stroke-width="0.8" transform="rotate(-11.571251104113237 154.1 395.3)" />
<ellipse cx="152.8" cy="395.9" rx="3.1" ry="1.4" fill="#f4a0b0" stroke="#a02020" stroke-width="0.8" transform="rotate(-5.490701349177968 152.8 395.9)" />
<ellipse cx="149.4" cy="378.7" rx="2.3" ry="1.2" fill="#e02a30" stroke="#c01818" stroke-width="0.8" transform="rotate(14.72499184477779 149.4 378.7)" />
<ellipse cx="143.6" cy="372.7" rx="1.6" ry="1.8" fill="#e02a30" stroke="#d82828" stroke-width="0.8" transform="rotate(2.8881052184267553 143.6 372.7)" />
<ellipse cx="141.4" cy="385.0" rx="2.5" ry="1.6" fill="#f4a0b0" stroke="#c01818" stroke-width="0.8" transform="rotate(-17.51349761501853 141.4 385.0)" />
<ellipse cx="157.3" cy="388.5" rx="1.6" ry="1.7" fill="#e84050" stroke="#a02020" stroke-width="0.8" transform="rotate(-16.86674293830375 157.3 388.5)" />
<ellipse cx="147.2" cy="398.7" rx="2.9" ry="1.0" fill="#f4a0b0" stroke="#d82828" stroke-width="0.8" transform="rotate(-9.051264237588743 147.2 398.7)" />
<ellipse cx="139.3" cy="383.7" rx="2.9" ry="1.1" fill="#e02a30" stroke="#d82828" stroke-width="0.8" transform="rotate(-17.082098402109352 139.3 383.7)" />
<ellipse cx="154.8" cy="380.1" rx="2.0" ry="1.0" fill="#f07080" stroke="#c01818" stroke-width="0.8" transform="rotate(-8.293963960218406 154.8 380.1)" />
<ellipse cx="148.5" cy="371.6" rx="3.1" ry="1.2" fill="#f4a0b0" stroke="#c01818" stroke-width="0.8" transform="rotate(14.299230324642572 148.5 371.6)" />
<ellipse cx="143.9" cy="377.5" rx="2.5" ry="0.9" fill="#f4a0b0" stroke="#c01818" stroke-width="0.8" transform="rotate(9.7434397346905 143.9 377.5)" />
<ellipse cx="161.5" cy="373.7" rx="2.5" ry="1.0" fill="#d02028" stroke="#8a3a2a" stroke-width="0.8" transform="rotate(-5.611055845760834 161.5 373.7)" />
<ellipse cx="149.6" cy="371.9" rx="2.1" ry="1.7" fill="#e84050" stroke="#a02020" stroke-width="0.8" transform="rotate(-3.3555516391628686 149.6 371.9)" />
<ellipse cx="142.9" cy="386.1" rx="3.4" ry="1.6" fill="#d02028" stroke="#c01818" stroke-width="0.8" transform="rotate(-14.802805795249704 142.9 386.1)" />
<ellipse cx="159.0" cy="386.8" rx="2.9" ry="1.7" fill="#f4a0b0" stroke="#a02020" stroke-width="0.8" transform="rotate(16.11318664020218 159.0 386.8)" />
<ellipse cx="158.6" cy="392.6" rx="1.6" ry="1.5" fill="#d02028" stroke="#c01818" stroke-width="0.8" transform="rotate(12.133289864570017 158.6 392.6)" />
<ellipse cx="157.1" cy="392.2" rx="1.9" ry="1.0" fill="#e84050" stroke="#8a3a2a" stroke-width="0.8" transform="rotate(11.24025125014315 157.1 392.2)" />
<ellipse cx="159.3" cy="389.8" rx="3.0" ry="1.0" fill="#f4a0b0" stroke="#c01818" stroke-width="0.8" transform="rotate(-17.608266775067747 159.3 389.8)" />
<ellipse cx="139.0" cy="389.1" rx="2.5" ry="1.6" fill="#e84050" stroke="#d82828" stroke-width="0.8" transform="rotate(-16.970036476066777 139.0 389.1)" />
<ellipse cx="146.5" cy="389.1" rx="1.6" ry="1.5" fill="#e84050" stroke="#8a3a2a" stroke-width="0.8" transform="rotate(-12.737863126167216 146.5 389.1)" />
<ellipse cx="156.7" cy="365.3" rx="1.9" ry="1.3" fill="#d02028" stroke="#d82828" stroke-width="0.8" transform="rotate(-17.38782436249718 156.7 365.3)" />
<ellipse cx="158.8" cy="378.5" rx="1.8" ry="1.1" fill="#e84050" stroke="#d82828" stroke-width="0.8" transform="rotate(-3.0765769619788585 158.8 378.5)" />
<ellipse cx="138.0" cy="379.5" rx="2.9" ry="1.6" fill="#f4a0b0" stroke="#a02020" stroke-width="0.8" transform="rotate(-2.962298509720817 138.0 379.5)" />
<ellipse cx="157.6" cy="395.1" rx="2.4" ry="0.9" fill="#e84050" stroke="#a02020" stroke-width="0.8" transform="rotate(5.170749865702497 157.6 395.1)" />
<ellipse cx="155.2" cy="380.5" rx="2.9" ry="1.0" fill="#d02028" stroke="#a02020" stroke-width="0.8" transform="rotate(12.018833098885288 155.2 380.5)" />
<ellipse cx="152.6" cy="395.9" rx="3.1" ry="1.8" fill="#d02028" stroke="#8a3a2a" stroke-width="0.8" transform="rotate(-9.71883386397443 152.6 395.9)" />
<ellipse cx="144.8" cy="361.3" rx="3.2" ry="1.3" fill="#e84050" stroke="#c01818" stroke-width="0.8" transform="rotate(2.4295415806098397 144.8 361.3)" />
<ellipse cx="143.7" cy="395.5" rx="2.4" ry="1.0" fill="#e84050" stroke="#c01818" stroke-width="0.8" transform="rotate(-17.86187143815271 143.7 395.5)" />
<ellipse cx="156.1" cy="364.1" rx="2.5" ry="1.4" fill="#f07080" stroke="#a02020" stroke-width="0.8" transform="rotate(19.14428803474062 156.1 364.1)" />
<ellipse cx="150.2" cy="379.4" rx="2.4" ry="1.0" fill="#e02a30" stroke="#d82828" stroke-width="0.8" transform="rotate(0.13645369380357408 150.2 379.4)" />
<ellipse cx="158.3" cy="370.6" rx="2.3" ry="1.3" fill="#e02a30" stroke="#a02020" stroke-width="0.8" transform="rotate(8.895620334200437 158.3 370.6)" />
<ellipse cx="154.8" cy="396.1" rx="1.7" ry="1.2" fill="#f4a0b0" stroke="#c01818" stroke-width="0.8" transform="rotate(-18.640854280732228 154.8 396.1)" />
<ellipse cx="151.1" cy="381.9" rx="2.6" ry="1.2" fill="#d02028" stroke="#c01818" stroke-width="0.8" transform="rotate(0.43588253848295366 151.1 381.9)" />
<ellipse cx="151.4" cy="399.5" rx="1.7" ry="1.1" fill="#e02a30" stroke="#a02020" stroke-width="0.8" transform="rotate(10.890584202444131 151.4 399.5)" />
<ellipse cx="150.2" cy="361.4" rx="2.1" ry="1.2" fill="#e02a30" stroke="#a02020" stroke-width="0.8" transform="rotate(-8.899924547591965 150.2 361.4)" />
<ellipse cx="147.8" cy="379.9" rx="2.8" ry="1.4" fill="#e02a30" stroke="#d82828" stroke-width="0.8" transform="rotate(-5.863872489996126 147.8 379.9)" />
<ellipse cx="152.3" cy="397.6" rx="2.0" ry="1.6" fill="#f07080" stroke="#8a3a2a" stroke-width="0.8" transform="rotate(12.271588252421331 152.3 397.6)" />
<ellipse cx="160.4" cy="372.5" rx="1.5" ry="1.0" fill="#e02a30" stroke="#c01818" stroke-width="0.8" transform="rotate(-18.498029820962884 160.4 372.5)" />
<ellipse cx="151.4" cy="382.9" rx="3.4" ry="1.4" fill="#f07080" stroke="#d82828" stroke-width="0.8" transform="rotate(2.7949764714674856 151.4 382.9)" />
<ellipse cx="151.9" cy="381.7" rx="2.6" ry="1.3" fill="#f4a0b0" stroke="#a02020" stroke-width="0.8" transform="rotate(-10.916013123142662 151.9 381.7)" />
<ellipse cx="144.2" cy="368.9" rx="3.4" ry="1.3" fill="#d02028" stroke="#8a3a2a" stroke-width="0.8" transform="rotate(0.6494203198384483 144.2 368.9)" />
<ellipse cx="151.6" cy="363.5" rx="2.5" ry="1.4" fill="#d02028" stroke="#a02020" stroke-width="0.8" transform="rotate(9.438978220934914 151.6 363.5)" />
<ellipse cx="161.3" cy="368.9" rx="2.8" ry="1.8" fill="#f4a0b0" stroke="#d82828" stroke-width="0.8" transform="rotate(13.54599155798941 161.3 368.9)" />
<ellipse cx="138.2" cy="384.7" rx="2.7" ry="1.7" fill="#f4a0b0" stroke="#c01818" stroke-width="0.8" transform="rotate(7.9360810149685435 138.2 384.7)" />
<ellipse cx="139.3" cy="364.3" rx="1.7" ry="1.6" fill="#d02028" stroke="#a02020" stroke-width="0.8" transform="rotate(-16.462893933567937 139.3 364.3)" />
<ellipse cx="156.5" cy="363.4" rx="2.0" ry="1.5" fill="#f4a0b0" stroke="#d82828" stroke-width="0.8" transform="rotate(13.459570977199945 156.5 363.4)" />
<ellipse cx="145.6" cy="365.4" rx="1.8" ry="1.4" fill="#d02028" stroke="#a02020" stroke-width="0.8" transform="rotate(17.60451919554064 145.6 365.4)" />
<ellipse cx="142.2" cy="386.4" rx="2.9" ry="1.0" fill="#f07080" stroke="#a02020" stroke-width="0.8" transform="rotate(19.2667533107644 142.2 386.4)" />
<ellipse cx="157.7" cy="386.7" rx="2.8" ry="1.3" fill="#e02a30" stroke="#c01818" stroke-width="0.8" transform="rotate(5.581192160784557 157.7 386.7)" />
<ellipse cx="157.9" cy="378.1" rx="1.9" ry="1.8" fill="#f07080" stroke="#c01818" stroke-width="0.8" transform="rotate(8.044094217625293 157.9 378.1)" />
<ellipse cx="138.2" cy="375.7" rx="1.7" ry="1.7" fill="#f07080" stroke="#8a3a2a" stroke-width="0.8" transform="rotate(-3.396486920885412 138.2 375.7)" />
<path d="M152.0,401.0 C153.3,399.5 157.5,399.0 160.0,399.0 C162.5,399.0 165.7,399.7 167.0,401.0 C168.3,402.3 169.2,405.7 168.0,407.0 C166.8,408.3 162.7,408.8 160.0,409.0 C157.3,409.2 153.3,409.3 152.0,408.0 C150.7,406.7 150.7,402.5 152.0,401.0 Z" stroke="#b02a40" stroke-width="1.0" fill="#e02a30" stroke-linejoin="round" stroke-linecap="round" />
<ellipse cx="164.0" cy="401.0" rx="1.9" ry="1.4" fill="#f07080" stroke="#d82828" stroke-width="0.8" transform="rotate(11.053144023171193 164.0 401.0)" />
<ellipse cx="162.9" cy="404.0" rx="2.8" ry="1.8" fill="#d02028" stroke="#d82828" stroke-width="0.8" transform="rotate(11.45217737331949 162.9 404.0)" />
<ellipse cx="167.0" cy="401.2" rx="1.8" ry="1.4" fill="#d02028" stroke="#a02020" stroke-width="0.8" transform="rotate(-10.254179886672068 167.0 401.2)" />
<ellipse cx="163.8" cy="407.4" rx="2.6" ry="1.4" fill="#f07080" stroke="#8a3a2a" stroke-width="0.8" transform="rotate(4.006297486248464 163.8 407.4)" />
<ellipse cx="161.0" cy="407.2" rx="3.2" ry="1.3" fill="#e84050" stroke="#c01818" stroke-width="0.8" transform="rotate(15.235581383401545 161.0 407.2)" />
<ellipse cx="156.0" cy="408.4" rx="2.3" ry="1.3" fill="#e02a30" stroke="#d82828" stroke-width="0.8" transform="rotate(-17.643326789311722 156.0 408.4)" />
<ellipse cx="153.2" cy="404.4" rx="2.9" ry="0.9" fill="#d02028" stroke="#d82828" stroke-width="0.8" transform="rotate(-5.201277257153878 153.2 404.4)" />
<ellipse cx="153.4" cy="404.4" rx="1.7" ry="1.6" fill="#d02028" stroke="#8a3a2a" stroke-width="0.8" transform="rotate(3.2616600617260083 153.4 404.4)" />
<ellipse cx="141.0" cy="372.0" rx="2.5" ry="1.6" fill="#8a5a38" stroke="#5a3a20" stroke-width="0.6" />
<ellipse cx="150.0" cy="390.0" rx="2.5" ry="1.6" fill="#8a5a38" stroke="#5a3a20" stroke-width="0.6" />
<ellipse cx="146.0" cy="380.0" rx="2.0" ry="1.4" fill="#8a5a38" stroke="#5a3a20" stroke-width="0.6" />
<ellipse cx="156.0" cy="370.0" rx="2.0" ry="1.4" fill="#8a5a38" stroke="#5a3a20" stroke-width="0.6" />
<ellipse cx="158.0" cy="392.0" rx="2.5" ry="1.5" fill="#8a5a38" stroke="#5a3a20" stroke-width="0.6" />
<ellipse cx="143.0" cy="395.0" rx="2.5" ry="1.5" fill="#8a5a38" stroke="#5a3a20" stroke-width="0.6" />
<path d="M218.0,336.0 C218.2,336.7 219.7,338.7 219.5,340.0 C219.3,341.3 217.9,342.5 217.0,344.0 C216.1,345.5 215.1,347.7 214.0,349.0 C212.9,350.3 213.5,350.9 210.3,351.9 C207.1,352.9 200.1,353.9 195.0,355.0 C189.9,356.1 183.2,357.7 180.0,358.5 C176.8,359.3 175.9,359.3 175.9,359.8 C175.9,360.3 176.8,360.7 180.0,361.5 C183.2,362.3 190.0,363.6 195.0,364.5 C200.0,365.4 206.1,366.3 210.0,367.0 C213.9,367.7 216.9,367.7 218.7,368.7 C220.5,369.7 220.2,371.1 221.0,373.0 C221.8,374.9 223.2,379.2 223.7,380.4" stroke="#6a3a6a" stroke-width="1.4" fill="none" stroke-linejoin="round" stroke-linecap="round" />
<path d="M220.0,337.0 C220.2,337.7 221.2,339.7 221.0,341.0 C220.8,342.3 219.8,343.6 219.0,345.0 C218.2,346.4 217.3,348.3 216.0,349.5 C214.7,350.7 211.8,351.8 211.0,352.3" stroke="#5a3ad0" stroke-width="1.0" fill="none" stroke-linejoin="round" stroke-linecap="round" />
<ellipse cx="211.0" cy="336.8" rx="3.5" ry="1.6" fill="#8a80d8" stroke="#2414c0" stroke-width="1.2" />
<ellipse cx="218.3" cy="335.4" rx="1.3" ry="1.3" fill="#222" stroke="none" stroke-width="1" />
<line x1="203.60" y1="351.00" x2="207.27" y2="345.18" stroke="#222" stroke-width="0.9" />
<polygon points="209.4,341.8 208.8,346.1 205.7,344.2" fill="#222"/>
<ellipse cx="200.0" cy="375.0" rx="3.0" ry="1.3" fill="#c8c0f4" stroke="#3a38d0" stroke-width="1.0" />
<ellipse cx="186.0" cy="381.0" rx="6.0" ry="1.8" fill="#c8c0f4" stroke="#3a38d0" stroke-width="1.0" />
<rect x="8.50" y="224.50" width="233.00" height="223.00" stroke="#555" stroke-width="1" fill="none" />
<line x1="236.50" y1="447.50" x2="236.50" y2="452.00" stroke="#444" stroke-width="1" />
<line x1="226.50" y1="447.50" x2="226.50" y2="449.50" stroke="#444" stroke-width="1" />
<line x1="216.50" y1="447.50" x2="216.50" y2="449.50" stroke="#444" stroke-width="1" />
<line x1="206.50" y1="447.50" x2="206.50" y2="449.50" stroke="#444" stroke-width="1" />
<line x1="196.50" y1="447.50" x2="196.50" y2="452.00" stroke="#444" stroke-width="1" />
<line x1="185.50" y1="447.50" x2="185.50" y2="449.50" stroke="#444" stroke-width="1" />
<line x1="175.50" y1="447.50" x2="175.50" y2="449.50" stroke="#444" stroke-width="1" />
<line x1="165.50" y1="447.50" x2="165.50" y2="449.50" stroke="#444" stroke-width="1" />
<line x1="155.50" y1="447.50" x2="155.50" y2="452.00" stroke="#444" stroke-width="1" />
<line x1="145.50" y1="447.50" x2="145.50" y2="449.50" stroke="#444" stroke-width="1" />
<line x1="135.50" y1="447.50" x2="135.50" y2="449.50" stroke="#444" stroke-width="1" />
<line x1="125.50" y1="447.50" x2="125.50" y2="449.50" stroke="#444" stroke-width="1" />
<line x1="115.50" y1="447.50" x2="115.50" y2="452.00" stroke="#444" stroke-width="1" />
<line x1="105.50" y1="447.50" x2="105.50" y2="449.50" stroke="#444" stroke-width="1" />
<line x1="95.50" y1="447.50" x2="95.50" y2="449.50" stroke="#444" stroke-width="1" />
<line x1="84.50" y1="447.50" x2="84.50" y2="449.50" stroke="#444" stroke-width="1" />
<line x1="74.50" y1="447.50" x2="74.50" y2="452.00" stroke="#444" stroke-width="1" />
<line x1="64.50" y1="447.50" x2="64.50" y2="449.50" stroke="#444" stroke-width="1" />
<line x1="54.50" y1="447.50" x2="54.50" y2="449.50" stroke="#444" stroke-width="1" />
<line x1="44.50" y1="447.50" x2="44.50" y2="449.50" stroke="#444" stroke-width="1" />
<line x1="34.50" y1="447.50" x2="34.50" y2="452.00" stroke="#444" stroke-width="1" />
<line x1="24.50" y1="447.50" x2="24.50" y2="449.50" stroke="#444" stroke-width="1" />
<line x1="14.50" y1="447.50" x2="14.50" y2="449.50" stroke="#444" stroke-width="1" />
<line x1="241.50" y1="224.50" x2="243.50" y2="224.50" stroke="#444" stroke-width="1" />
<line x1="241.50" y1="230.50" x2="246.00" y2="230.50" stroke="#444" stroke-width="1" />
<line x1="241.50" y1="237.50" x2="243.50" y2="237.50" stroke="#444" stroke-width="1" />
<line x1="241.50" y1="243.50" x2="243.50" y2="243.50" stroke="#444" stroke-width="1" />
<line x1="241.50" y1="250.50" x2="243.50" y2="250.50" stroke="#444" stroke-width="1" />
<line x1="241.50" y1="256.50" x2="243.50" y2="256.50" stroke="#444" stroke-width="1" />
<line x1="241.50" y1="263.50" x2="246.00" y2="263.50" stroke="#444" stroke-width="1" />
<line x1="241.50" y1="269.50" x2="243.50" y2="269.50" stroke="#444" stroke-width="1" />
<line x1="241.50" y1="276.50" x2="243.50" y2="276.50" stroke="#444" stroke-width="1" />
<line x1="241.50" y1="282.50" x2="243.50" y2="282.50" stroke="#444" stroke-width="1" />
<line x1="241.50" y1="289.50" x2="243.50" y2="289.50" stroke="#444" stroke-width="1" />
<line x1="241.50" y1="295.50" x2="246.00" y2="295.50" stroke="#444" stroke-width="1" />
<line x1="241.50" y1="301.50" x2="243.50" y2="301.50" stroke="#444" stroke-width="1" />
<line x1="241.50" y1="308.50" x2="243.50" y2="308.50" stroke="#444" stroke-width="1" />
<line x1="241.50" y1="314.50" x2="243.50" y2="314.50" stroke="#444" stroke-width="1" />
<line x1="241.50" y1="321.50" x2="243.50" y2="321.50" stroke="#444" stroke-width="1" />
<line x1="241.50" y1="327.50" x2="246.00" y2="327.50" stroke="#444" stroke-width="1" />
<line x1="241.50" y1="334.50" x2="243.50" y2="334.50" stroke="#444" stroke-width="1" />
<line x1="241.50" y1="340.50" x2="243.50" y2="340.50" stroke="#444" stroke-width="1" />
<line x1="241.50" y1="347.50" x2="243.50" y2="347.50" stroke="#444" stroke-width="1" />
<line x1="241.50" y1="353.50" x2="243.50" y2="353.50" stroke="#444" stroke-width="1" />
<line x1="241.50" y1="360.50" x2="246.00" y2="360.50" stroke="#444" stroke-width="1" />
<line x1="241.50" y1="366.50" x2="243.50" y2="366.50" stroke="#444" stroke-width="1" />
<line x1="241.50" y1="373.50" x2="243.50" y2="373.50" stroke="#444" stroke-width="1" />
<line x1="241.50" y1="379.50" x2="243.50" y2="379.50" stroke="#444" stroke-width="1" />
<line x1="241.50" y1="386.50" x2="243.50" y2="386.50" stroke="#444" stroke-width="1" />
<line x1="241.50" y1="392.50" x2="246.00" y2="392.50" stroke="#444" stroke-width="1" />
<line x1="241.50" y1="399.50" x2="243.50" y2="399.50" stroke="#444" stroke-width="1" />
<line x1="241.50" y1="405.50" x2="243.50" y2="405.50" stroke="#444" stroke-width="1" />
<line x1="241.50" y1="412.50" x2="243.50" y2="412.50" stroke="#444" stroke-width="1" />
<line x1="241.50" y1="418.50" x2="243.50" y2="418.50" stroke="#444" stroke-width="1" />
<line x1="241.50" y1="425.50" x2="246.00" y2="425.50" stroke="#444" stroke-width="1" />
<line x1="241.50" y1="431.50" x2="243.50" y2="431.50" stroke="#444" stroke-width="1" />
<line x1="241.50" y1="438.50" x2="243.50" y2="438.50" stroke="#444" stroke-width="1" />
<line x1="241.50" y1="444.50" x2="243.50" y2="444.50" stroke="#444" stroke-width="1" />
<text x="34.40" y="459.95" font-size="8.2" fill="#222" text-anchor="middle"  stroke="#222" stroke-width="0.15">10</text>
<text x="74.82" y="459.95" font-size="8.2" fill="#222" text-anchor="middle"  stroke="#222" stroke-width="0.15">8</text>
<text x="115.24" y="459.95" font-size="8.2" fill="#222" text-anchor="middle"  stroke="#222" stroke-width="0.15">6</text>
<text x="155.66" y="459.95" font-size="8.2" fill="#222" text-anchor="middle"  stroke="#222" stroke-width="0.15">4</text>
<text x="196.08" y="459.95" font-size="8.2" fill="#222" text-anchor="middle"  stroke="#222" stroke-width="0.15">2</text>
<text transform="translate(250.80,230.70) rotate(-90)" x="0" y="2.95" font-size="8.2" fill="#222" text-anchor="middle"  stroke="#222" stroke-width="0.15">10</text>
<text transform="translate(250.80,263.10) rotate(-90)" x="0" y="2.95" font-size="8.2" fill="#222" text-anchor="middle"  stroke="#222" stroke-width="0.15">20</text>
<text transform="translate(250.80,295.50) rotate(-90)" x="0" y="2.95" font-size="8.2" fill="#222" text-anchor="middle"  stroke="#222" stroke-width="0.15">30</text>
<text transform="translate(250.80,327.90) rotate(-90)" x="0" y="2.95" font-size="8.2" fill="#222" text-anchor="middle"  stroke="#222" stroke-width="0.15">40</text>
<text transform="translate(250.80,360.30) rotate(-90)" x="0" y="2.95" font-size="8.2" fill="#222" text-anchor="middle"  stroke="#222" stroke-width="0.15">50</text>
<text transform="translate(250.80,392.70) rotate(-90)" x="0" y="2.95" font-size="8.2" fill="#222" text-anchor="middle"  stroke="#222" stroke-width="0.15">60</text>
<text transform="translate(250.80,429.90) rotate(-90)" x="0" y="2.95" font-size="8.2" fill="#222" text-anchor="middle"  stroke="#222" stroke-width="0.15">70</text>
<text x="131.35" y="471.43" font-size="8.7" fill="#222" text-anchor="middle"  stroke="#222" stroke-width="0.15"><tspan font-size="5.39" dy="-2.78">1</tspan><tspan dy="2.78">H Chemical Shift (ppm)</tspan></text>
<text transform="translate(260.60,335.80) rotate(-90)" x="0" y="3.13" font-size="8.7" fill="#222" text-anchor="middle"  stroke="#222" stroke-width="0.15"><tspan font-size="5.39" dy="-2.78">13</tspan><tspan dy="2.78">C Chemical Shift (ppm)</tspan></text>
<rect x="8.50" y="224.50" width="81.00" height="98.50" stroke="#555" stroke-width="1.3" fill="#fff" />
<rect x="8.50" y="326.50" width="81.00" height="99.00" stroke="#555" stroke-width="1.3" fill="#fff" />
<path d="M23.0,252.0 C24.8,248.0 31.2,248.0 34.0,246.0 C36.8,244.0 35.7,241.0 40.0,240.0 C44.3,239.0 55.3,239.0 60.0,240.0 C64.7,241.0 64.7,245.0 68.0,246.0 C71.3,247.0 78.0,235.0 80.0,246.0 C82.0,257.0 83.0,301.0 80.0,312.0 C77.0,323.0 66.0,313.0 62.0,312.0 C58.0,311.0 58.7,308.0 56.0,306.0 C53.3,304.0 49.0,302.7 46.0,300.0 C43.0,297.3 40.7,293.3 38.0,290.0 C35.3,286.7 32.5,283.3 30.0,280.0 C27.5,276.7 24.2,274.7 23.0,270.0 C21.8,265.3 21.2,256.0 23.0,252.0 Z" stroke="none" stroke-width="0" fill="#fdf0f5" stroke-linejoin="round" stroke-linecap="round" />
<rect x="10.0" y="225.0" width="12.0" height="13.0" fill="#e2f8fa" opacity="1"/>
<rect x="21.7" y="230.6" width="2.0" height="1.4" fill="#fcecf4"/>
<rect x="35.5" y="229.8" width="5.4" height="1.8" fill="#fcecf4"/>
<rect x="23.5" y="233.9" width="5.3" height="1.8" fill="#fbe2ef"/>
<rect x="42.6" y="238.9" width="2.1" height="1.2" fill="#f4d8ec"/>
<rect x="26.7" y="228.5" width="7.3" height="2.0" fill="#dff7fa"/>
<rect x="42.6" y="238.5" width="7.3" height="2.1" fill="#f4d8ec"/>
<rect x="33.5" y="236.7" width="7.5" height="2.0" fill="#eafafc"/>
<rect x="32.1" y="236.7" width="4.2" height="1.5" fill="#f4d8ec"/>
<rect x="42.0" y="228.6" width="4.9" height="2.1" fill="#fcecf4"/>
<rect x="42.0" y="229.8" width="3.4" height="1.2" fill="#fbe2ef"/>
<rect x="32.6" y="229.5" width="6.1" height="1.5" fill="#eafafc"/>
<rect x="28.6" y="228.7" width="6.1" height="2.2" fill="#fcecf4"/>
<path d="M45.0,254.0 C46.8,251.5 52.5,253.0 56.0,253.0 C59.5,253.0 62.7,253.7 66.0,254.0 C69.3,254.3 74.0,253.7 76.0,255.0 C78.0,256.3 77.8,257.0 78.0,262.0 C78.2,267.0 77.0,279.3 77.0,285.0 C77.0,290.7 77.8,292.5 78.0,296.0 C78.2,299.5 80.3,304.3 78.0,306.0 C75.7,307.7 67.7,307.3 64.0,306.0 C60.3,304.7 58.3,300.3 56.0,298.0 C53.7,295.7 51.5,295.0 50.0,292.0 C48.5,289.0 47.8,284.0 47.0,280.0 C46.2,276.0 45.3,272.3 45.0,268.0 C44.7,263.7 43.2,256.5 45.0,254.0 Z" stroke="#b03030" stroke-width="1.0" fill="#e44848" stroke-linejoin="round" stroke-linecap="round" />
<ellipse cx="40.5" cy="250.1" rx="3.2" ry="2.2" fill="#f06060" stroke="#b02020" stroke-width="0.9" transform="rotate(1.7606072991350104 40.5 250.1)" />
<ellipse cx="67.8" cy="276.1" rx="2.6" ry="2.0" fill="#e83838" stroke="#b02020" stroke-width="0.9" transform="rotate(13.512395299897307 67.8 276.1)" />
<ellipse cx="73.7" cy="264.5" rx="2.6" ry="1.7" fill="#f06060" stroke="#b02020" stroke-width="0.9" transform="rotate(11.19871892665551 73.7 264.5)" />
<ellipse cx="55.8" cy="284.8" rx="2.2" ry="1.3" fill="#f06060" stroke="#8a3a2a" stroke-width="0.9" transform="rotate(-18.262970744126363 55.8 284.8)" />
<ellipse cx="60.2" cy="270.6" rx="4.4" ry="1.5" fill="#f08080" stroke="#c02828" stroke-width="0.9" transform="rotate(-6.62640959254955 60.2 270.6)" />
<ellipse cx="52.6" cy="294.6" rx="3.4" ry="1.6" fill="#d82828" stroke="#8a3a2a" stroke-width="0.9" transform="rotate(3.594917951586112 52.6 294.6)" />
<ellipse cx="58.3" cy="284.0" rx="2.9" ry="1.5" fill="#e83838" stroke="#8a3a2a" stroke-width="0.9" transform="rotate(19.821498236171195 58.3 284.0)" />
<ellipse cx="61.3" cy="302.0" rx="4.5" ry="1.6" fill="#f06060" stroke="#b02020" stroke-width="0.9" transform="rotate(-23.562116205313387 61.3 302.0)" />
<ellipse cx="70.2" cy="266.6" rx="4.9" ry="2.1" fill="#d82828" stroke="#8a3a2a" stroke-width="0.9" transform="rotate(7.466499820064946 70.2 266.6)" />
<ellipse cx="57.3" cy="293.4" rx="3.3" ry="2.3" fill="#e83838" stroke="#8a3a2a" stroke-width="0.9" transform="rotate(-20.056702616397565 57.3 293.4)" />
<ellipse cx="47.4" cy="264.1" rx="4.1" ry="2.4" fill="#f08080" stroke="#b02020" stroke-width="0.9" transform="rotate(-0.09261868460792755 47.4 264.1)" />
<ellipse cx="70.0" cy="260.5" rx="3.1" ry="2.1" fill="#e83838" stroke="#b02020" stroke-width="0.9" transform="rotate(-0.7288708769042103 70.0 260.5)" />
<ellipse cx="70.3" cy="281.2" rx="3.5" ry="2.4" fill="#e83838" stroke="#8a3a2a" stroke-width="0.9" transform="rotate(-0.512281520106157 70.3 281.2)" />
<ellipse cx="69.7" cy="272.6" rx="2.7" ry="1.3" fill="#d82828" stroke="#8a3a2a" stroke-width="0.9" transform="rotate(-16.194334256225105 69.7 272.6)" />
<ellipse cx="41.7" cy="250.9" rx="4.6" ry="1.3" fill="#f06060" stroke="#b02020" stroke-width="0.9" transform="rotate(22.333214737745635 41.7 250.9)" />
<ellipse cx="72.9" cy="286.4" rx="3.7" ry="2.0" fill="#f08080" stroke="#b02020" stroke-width="0.9" transform="rotate(1.2019981423883124 72.9 286.4)" />
<ellipse cx="67.2" cy="272.1" rx="4.2" ry="1.9" fill="#f06060" stroke="#8a3a2a" stroke-width="0.9" transform="rotate(-18.826039313289467 67.2 272.1)" />
<ellipse cx="69.8" cy="289.9" rx="4.8" ry="2.2" fill="#f06060" stroke="#b02020" stroke-width="0.9" transform="rotate(17.656548942649117 69.8 289.9)" />
<ellipse cx="44.5" cy="269.8" rx="2.4" ry="1.7" fill="#d82828" stroke="#b02020" stroke-width="0.9" transform="rotate(-3.724205907312662 44.5 269.8)" />
<ellipse cx="67.0" cy="277.1" rx="2.7" ry="2.3" fill="#e83838" stroke="#b02020" stroke-width="0.9" transform="rotate(-1.3864615504771542 67.0 277.1)" />
<ellipse cx="71.5" cy="260.3" rx="3.6" ry="1.8" fill="#d82828" stroke="#b02020" stroke-width="0.9" transform="rotate(-4.935858758769584 71.5 260.3)" />
<ellipse cx="71.1" cy="267.2" rx="2.6" ry="1.5" fill="#d82828" stroke="#8a3a2a" stroke-width="0.9" transform="rotate(9.893440440069718 71.1 267.2)" />
<ellipse cx="54.0" cy="291.6" rx="2.2" ry="1.5" fill="#f08080" stroke="#8a3a2a" stroke-width="0.9" transform="rotate(-2.403515228843734 54.0 291.6)" />
<ellipse cx="64.8" cy="284.5" rx="3.3" ry="1.3" fill="#f06060" stroke="#8a3a2a" stroke-width="0.9" transform="rotate(15.40964039928469 64.8 284.5)" />
<ellipse cx="71.6" cy="304.8" rx="2.8" ry="1.6" fill="#d82828" stroke="#8a3a2a" stroke-width="0.9" transform="rotate(19.4650087179876 71.6 304.8)" />
<ellipse cx="49.3" cy="262.4" rx="4.7" ry="2.6" fill="#f06060" stroke="#c02828" stroke-width="0.9" transform="rotate(-17.877451760130867 49.3 262.4)" />
<ellipse cx="64.0" cy="291.4" rx="4.5" ry="2.1" fill="#f06060" stroke="#b02020" stroke-width="0.9" transform="rotate(-6.339893152469596 64.0 291.4)" />
<ellipse cx="60.6" cy="302.3" rx="4.0" ry="1.9" fill="#d82828" stroke="#8a3a2a" stroke-width="0.9" transform="rotate(14.572427938745541 60.6 302.3)" />
<ellipse cx="55.1" cy="256.4" rx="4.7" ry="2.3" fill="#e83838" stroke="#c02828" stroke-width="0.9" transform="rotate(-12.884578496559412 55.1 256.4)" />
<ellipse cx="76.3" cy="286.1" rx="3.0" ry="2.6" fill="#e83838" stroke="#8a3a2a" stroke-width="0.9" transform="rotate(-12.585687365587095 76.3 286.1)" />
<ellipse cx="45.3" cy="246.0" rx="2.9" ry="1.3" fill="#f08080" stroke="#b02020" stroke-width="0.9" transform="rotate(1.9248753269870313 45.3 246.0)" />
<ellipse cx="56.7" cy="273.2" rx="3.4" ry="2.2" fill="#d82828" stroke="#b02020" stroke-width="0.9" transform="rotate(-16.562117638780748 56.7 273.2)" />
<ellipse cx="74.6" cy="263.3" rx="3.2" ry="1.8" fill="#e83838" stroke="#c02828" stroke-width="0.9" transform="rotate(18.478074982333567 74.6 263.3)" />
<ellipse cx="57.0" cy="298.6" rx="3.2" ry="2.3" fill="#f06060" stroke="#c02828" stroke-width="0.9" transform="rotate(14.339897375728114 57.0 298.6)" />
<ellipse cx="76.3" cy="275.5" rx="3.0" ry="1.5" fill="#d82828" stroke="#b02020" stroke-width="0.9" transform="rotate(-2.320754879772757 76.3 275.5)" />
<ellipse cx="73.1" cy="297.8" rx="2.4" ry="1.7" fill="#f06060" stroke="#8a3a2a" stroke-width="0.9" transform="rotate(-7.9496963543047485 73.1 297.8)" />
<ellipse cx="76.5" cy="269.5" rx="2.9" ry="1.6" fill="#f08080" stroke="#c02828" stroke-width="0.9" transform="rotate(-3.9894728576563026 76.5 269.5)" />
<ellipse cx="74.1" cy="294.2" rx="4.9" ry="1.4" fill="#e83838" stroke="#c02828" stroke-width="0.9" transform="rotate(14.295726012526423 74.1 294.2)" />
<ellipse cx="50.1" cy="292.1" rx="3.3" ry="1.3" fill="#e83838" stroke="#8a3a2a" stroke-width="0.9" transform="rotate(14.994150735545318 50.1 292.1)" />
<ellipse cx="60.6" cy="273.6" rx="3.1" ry="2.2" fill="#f08080" stroke="#b02020" stroke-width="0.9" transform="rotate(-21.899256014968792 60.6 273.6)" />
<ellipse cx="62.8" cy="262.8" rx="4.5" ry="2.0" fill="#d82828" stroke="#b02020" stroke-width="0.9" transform="rotate(9.49630353863261 62.8 262.8)" />
<ellipse cx="72.1" cy="294.5" rx="4.1" ry="1.5" fill="#f06060" stroke="#8a3a2a" stroke-width="0.9" transform="rotate(-17.98874492014877 72.1 294.5)" />
<ellipse cx="51.6" cy="267.5" rx="3.3" ry="1.6" fill="#d82828" stroke="#c02828" stroke-width="0.9" transform="rotate(-21.25898426540525 51.6 267.5)" />
<ellipse cx="76.8" cy="272.9" rx="3.6" ry="2.3" fill="#f06060" stroke="#8a3a2a" stroke-width="0.9" transform="rotate(-2.3314304774230337 76.8 272.9)" />
<ellipse cx="46.9" cy="272.0" rx="2.4" ry="2.4" fill="#d82828" stroke="#8a3a2a" stroke-width="0.9" transform="rotate(-0.6029323125233965 46.9 272.0)" />
<ellipse cx="47.6" cy="273.4" rx="2.0" ry="1.7" fill="#f06060" stroke="#c02828" stroke-width="0.9" transform="rotate(-18.19064859923799 47.6 273.4)" />
<ellipse cx="66.9" cy="289.5" rx="3.8" ry="1.7" fill="#f06060" stroke="#b02020" stroke-width="0.9" transform="rotate(12.684142551303964 66.9 289.5)" />
<ellipse cx="74.5" cy="280.8" rx="4.4" ry="1.3" fill="#e83838" stroke="#b02020" stroke-width="0.9" transform="rotate(17.394279681393336 74.5 280.8)" />
<ellipse cx="53.2" cy="254.3" rx="2.2" ry="1.8" fill="#d82828" stroke="#c02828" stroke-width="0.9" transform="rotate(-22.402807338896714 53.2 254.3)" />
<ellipse cx="51.3" cy="294.7" rx="2.2" ry="1.8" fill="#d82828" stroke="#b02020" stroke-width="0.9" transform="rotate(7.478157444464713 51.3 294.7)" />
<ellipse cx="53.1" cy="277.2" rx="3.2" ry="1.6" fill="#e83838" stroke="#8a3a2a" stroke-width="0.9" transform="rotate(-12.745074462361439 53.1 277.2)" />
<ellipse cx="72.4" cy="303.9" rx="3.4" ry="2.3" fill="#f08080" stroke="#8a3a2a" stroke-width="0.9" transform="rotate(10.892581936988947 72.4 303.9)" />
<ellipse cx="61.3" cy="301.2" rx="3.7" ry="1.4" fill="#e83838" stroke="#8a3a2a" stroke-width="0.9" transform="rotate(7.997418637582399 61.3 301.2)" />
<ellipse cx="58.6" cy="264.7" rx="2.5" ry="1.9" fill="#d82828" stroke="#b02020" stroke-width="0.9" transform="rotate(-11.128825080992916 58.6 264.7)" />
<ellipse cx="53.0" cy="283.7" rx="2.6" ry="1.8" fill="#e83838" stroke="#b02020" stroke-width="0.9" transform="rotate(-1.850652868446705 53.0 283.7)" />
<ellipse cx="52.8" cy="293.7" rx="4.9" ry="1.9" fill="#e83838" stroke="#c02828" stroke-width="0.9" transform="rotate(4.719618969110545 52.8 293.7)" />
<ellipse cx="62.3" cy="285.9" rx="4.3" ry="1.8" fill="#e83838" stroke="#b02020" stroke-width="0.9" transform="rotate(-12.997802159337313 62.3 285.9)" />
<ellipse cx="66.1" cy="304.6" rx="4.8" ry="1.6" fill="#f08080" stroke="#8a3a2a" stroke-width="0.9" transform="rotate(-20.62961777569003 66.1 304.6)" />
<ellipse cx="49.3" cy="271.1" rx="2.7" ry="1.5" fill="#f08080" stroke="#b02020" stroke-width="0.9" transform="rotate(-18.61066982235775 49.3 271.1)" />
<ellipse cx="65.0" cy="280.9" rx="2.8" ry="1.2" fill="#d82828" stroke="#c02828" stroke-width="0.9" transform="rotate(24.31678161963996 65.0 280.9)" />
<ellipse cx="64.3" cy="267.2" rx="2.9" ry="2.3" fill="#e83838" stroke="#8a3a2a" stroke-width="0.9" transform="rotate(-6.448930520580486 64.3 267.2)" />
<ellipse cx="46.2" cy="261.1" rx="2.8" ry="1.4" fill="#f06060" stroke="#8a3a2a" stroke-width="0.9" transform="rotate(3.4894399602496087 46.2 261.1)" />
<ellipse cx="48.3" cy="249.4" rx="2.2" ry="2.0" fill="#e83838" stroke="#b02020" stroke-width="0.9" transform="rotate(-23.360880253583684 48.3 249.4)" />
<ellipse cx="47.6" cy="259.2" rx="3.3" ry="1.3" fill="#e83838" stroke="#b02020" stroke-width="0.9" transform="rotate(16.98333141732911 47.6 259.2)" />
<ellipse cx="52.3" cy="292.2" rx="5.0" ry="1.7" fill="#d82828" stroke="#c02828" stroke-width="0.9" transform="rotate(24.806559801298107 52.3 292.2)" />
<ellipse cx="41.9" cy="253.4" rx="3.3" ry="2.6" fill="#f08080" stroke="#b02020" stroke-width="0.9" transform="rotate(7.633888524274646 41.9 253.4)" />
<ellipse cx="69.9" cy="299.0" rx="3.7" ry="2.1" fill="#e83838" stroke="#b02020" stroke-width="0.9" transform="rotate(9.832601087168193 69.9 299.0)" />
<ellipse cx="71.5" cy="305.7" rx="3.8" ry="1.5" fill="#f06060" stroke="#b02020" stroke-width="0.9" transform="rotate(-22.17264754527619 71.5 305.7)" />
<ellipse cx="74.9" cy="279.0" rx="3.8" ry="2.4" fill="#f08080" stroke="#c02828" stroke-width="0.9" transform="rotate(4.283267026022703 74.9 279.0)" />
<ellipse cx="53.1" cy="293.1" rx="4.0" ry="2.0" fill="#f08080" stroke="#c02828" stroke-width="0.9" transform="rotate(-7.413040810439707 53.1 293.1)" />
<ellipse cx="71.0" cy="258.7" rx="3.5" ry="2.2" fill="#f06060" stroke="#c02828" stroke-width="0.9" transform="rotate(-7.190010010838883 71.0 258.7)" />
<ellipse cx="62.3" cy="254.8" rx="4.7" ry="1.2" fill="#d82828" stroke="#c02828" stroke-width="0.9" transform="rotate(-11.116599888569157 62.3 254.8)" />
<ellipse cx="54.4" cy="294.0" rx="3.6" ry="1.7" fill="#d82828" stroke="#b02020" stroke-width="0.9" transform="rotate(-20.34397024801136 54.4 294.0)" />
<ellipse cx="63.9" cy="269.7" rx="3.0" ry="2.2" fill="#d82828" stroke="#c02828" stroke-width="0.9" transform="rotate(-17.909299604839667 63.9 269.7)" />
<ellipse cx="70.2" cy="298.9" rx="4.4" ry="2.0" fill="#e83838" stroke="#c02828" stroke-width="0.9" transform="rotate(-23.059494971713608 70.2 298.9)" />
<ellipse cx="51.4" cy="265.4" rx="4.2" ry="1.7" fill="#d82828" stroke="#8a3a2a" stroke-width="0.9" transform="rotate(-7.320744936771735 51.4 265.4)" />
<ellipse cx="59.2" cy="279.6" rx="2.0" ry="2.0" fill="#f06060" stroke="#8a3a2a" stroke-width="0.9" transform="rotate(21.259556920334 59.2 279.6)" />
<ellipse cx="52.0" cy="275.7" rx="4.0" ry="2.4" fill="#d82828" stroke="#8a3a2a" stroke-width="0.9" transform="rotate(-4.812155309675216 52.0 275.7)" />
<ellipse cx="68.4" cy="256.8" rx="3.3" ry="2.5" fill="#f08080" stroke="#c02828" stroke-width="0.9" transform="rotate(-8.936313635879873 68.4 256.8)" />
<ellipse cx="63.1" cy="295.1" rx="2.2" ry="2.1" fill="#f06060" stroke="#8a3a2a" stroke-width="0.9" transform="rotate(-20.529325144852773 63.1 295.1)" />
<ellipse cx="71.0" cy="301.0" rx="6.5" ry="4.5" fill="#e82020" stroke="#a02a20" stroke-width="0.9" />
<ellipse cx="48.0" cy="258.0" rx="6.0" ry="3.5" fill="#e02828" stroke="#8a3a2a" stroke-width="0.9" />
<ellipse cx="59.0" cy="273.0" rx="7.0" ry="3.0" fill="#e02828" stroke="#8a3a2a" stroke-width="0.9" />
<ellipse cx="33.7" cy="227.0" rx="1.5" ry="1.1" fill="#7a5a28" stroke="#4a3a1a" stroke-width="0.8" />
<ellipse cx="35.7" cy="234.3" rx="2.0" ry="1.4" fill="#7a5a28" stroke="#4a3a1a" stroke-width="0.8" />
<ellipse cx="30.6" cy="239.4" rx="2.0" ry="1.4" fill="#7a5a28" stroke="#4a3a1a" stroke-width="0.8" />
<ellipse cx="47.0" cy="239.4" rx="2.0" ry="1.5" fill="#7a5a28" stroke="#4a3a1a" stroke-width="0.8" />
<ellipse cx="51.2" cy="245.6" rx="2.2" ry="1.5" fill="#7a5a28" stroke="#4a3a1a" stroke-width="0.8" />
<ellipse cx="33.7" cy="245.0" rx="2.0" ry="1.4" fill="#7a5a28" stroke="#4a3a1a" stroke-width="0.8" />
<ellipse cx="14.1" cy="252.8" rx="2.0" ry="1.3" fill="#7a5a28" stroke="#4a3a1a" stroke-width="0.8" />
<ellipse cx="24.4" cy="255.2" rx="2.0" ry="1.4" fill="#7a5a28" stroke="#4a3a1a" stroke-width="0.8" />
<ellipse cx="29.6" cy="256.9" rx="2.0" ry="1.4" fill="#7a5a28" stroke="#4a3a1a" stroke-width="0.8" />
<ellipse cx="27.5" cy="263.0" rx="2.0" ry="1.3" fill="#7a5a28" stroke="#4a3a1a" stroke-width="0.8" />
<ellipse cx="29.6" cy="265.1" rx="2.0" ry="1.4" fill="#7a5a28" stroke="#4a3a1a" stroke-width="0.8" />
<ellipse cx="28.5" cy="274.4" rx="2.2" ry="1.4" fill="#7a5a28" stroke="#4a3a1a" stroke-width="0.8" />
<ellipse cx="37.8" cy="272.7" rx="2.2" ry="1.5" fill="#7a5a28" stroke="#4a3a1a" stroke-width="0.8" />
<ellipse cx="39.9" cy="278.5" rx="2.2" ry="1.5" fill="#7a5a28" stroke="#4a3a1a" stroke-width="0.8" />
<ellipse cx="43.0" cy="288.4" rx="3.5" ry="1.6" fill="#7a5a28" stroke="#4a3a1a" stroke-width="0.8" />
<ellipse cx="52.2" cy="292.9" rx="2.5" ry="1.5" fill="#7a5a28" stroke="#4a3a1a" stroke-width="0.8" />
<ellipse cx="51.2" cy="297.0" rx="2.5" ry="1.5" fill="#7a5a28" stroke="#4a3a1a" stroke-width="0.8" />
<ellipse cx="52.2" cy="306.9" rx="3.5" ry="1.6" fill="#7a5a28" stroke="#4a3a1a" stroke-width="0.8" />
<ellipse cx="64.6" cy="308.3" rx="2.5" ry="1.5" fill="#7a5a28" stroke="#4a3a1a" stroke-width="0.8" />
<ellipse cx="73.8" cy="257.9" rx="2.2" ry="1.4" fill="#7a5a28" stroke="#4a3a1a" stroke-width="0.8" />
<ellipse cx="73.8" cy="268.2" rx="2.2" ry="1.4" fill="#7a5a28" stroke="#4a3a1a" stroke-width="0.8" />
<ellipse cx="74.8" cy="278.9" rx="2.2" ry="1.4" fill="#7a5a28" stroke="#4a3a1a" stroke-width="0.8" />
<ellipse cx="73.8" cy="283.6" rx="2.2" ry="1.4" fill="#7a5a28" stroke="#4a3a1a" stroke-width="0.8" />
<ellipse cx="69.7" cy="236.3" rx="2.5" ry="1.6" fill="#7a5a28" stroke="#4a3a1a" stroke-width="0.8" />
<ellipse cx="48.0" cy="251.7" rx="2.2" ry="1.5" fill="#7a5a28" stroke="#4a3a1a" stroke-width="0.8" />
<ellipse cx="62.0" cy="290.0" rx="2.5" ry="1.5" fill="#7a5a28" stroke="#4a3a1a" stroke-width="0.8" />
<ellipse cx="56.0" cy="282.0" rx="2.5" ry="1.5" fill="#7a5a28" stroke="#4a3a1a" stroke-width="0.8" />
<ellipse cx="72.0" cy="238.0" rx="3.0" ry="1.8" fill="#d82020" stroke="none" stroke-width="1" />
<rect x="79.0" y="327.0" width="9.5" height="97.0" fill="#eafbfc" opacity="1"/>
<path d="M28.0,340.0 C29.0,337.7 31.3,336.3 34.0,336.0 C36.7,335.7 40.3,338.0 44.0,338.0 C47.7,338.0 52.3,335.7 56.0,336.0 C59.7,336.3 62.3,338.5 66.0,340.0 C69.7,341.5 76.0,333.3 78.0,345.0 C80.0,356.7 80.3,398.8 78.0,410.0 C75.7,421.2 68.3,411.7 64.0,412.0 C59.7,412.3 55.7,412.7 52.0,412.0 C48.3,411.3 44.0,410.3 42.0,408.0 C40.0,405.7 41.0,401.8 40.0,398.0 C39.0,394.2 37.3,389.3 36.0,385.0 C34.7,380.7 33.0,376.2 32.0,372.0 C31.0,367.8 30.7,363.7 30.0,360.0 C29.3,356.3 28.3,353.3 28.0,350.0 C27.7,346.7 27.0,342.3 28.0,340.0 Z" stroke="none" stroke-width="0" fill="#b4b0f0" stroke-linejoin="round" stroke-linecap="round" />
<ellipse cx="31.9" cy="352.2" rx="4.2" ry="2.1" fill="#b0acf0" stroke="#2a28d8" stroke-width="1.2" transform="rotate(2.6428868507042775 31.9 352.2)" />
<ellipse cx="33.0" cy="374.7" rx="7.1" ry="1.6" fill="#b0acf0" stroke="#3434dc" stroke-width="1.2" transform="rotate(1.2145472467612706 33.0 374.7)" />
<ellipse cx="55.1" cy="395.4" rx="5.4" ry="1.6" fill="#c4c0f4" stroke="#3434dc" stroke-width="1.2" transform="rotate(5.441230946042051 55.1 395.4)" />
<ellipse cx="38.1" cy="342.2" rx="3.2" ry="2.2" fill="#d8d6fa" stroke="#2020c8" stroke-width="1.2" transform="rotate(-4.085490843159812 38.1 342.2)" />
<ellipse cx="29.0" cy="339.7" rx="2.7" ry="1.4" fill="#c4c0f4" stroke="#3434dc" stroke-width="1.2" transform="rotate(-2.283903682670291 29.0 339.7)" />
<ellipse cx="74.4" cy="348.7" rx="7.0" ry="1.9" fill="#d8d6fa" stroke="#2a28d8" stroke-width="1.2" transform="rotate(1.045126613099499 74.4 348.7)" />
<ellipse cx="39.5" cy="361.0" rx="3.8" ry="1.5" fill="#eeeeff" stroke="#3434dc" stroke-width="1.2" transform="rotate(2.359654164580192 39.5 361.0)" />
<ellipse cx="37.0" cy="348.4" rx="8.0" ry="2.0" fill="#c4c0f4" stroke="#2020c8" stroke-width="1.2" transform="rotate(-2.8812548475027966 37.0 348.4)" />
<ellipse cx="55.6" cy="347.1" rx="2.8" ry="1.7" fill="#b0acf0" stroke="#2a28d8" stroke-width="1.2" transform="rotate(0.05238541528247076 55.6 347.1)" />
<ellipse cx="54.2" cy="360.9" rx="4.5" ry="1.6" fill="#c4c0f4" stroke="#2020c8" stroke-width="1.2" transform="rotate(-2.125649524465762 54.2 360.9)" />
<ellipse cx="56.6" cy="353.7" rx="4.6" ry="1.7" fill="#eeeeff" stroke="#2a28d8" stroke-width="1.2" transform="rotate(3.9385937914179188 56.6 353.7)" />
<ellipse cx="75.9" cy="345.8" rx="6.3" ry="1.4" fill="#eeeeff" stroke="#2a28d8" stroke-width="1.2" transform="rotate(1.4543294234053938 75.9 345.8)" />
<ellipse cx="76.4" cy="373.9" rx="3.1" ry="1.0" fill="#c4c0f4" stroke="#3434dc" stroke-width="1.2" transform="rotate(3.332203832313528 76.4 373.9)" />
<ellipse cx="48.8" cy="353.2" rx="4.7" ry="2.2" fill="#b0acf0" stroke="#2a28d8" stroke-width="1.2" transform="rotate(5.282306077979536 48.8 353.2)" />
<ellipse cx="43.1" cy="405.7" rx="5.3" ry="1.9" fill="#c4c0f4" stroke="#2020c8" stroke-width="1.2" transform="rotate(1.0130139525587492 43.1 405.7)" />
<ellipse cx="52.1" cy="405.0" rx="4.6" ry="2.0" fill="#d8d6fa" stroke="#2020c8" stroke-width="1.2" transform="rotate(5.584244448387896 52.1 405.0)" />
<ellipse cx="72.1" cy="390.8" rx="6.2" ry="1.9" fill="#b0acf0" stroke="#2a28d8" stroke-width="1.2" transform="rotate(-4.627016419148777 72.1 390.8)" />
<ellipse cx="43.9" cy="408.5" rx="7.9" ry="1.3" fill="#b0acf0" stroke="#2a28d8" stroke-width="1.2" transform="rotate(-0.5926711248776577 43.9 408.5)" />
<ellipse cx="69.5" cy="355.3" rx="5.5" ry="1.2" fill="#d8d6fa" stroke="#2020c8" stroke-width="1.2" transform="rotate(4.596993784958089 69.5 355.3)" />
<ellipse cx="53.1" cy="409.9" rx="7.3" ry="1.9" fill="#d8d6fa" stroke="#3434dc" stroke-width="1.2" transform="rotate(1.0716135962194615 53.1 409.9)" />
<ellipse cx="77.6" cy="374.2" rx="2.9" ry="1.2" fill="#d8d6fa" stroke="#2a28d8" stroke-width="1.2" transform="rotate(-3.0355151317168483 77.6 374.2)" />
<ellipse cx="43.9" cy="390.3" rx="5.3" ry="1.2" fill="#d8d6fa" stroke="#2020c8" stroke-width="1.2" transform="rotate(2.2893048553308635 43.9 390.3)" />
<ellipse cx="59.9" cy="353.2" rx="5.6" ry="1.1" fill="#c4c0f4" stroke="#3434dc" stroke-width="1.2" transform="rotate(-2.7009559836236225 59.9 353.2)" />
<ellipse cx="38.3" cy="351.0" rx="3.0" ry="1.5" fill="#c4c0f4" stroke="#2a28d8" stroke-width="1.2" transform="rotate(-2.1358236867984113 38.3 351.0)" />
<ellipse cx="76.2" cy="397.6" rx="4.0" ry="1.2" fill="#c4c0f4" stroke="#3434dc" stroke-width="1.2" transform="rotate(-2.373710584491172 76.2 397.6)" />
<ellipse cx="46.5" cy="395.3" rx="3.3" ry="2.2" fill="#eeeeff" stroke="#3434dc" stroke-width="1.2" transform="rotate(5.471309601838815 46.5 395.3)" />
<ellipse cx="62.8" cy="354.1" rx="6.3" ry="1.2" fill="#d8d6fa" stroke="#2a28d8" stroke-width="1.2" transform="rotate(-0.948033281239173 62.8 354.1)" />
<ellipse cx="68.0" cy="382.2" rx="5.6" ry="1.1" fill="#c4c0f4" stroke="#3434dc" stroke-width="1.2" transform="rotate(-1.4915284642022684 68.0 382.2)" />
<ellipse cx="72.6" cy="363.6" rx="5.6" ry="1.7" fill="#b0acf0" stroke="#3434dc" stroke-width="1.2" transform="rotate(-2.929781210958858 72.6 363.6)" />
<ellipse cx="63.6" cy="404.6" rx="3.3" ry="1.4" fill="#d8d6fa" stroke="#3434dc" stroke-width="1.2" transform="rotate(-1.4477358518574643 63.6 404.6)" />
<ellipse cx="37.9" cy="388.0" rx="3.0" ry="2.2" fill="#d8d6fa" stroke="#2020c8" stroke-width="1.2" transform="rotate(-1.6295026324848845 37.9 388.0)" />
<ellipse cx="57.0" cy="400.7" rx="5.7" ry="1.3" fill="#c4c0f4" stroke="#2020c8" stroke-width="1.2" transform="rotate(4.574605271895971 57.0 400.7)" />
<ellipse cx="50.3" cy="367.8" rx="2.6" ry="1.1" fill="#b0acf0" stroke="#3434dc" stroke-width="1.2" transform="rotate(2.348130857532947 50.3 367.8)" />
<ellipse cx="45.4" cy="367.7" rx="6.2" ry="1.2" fill="#d8d6fa" stroke="#2020c8" stroke-width="1.2" transform="rotate(2.4957448091288956 45.4 367.7)" />
<ellipse cx="48.2" cy="394.2" rx="2.9" ry="1.2" fill="#c4c0f4" stroke="#2a28d8" stroke-width="1.2" transform="rotate(-4.44714462080562 48.2 394.2)" />
<ellipse cx="50.3" cy="377.5" rx="7.9" ry="1.2" fill="#c4c0f4" stroke="#3434dc" stroke-width="1.2" transform="rotate(1.1381080052726613 50.3 377.5)" />
<ellipse cx="68.5" cy="349.5" rx="7.4" ry="1.4" fill="#c4c0f4" stroke="#3434dc" stroke-width="1.2" transform="rotate(-0.18691320972879222 68.5 349.5)" />
<ellipse cx="75.2" cy="368.6" rx="3.0" ry="2.2" fill="#d8d6fa" stroke="#2a28d8" stroke-width="1.2" transform="rotate(-4.305976826184526 75.2 368.6)" />
<ellipse cx="39.1" cy="393.6" rx="3.2" ry="1.2" fill="#b0acf0" stroke="#2a28d8" stroke-width="1.2" transform="rotate(-1.883671560311404 39.1 393.6)" />
<ellipse cx="40.6" cy="339.1" rx="4.7" ry="1.4" fill="#b0acf0" stroke="#2020c8" stroke-width="1.2" transform="rotate(-5.028482218307303 40.6 339.1)" />
<ellipse cx="66.0" cy="342.9" rx="7.8" ry="1.4" fill="#d8d6fa" stroke="#3434dc" stroke-width="1.2" transform="rotate(5.594391212617301 66.0 342.9)" />
<ellipse cx="38.8" cy="371.8" rx="8.0" ry="1.1" fill="#b0acf0" stroke="#3434dc" stroke-width="1.2" transform="rotate(-0.9795426577806747 38.8 371.8)" />
<ellipse cx="38.1" cy="390.6" rx="4.2" ry="1.2" fill="#eeeeff" stroke="#3434dc" stroke-width="1.2" transform="rotate(-4.3863792272461515 38.1 390.6)" />
<ellipse cx="52.4" cy="389.4" rx="4.0" ry="1.4" fill="#d8d6fa" stroke="#3434dc" stroke-width="1.2" transform="rotate(-5.508772043527662 52.4 389.4)" />
<ellipse cx="41.0" cy="400.5" rx="2.8" ry="1.2" fill="#b0acf0" stroke="#2a28d8" stroke-width="1.2" transform="rotate(5.617875779295632 41.0 400.5)" />
<ellipse cx="38.9" cy="339.3" rx="2.8" ry="1.4" fill="#d8d6fa" stroke="#2a28d8" stroke-width="1.2" transform="rotate(2.0471032214931917 38.9 339.3)" />
<ellipse cx="31.1" cy="350.4" rx="2.9" ry="1.3" fill="#d8d6fa" stroke="#2020c8" stroke-width="1.2" transform="rotate(-4.028315986421534 31.1 350.4)" />
<ellipse cx="37.7" cy="353.7" rx="6.0" ry="1.4" fill="#c4c0f4" stroke="#2020c8" stroke-width="1.2" transform="rotate(-5.8548013873845335 37.7 353.7)" />
<ellipse cx="71.3" cy="400.9" rx="7.7" ry="1.9" fill="#b0acf0" stroke="#3434dc" stroke-width="1.2" transform="rotate(-2.0631191248434515 71.3 400.9)" />
<ellipse cx="37.7" cy="369.5" rx="4.8" ry="2.1" fill="#c4c0f4" stroke="#2020c8" stroke-width="1.2" transform="rotate(2.388303345424635 37.7 369.5)" />
<ellipse cx="64.5" cy="386.0" rx="5.9" ry="1.1" fill="#c4c0f4" stroke="#2a28d8" stroke-width="1.2" transform="rotate(0.2185773103470794 64.5 386.0)" />
<ellipse cx="58.2" cy="409.1" rx="6.8" ry="1.3" fill="#c4c0f4" stroke="#3434dc" stroke-width="1.2" transform="rotate(3.283416741060938 58.2 409.1)" />
<ellipse cx="70.3" cy="342.4" rx="3.1" ry="1.8" fill="#d8d6fa" stroke="#3434dc" stroke-width="1.2" transform="rotate(-0.37859535643862685 70.3 342.4)" />
<ellipse cx="67.7" cy="395.0" rx="4.7" ry="1.0" fill="#b0acf0" stroke="#2020c8" stroke-width="1.2" transform="rotate(-0.8540047625950882 67.7 395.0)" />
<ellipse cx="70.0" cy="357.7" rx="6.8" ry="2.1" fill="#c4c0f4" stroke="#2020c8" stroke-width="1.2" transform="rotate(-1.9767082239675977 70.0 357.7)" />
<ellipse cx="49.7" cy="403.8" rx="6.8" ry="1.9" fill="#d8d6fa" stroke="#3434dc" stroke-width="1.2" transform="rotate(2.279120063623001 49.7 403.8)" />
<ellipse cx="29.5" cy="345.2" rx="4.3" ry="1.4" fill="#b0acf0" stroke="#2a28d8" stroke-width="1.2" transform="rotate(0.36007922507306667 29.5 345.2)" />
<ellipse cx="73.3" cy="392.2" rx="5.6" ry="2.0" fill="#b0acf0" stroke="#3434dc" stroke-width="1.2" transform="rotate(-3.878156383436569 73.3 392.2)" />
<ellipse cx="58.6" cy="354.6" rx="4.0" ry="1.9" fill="#c4c0f4" stroke="#2a28d8" stroke-width="1.2" transform="rotate(-3.3957029487544257 58.6 354.6)" />
<ellipse cx="64.7" cy="385.4" rx="7.4" ry="1.9" fill="#eeeeff" stroke="#2020c8" stroke-width="1.2" transform="rotate(2.429884788287337 64.7 385.4)" />
<ellipse cx="72.1" cy="403.0" rx="7.5" ry="1.2" fill="#c4c0f4" stroke="#2020c8" stroke-width="1.2" transform="rotate(-3.9232508743832097 72.1 403.0)" />
<ellipse cx="68.8" cy="388.7" rx="5.6" ry="1.2" fill="#b0acf0" stroke="#2020c8" stroke-width="1.2" transform="rotate(2.285374956312644 68.8 388.7)" />
<ellipse cx="63.2" cy="404.0" rx="7.7" ry="1.6" fill="#eeeeff" stroke="#2020c8" stroke-width="1.2" transform="rotate(-1.4435025044323417 63.2 404.0)" />
<ellipse cx="52.4" cy="382.0" rx="4.0" ry="1.3" fill="#b0acf0" stroke="#2020c8" stroke-width="1.2" transform="rotate(2.832752467451378 52.4 382.0)" />
<ellipse cx="34.7" cy="380.0" rx="3.2" ry="1.7" fill="#b0acf0" stroke="#2a28d8" stroke-width="1.2" transform="rotate(-2.0982577444838793 34.7 380.0)" />
<ellipse cx="32.5" cy="361.4" rx="2.8" ry="1.3" fill="#eeeeff" stroke="#2020c8" stroke-width="1.2" transform="rotate(4.928464770593097 32.5 361.4)" />
<ellipse cx="51.5" cy="399.5" rx="3.6" ry="2.2" fill="#c4c0f4" stroke="#2020c8" stroke-width="1.2" transform="rotate(0.22318735230783737 51.5 399.5)" />
<ellipse cx="75.8" cy="370.7" rx="6.7" ry="1.8" fill="#c4c0f4" stroke="#3434dc" stroke-width="1.2" transform="rotate(-2.965819220941341 75.8 370.7)" />
<ellipse cx="71.1" cy="370.7" rx="3.8" ry="1.3" fill="#eeeeff" stroke="#3434dc" stroke-width="1.2" transform="rotate(1.6815696121730035 71.1 370.7)" />
<ellipse cx="64.1" cy="383.9" rx="6.3" ry="1.3" fill="#c4c0f4" stroke="#3434dc" stroke-width="1.2" transform="rotate(2.701658178993629 64.1 383.9)" />
<ellipse cx="55.0" cy="405.8" rx="2.8" ry="1.2" fill="#b0acf0" stroke="#3434dc" stroke-width="1.2" transform="rotate(-0.7552939600376973 55.0 405.8)" />
<ellipse cx="58.9" cy="406.8" rx="7.7" ry="1.6" fill="#eeeeff" stroke="#2020c8" stroke-width="1.2" transform="rotate(1.4153813779054971 58.9 406.8)" />
<ellipse cx="50.2" cy="380.9" rx="7.6" ry="1.9" fill="#c4c0f4" stroke="#2020c8" stroke-width="1.2" transform="rotate(-3.038558833502493 50.2 380.9)" />
<ellipse cx="75.9" cy="358.3" rx="3.9" ry="2.2" fill="#b0acf0" stroke="#2020c8" stroke-width="1.2" transform="rotate(-3.1256222106865987 75.9 358.3)" />
<ellipse cx="72.1" cy="391.6" rx="7.2" ry="1.1" fill="#b0acf0" stroke="#3434dc" stroke-width="1.2" transform="rotate(-1.2071719744727307 72.1 391.6)" />
<ellipse cx="61.7" cy="343.4" rx="7.3" ry="1.8" fill="#d8d6fa" stroke="#2020c8" stroke-width="1.2" transform="rotate(2.098703046618322 61.7 343.4)" />
<ellipse cx="30.6" cy="353.2" rx="5.2" ry="2.2" fill="#d8d6fa" stroke="#2020c8" stroke-width="1.2" transform="rotate(4.460219784145888 30.6 353.2)" />
<ellipse cx="38.1" cy="354.7" rx="2.7" ry="1.3" fill="#eeeeff" stroke="#2a28d8" stroke-width="1.2" transform="rotate(2.5773920069849297 38.1 354.7)" />
<ellipse cx="63.6" cy="402.2" rx="3.2" ry="2.1" fill="#c4c0f4" stroke="#2020c8" stroke-width="1.2" transform="rotate(2.539826222371609 63.6 402.2)" />
<ellipse cx="46.4" cy="404.2" rx="3.0" ry="1.2" fill="#c4c0f4" stroke="#3434dc" stroke-width="1.2" transform="rotate(3.0157334042749433 46.4 404.2)" />
<ellipse cx="41.9" cy="367.6" rx="4.5" ry="1.5" fill="#b0acf0" stroke="#2a28d8" stroke-width="1.2" transform="rotate(-2.953178368387569 41.9 367.6)" />
<ellipse cx="55.3" cy="375.8" rx="7.5" ry="1.7" fill="#b0acf0" stroke="#3434dc" stroke-width="1.2" transform="rotate(0.5020537819451132 55.3 375.8)" />
<ellipse cx="64.2" cy="346.6" rx="3.1" ry="1.8" fill="#d8d6fa" stroke="#3434dc" stroke-width="1.2" transform="rotate(0.0037032684419582296 64.2 346.6)" />
<ellipse cx="36.1" cy="363.5" rx="4.2" ry="1.6" fill="#b0acf0" stroke="#3434dc" stroke-width="1.2" transform="rotate(3.9613534369918426 36.1 363.5)" />
<ellipse cx="59.3" cy="396.8" rx="5.8" ry="1.1" fill="#c4c0f4" stroke="#2020c8" stroke-width="1.2" transform="rotate(-4.500811157204735 59.3 396.8)" />
<ellipse cx="63.8" cy="363.5" rx="7.0" ry="2.1" fill="#eeeeff" stroke="#2a28d8" stroke-width="1.2" transform="rotate(-3.6063813792237203 63.8 363.5)" />
<ellipse cx="44.9" cy="407.8" rx="4.4" ry="2.2" fill="#c4c0f4" stroke="#3434dc" stroke-width="1.2" transform="rotate(-3.3628367462049056 44.9 407.8)" />
<ellipse cx="43.6" cy="403.2" rx="5.4" ry="1.6" fill="#d8d6fa" stroke="#2020c8" stroke-width="1.2" transform="rotate(1.3076089973839657 43.6 403.2)" />
<ellipse cx="66.8" cy="344.8" rx="4.0" ry="1.8" fill="#b0acf0" stroke="#2a28d8" stroke-width="1.2" transform="rotate(-4.692407174598273 66.8 344.8)" />
<ellipse cx="34.9" cy="347.5" rx="3.9" ry="1.6" fill="#d8d6fa" stroke="#3434dc" stroke-width="1.2" transform="rotate(-0.4649221941036128 34.9 347.5)" />
<ellipse cx="60.2" cy="364.5" rx="5.5" ry="1.2" fill="#b0acf0" stroke="#3434dc" stroke-width="1.2" transform="rotate(5.35706205574083 60.2 364.5)" />
<ellipse cx="39.9" cy="387.7" rx="3.3" ry="1.0" fill="#eeeeff" stroke="#2020c8" stroke-width="1.2" transform="rotate(-2.1442032906452333 39.9 387.7)" />
<ellipse cx="43.6" cy="387.9" rx="3.5" ry="2.1" fill="#b0acf0" stroke="#2a28d8" stroke-width="1.2" transform="rotate(-5.636166625776164 43.6 387.9)" />
<ellipse cx="61.8" cy="351.1" rx="5.1" ry="1.8" fill="#eeeeff" stroke="#2a28d8" stroke-width="1.2" transform="rotate(-3.598717948019684 61.8 351.1)" />
<ellipse cx="54.0" cy="338.7" rx="4.8" ry="1.1" fill="#eeeeff" stroke="#2020c8" stroke-width="1.2" transform="rotate(5.302993829348091 54.0 338.7)" />
<ellipse cx="39.9" cy="361.4" rx="4.2" ry="1.4" fill="#b0acf0" stroke="#2020c8" stroke-width="1.2" transform="rotate(1.3944540025089331 39.9 361.4)" />
<ellipse cx="59.4" cy="344.8" rx="4.2" ry="2.1" fill="#c4c0f4" stroke="#3434dc" stroke-width="1.2" transform="rotate(3.4716342859903886 59.4 344.8)" />
<ellipse cx="72.0" cy="399.1" rx="2.5" ry="1.9" fill="#eeeeff" stroke="#3434dc" stroke-width="1.2" transform="rotate(0.41153190029809394 72.0 399.1)" />
<ellipse cx="70.3" cy="354.5" rx="7.3" ry="1.1" fill="#c4c0f4" stroke="#2a28d8" stroke-width="1.2" transform="rotate(4.278181703533155 70.3 354.5)" />
<ellipse cx="56.0" cy="376.1" rx="7.3" ry="1.0" fill="#b0acf0" stroke="#2a28d8" stroke-width="1.2" transform="rotate(-5.850879732371032 56.0 376.1)" />
<ellipse cx="50.8" cy="385.0" rx="4.4" ry="1.2" fill="#b0acf0" stroke="#3434dc" stroke-width="1.2" transform="rotate(0.046489367686058714 50.8 385.0)" />
<ellipse cx="61.5" cy="387.1" rx="5.6" ry="1.4" fill="#b0acf0" stroke="#2020c8" stroke-width="1.2" transform="rotate(-3.175629046861887 61.5 387.1)" />
<ellipse cx="45.6" cy="342.0" rx="6.9" ry="1.4" fill="#d8d6fa" stroke="#3434dc" stroke-width="1.2" transform="rotate(-3.5440489335653425 45.6 342.0)" />
<ellipse cx="68.7" cy="380.7" rx="3.6" ry="1.1" fill="#b0acf0" stroke="#2020c8" stroke-width="1.2" transform="rotate(0.6845671981877963 68.7 380.7)" />
<ellipse cx="58.2" cy="345.7" rx="6.7" ry="2.0" fill="#b0acf0" stroke="#2a28d8" stroke-width="1.2" transform="rotate(-3.1957017641132652 58.2 345.7)" />
<ellipse cx="40.1" cy="351.5" rx="7.4" ry="2.0" fill="#c4c0f4" stroke="#2020c8" stroke-width="1.2" transform="rotate(2.2070860275968425 40.1 351.5)" />
<ellipse cx="67.9" cy="372.1" rx="7.3" ry="1.3" fill="#c4c0f4" stroke="#2a28d8" stroke-width="1.2" transform="rotate(-0.020845022895903398 67.9 372.1)" />
<ellipse cx="37.5" cy="362.9" rx="6.7" ry="1.3" fill="#eeeeff" stroke="#3434dc" stroke-width="1.2" transform="rotate(-4.772431123050309 37.5 362.9)" />
<ellipse cx="70.6" cy="349.5" rx="7.8" ry="1.2" fill="#eeeeff" stroke="#2a28d8" stroke-width="1.2" transform="rotate(0.7690911941210832 70.6 349.5)" />
<ellipse cx="63.8" cy="373.9" rx="4.8" ry="1.9" fill="#d8d6fa" stroke="#2a28d8" stroke-width="1.2" transform="rotate(-5.9101815893732805 63.8 373.9)" />
<ellipse cx="65.2" cy="380.9" rx="4.3" ry="1.9" fill="#b0acf0" stroke="#2a28d8" stroke-width="1.2" transform="rotate(2.9449838863666997 65.2 380.9)" />
<ellipse cx="66.8" cy="343.8" rx="4.0" ry="2.1" fill="#b0acf0" stroke="#3434dc" stroke-width="1.2" transform="rotate(-4.10791827729396 66.8 343.8)" />
<ellipse cx="47.8" cy="371.6" rx="6.2" ry="1.8" fill="#b0acf0" stroke="#2a28d8" stroke-width="1.2" transform="rotate(-3.2172775027054947 47.8 371.6)" />
<ellipse cx="57.2" cy="386.8" rx="4.6" ry="2.2" fill="#b0acf0" stroke="#2a28d8" stroke-width="1.2" transform="rotate(-4.9380406628508835 57.2 386.8)" />
<ellipse cx="47.0" cy="375.8" rx="4.4" ry="1.9" fill="#b0acf0" stroke="#2020c8" stroke-width="1.2" transform="rotate(-0.7235041744620787 47.0 375.8)" />
<ellipse cx="75.3" cy="350.3" rx="3.2" ry="1.4" fill="#b0acf0" stroke="#2a28d8" stroke-width="1.2" transform="rotate(3.7413219873079537 75.3 350.3)" />
<ellipse cx="39.1" cy="355.9" rx="7.4" ry="1.6" fill="#eeeeff" stroke="#2020c8" stroke-width="1.2" transform="rotate(-0.6047174439438274 39.1 355.9)" />
<ellipse cx="74.9" cy="391.7" rx="3.5" ry="1.5" fill="#eeeeff" stroke="#2020c8" stroke-width="1.2" transform="rotate(-2.8370657046553065 74.9 391.7)" />
<ellipse cx="49.6" cy="411.0" rx="8.0" ry="1.9" fill="#d8d6fa" stroke="#2020c8" stroke-width="1.2" transform="rotate(1.4699467944758755 49.6 411.0)" />
<ellipse cx="77.6" cy="344.9" rx="3.7" ry="1.6" fill="#d8d6fa" stroke="#2a28d8" stroke-width="1.2" transform="rotate(0.14366176687164423 77.6 344.9)" />
<ellipse cx="56.5" cy="340.8" rx="3.4" ry="1.7" fill="#eeeeff" stroke="#3434dc" stroke-width="1.2" transform="rotate(-0.8265617363550737 56.5 340.8)" />
<ellipse cx="63.2" cy="366.1" rx="5.2" ry="1.2" fill="#b0acf0" stroke="#2020c8" stroke-width="1.2" transform="rotate(1.155374471580295 63.2 366.1)" />
<ellipse cx="64.4" cy="366.9" rx="2.6" ry="1.9" fill="#b0acf0" stroke="#3434dc" stroke-width="1.2" transform="rotate(3.280480315449882 64.4 366.9)" />
<ellipse cx="58.3" cy="375.1" rx="4.8" ry="1.3" fill="#eeeeff" stroke="#3434dc" stroke-width="1.2" transform="rotate(-2.0160020633044957 58.3 375.1)" />
<ellipse cx="55.7" cy="342.8" rx="3.2" ry="2.0" fill="#c4c0f4" stroke="#2a28d8" stroke-width="1.2" transform="rotate(-4.9029420086746445 55.7 342.8)" />
<ellipse cx="48.0" cy="360.1" rx="4.6" ry="1.7" fill="#d8d6fa" stroke="#2020c8" stroke-width="1.2" transform="rotate(-2.946844186944003 48.0 360.1)" />
<ellipse cx="61.0" cy="348.9" rx="4.4" ry="1.5" fill="#b0acf0" stroke="#2020c8" stroke-width="1.2" transform="rotate(0.20794911461527388 61.0 348.9)" />
<ellipse cx="45.6" cy="344.8" rx="7.6" ry="2.1" fill="#d8d6fa" stroke="#2a28d8" stroke-width="1.2" transform="rotate(1.8893354615221325 45.6 344.8)" />
<ellipse cx="60.4" cy="338.2" rx="7.3" ry="1.4" fill="#c4c0f4" stroke="#2020c8" stroke-width="1.2" transform="rotate(-2.286187573952569 60.4 338.2)" />
<ellipse cx="57.6" cy="346.3" rx="7.9" ry="2.0" fill="#b0acf0" stroke="#3434dc" stroke-width="1.2" transform="rotate(2.800220421164198 57.6 346.3)" />
<ellipse cx="53.3" cy="355.1" rx="3.8" ry="1.9" fill="#c4c0f4" stroke="#3434dc" stroke-width="1.2" transform="rotate(-2.426202713691359 53.3 355.1)" />
<ellipse cx="44.9" cy="338.2" rx="7.7" ry="1.8" fill="#d8d6fa" stroke="#2a28d8" stroke-width="1.2" transform="rotate(-5.5556762559230215 44.9 338.2)" />
<ellipse cx="39.7" cy="346.6" rx="3.9" ry="1.9" fill="#c4c0f4" stroke="#2a28d8" stroke-width="1.2" transform="rotate(-4.7569042397937995 39.7 346.6)" />
<ellipse cx="66.2" cy="408.6" rx="6.5" ry="2.2" fill="#b0acf0" stroke="#2a28d8" stroke-width="1.2" transform="rotate(-1.498575432241073 66.2 408.6)" />
<ellipse cx="66.0" cy="396.8" rx="7.0" ry="1.1" fill="#b0acf0" stroke="#3434dc" stroke-width="1.2" transform="rotate(-4.809467623042009 66.0 396.8)" />
<ellipse cx="56.5" cy="378.8" rx="4.8" ry="1.4" fill="#d8d6fa" stroke="#2020c8" stroke-width="1.2" transform="rotate(-5.6813863657808055 56.5 378.8)" />
<ellipse cx="56.4" cy="362.3" rx="4.5" ry="1.8" fill="#c4c0f4" stroke="#3434dc" stroke-width="1.2" transform="rotate(1.6421150734388217 56.4 362.3)" />
<ellipse cx="65.4" cy="350.8" rx="4.8" ry="1.6" fill="#b0acf0" stroke="#2a28d8" stroke-width="1.2" transform="rotate(5.822178248088354 65.4 350.8)" />
<ellipse cx="73.3" cy="398.4" rx="7.3" ry="1.8" fill="#d8d6fa" stroke="#3434dc" stroke-width="1.2" transform="rotate(-4.795724581256941 73.3 398.4)" />
<ellipse cx="50.1" cy="359.1" rx="3.0" ry="2.1" fill="#d8d6fa" stroke="#3434dc" stroke-width="1.2" transform="rotate(3.9721882820658507 50.1 359.1)" />
<ellipse cx="35.4" cy="377.9" rx="3.5" ry="1.7" fill="#b0acf0" stroke="#3434dc" stroke-width="1.2" transform="rotate(-5.982357098482094 35.4 377.9)" />
<ellipse cx="47.5" cy="400.6" rx="6.9" ry="2.2" fill="#eeeeff" stroke="#2020c8" stroke-width="1.2" transform="rotate(-0.35551301161528936 47.5 400.6)" />
<ellipse cx="48.2" cy="339.5" rx="5.2" ry="1.2" fill="#c4c0f4" stroke="#2020c8" stroke-width="1.2" transform="rotate(-5.458866839499347 48.2 339.5)" />
<ellipse cx="55.0" cy="377.6" rx="4.9" ry="1.1" fill="#eeeeff" stroke="#3434dc" stroke-width="1.2" transform="rotate(-4.907837909445769 55.0 377.6)" />
<ellipse cx="77.2" cy="345.5" rx="2.8" ry="1.4" fill="#eeeeff" stroke="#2a28d8" stroke-width="1.2" transform="rotate(2.701167184561635 77.2 345.5)" />
<ellipse cx="72.3" cy="362.5" rx="4.0" ry="1.1" fill="#b0acf0" stroke="#2020c8" stroke-width="1.2" transform="rotate(-2.1339218663287918 72.3 362.5)" />
<ellipse cx="75.4" cy="391.9" rx="3.8" ry="1.9" fill="#b0acf0" stroke="#2a28d8" stroke-width="1.2" transform="rotate(4.937622467108836 75.4 391.9)" />
<ellipse cx="41.3" cy="352.0" rx="7.9" ry="1.3" fill="#eeeeff" stroke="#3434dc" stroke-width="1.2" transform="rotate(-3.172289404975027 41.3 352.0)" />
<ellipse cx="39.9" cy="388.2" rx="5.1" ry="1.3" fill="#d8d6fa" stroke="#3434dc" stroke-width="1.2" transform="rotate(-2.253049291021793 39.9 388.2)" />
<ellipse cx="67.3" cy="358.5" rx="7.0" ry="2.0" fill="#c4c0f4" stroke="#2a28d8" stroke-width="1.2" transform="rotate(2.014927941106569 67.3 358.5)" />
<ellipse cx="34.0" cy="329.1" rx="2.0" ry="1.2" fill="#e0dcfa" stroke="#2414c0" stroke-width="1.4" />
<ellipse cx="71.4" cy="329.0" rx="7.0" ry="2.0" fill="#e0dcfa" stroke="#2414c0" stroke-width="1.4" />
<ellipse cx="69.3" cy="338.5" rx="8.0" ry="2.4" fill="#e0dcfa" stroke="#2414c0" stroke-width="1.4" />
<ellipse cx="36.0" cy="336.4" rx="2.0" ry="1.2" fill="#e0dcfa" stroke="#2414c0" stroke-width="1.4" />
<ellipse cx="31.9" cy="342.6" rx="4.5" ry="2.4" fill="#e0dcfa" stroke="#2414c0" stroke-width="1.4" />
<ellipse cx="19.0" cy="355.0" rx="6.0" ry="1.8" fill="#e0dcfa" stroke="#2414c0" stroke-width="1.4" />
<ellipse cx="24.6" cy="364.5" rx="2.5" ry="2.0" fill="#e0dcfa" stroke="#2414c0" stroke-width="1.4" />
<ellipse cx="28.7" cy="375.9" rx="3.5" ry="1.8" fill="#e0dcfa" stroke="#2414c0" stroke-width="1.4" />
<ellipse cx="50.0" cy="404.0" rx="6.0" ry="2.5" fill="#e0dcfa" stroke="#2414c0" stroke-width="1.4" />
<ellipse cx="62.0" cy="408.0" rx="8.0" ry="2.5" fill="#e0dcfa" stroke="#2414c0" stroke-width="1.4" />
<rect x="43.1" y="330.0" width="1.6" height="1.0" fill="#3a3ad0"/>
<rect x="43.1" y="336.6" width="1.6" height="1.4" fill="#3a3ad0"/>
<rect x="43.1" y="342.8" width="1.6" height="1.2" fill="#3a3ad0"/>
<rect x="43.1" y="347.7" width="1.6" height="1.8" fill="#3a3ad0"/>
<rect x="43.1" y="353.2" width="1.6" height="1.6" fill="#3a3ad0"/>
<rect x="43.1" y="358.2" width="1.6" height="1.7" fill="#3a3ad0"/>
<rect x="43.1" y="363.8" width="1.6" height="1.8" fill="#3a3ad0"/>
<rect x="43.1" y="370.4" width="1.6" height="1.1" fill="#3a3ad0"/>
<rect x="43.1" y="377.1" width="1.6" height="1.4" fill="#3a3ad0"/>
<rect x="43.1" y="383.0" width="1.6" height="1.4" fill="#3a3ad0"/>
<rect x="43.1" y="387.9" width="1.6" height="1.8" fill="#3a3ad0"/>
<rect x="43.1" y="394.8" width="1.6" height="1.1" fill="#3a3ad0"/>
<rect x="43.1" y="400.1" width="1.6" height="1.8" fill="#3a3ad0"/>
<rect x="43.1" y="406.5" width="1.6" height="2.0" fill="#3a3ad0"/>
<rect x="43.1" y="412.0" width="1.6" height="1.1" fill="#3a3ad0"/>
<rect x="43.1" y="418.8" width="1.6" height="1.9" fill="#3a3ad0"/>
<rect x="79.9" y="330.0" width="1.6" height="1.5" fill="#3a3ad0"/>
<rect x="79.9" y="335.3" width="1.6" height="1.8" fill="#3a3ad0"/>
<rect x="79.9" y="340.0" width="1.6" height="1.2" fill="#3a3ad0"/>
<rect x="79.9" y="346.9" width="1.6" height="1.1" fill="#3a3ad0"/>
<rect x="79.9" y="353.4" width="1.6" height="1.7" fill="#3a3ad0"/>
<rect x="79.9" y="359.9" width="1.6" height="1.9" fill="#3a3ad0"/>
<rect x="79.9" y="364.2" width="1.6" height="1.8" fill="#3a3ad0"/>
<rect x="79.9" y="368.2" width="1.6" height="1.1" fill="#3a3ad0"/>
<rect x="79.9" y="373.9" width="1.6" height="1.0" fill="#3a3ad0"/>
<rect x="79.9" y="380.1" width="1.6" height="2.0" fill="#3a3ad0"/>
<rect x="79.9" y="385.9" width="1.6" height="1.5" fill="#3a3ad0"/>
<rect x="79.9" y="391.3" width="1.6" height="1.8" fill="#3a3ad0"/>
<rect x="79.9" y="395.6" width="1.6" height="1.3" fill="#3a3ad0"/>
<rect x="79.9" y="402.4" width="1.6" height="1.2" fill="#3a3ad0"/>
<rect x="79.9" y="407.2" width="1.6" height="1.8" fill="#3a3ad0"/>
<rect x="79.9" y="411.2" width="1.6" height="1.5" fill="#3a3ad0"/>
<rect x="79.9" y="418.2" width="1.6" height="1.3" fill="#3a3ad0"/>
<rect x="79.9" y="423.1" width="1.6" height="1.8" fill="#3a3ad0"/>
<rect x="8.50" y="224.50" width="81.00" height="98.50" stroke="#555" stroke-width="1.3" fill="none" />
<rect x="8.50" y="326.50" width="81.00" height="99.00" stroke="#555" stroke-width="1.3" fill="none" />
<line x1="89.50" y1="229.50" x2="91.30" y2="229.50" stroke="#444" stroke-width="1" />
<line x1="89.50" y1="237.50" x2="91.30" y2="237.50" stroke="#444" stroke-width="1" />
<line x1="89.50" y1="245.50" x2="92.50" y2="245.50" stroke="#444" stroke-width="1" />
<line x1="89.50" y1="253.50" x2="91.30" y2="253.50" stroke="#444" stroke-width="1" />
<line x1="89.50" y1="261.50" x2="91.30" y2="261.50" stroke="#444" stroke-width="1" />
<line x1="89.50" y1="269.50" x2="91.30" y2="269.50" stroke="#444" stroke-width="1" />
<line x1="89.50" y1="277.50" x2="91.30" y2="277.50" stroke="#444" stroke-width="1" />
<line x1="89.50" y1="285.50" x2="92.50" y2="285.50" stroke="#444" stroke-width="1" />
<line x1="89.50" y1="293.50" x2="91.30" y2="293.50" stroke="#444" stroke-width="1" />
<line x1="89.50" y1="300.50" x2="91.30" y2="300.50" stroke="#444" stroke-width="1" />
<line x1="89.50" y1="308.50" x2="91.30" y2="308.50" stroke="#444" stroke-width="1" />
<line x1="89.50" y1="316.50" x2="91.30" y2="316.50" stroke="#444" stroke-width="1" />
<line x1="89.50" y1="332.50" x2="91.30" y2="332.50" stroke="#444" stroke-width="1" />
<line x1="89.50" y1="340.50" x2="91.30" y2="340.50" stroke="#444" stroke-width="1" />
<line x1="89.50" y1="348.50" x2="92.50" y2="348.50" stroke="#444" stroke-width="1" />
<line x1="89.50" y1="356.50" x2="91.30" y2="356.50" stroke="#444" stroke-width="1" />
<line x1="89.50" y1="364.50" x2="91.30" y2="364.50" stroke="#444" stroke-width="1" />
<line x1="89.50" y1="372.50" x2="91.30" y2="372.50" stroke="#444" stroke-width="1" />
<line x1="89.50" y1="380.50" x2="91.30" y2="380.50" stroke="#444" stroke-width="1" />
<line x1="89.50" y1="388.50" x2="92.50" y2="388.50" stroke="#444" stroke-width="1" />
<line x1="89.50" y1="396.50" x2="91.30" y2="396.50" stroke="#444" stroke-width="1" />
<line x1="89.50" y1="404.50" x2="91.30" y2="404.50" stroke="#444" stroke-width="1" />
<line x1="89.50" y1="412.50" x2="91.30" y2="412.50" stroke="#444" stroke-width="1" />
<line x1="89.50" y1="420.50" x2="91.30" y2="420.50" stroke="#444" stroke-width="1" />
<line x1="76.50" y1="425.50" x2="76.50" y2="427.30" stroke="#444" stroke-width="1" />
<line x1="64.50" y1="425.50" x2="64.50" y2="428.50" stroke="#444" stroke-width="1" />
<line x1="52.50" y1="425.50" x2="52.50" y2="427.30" stroke="#444" stroke-width="1" />
<line x1="40.50" y1="425.50" x2="40.50" y2="428.50" stroke="#444" stroke-width="1" />
<line x1="28.50" y1="425.50" x2="28.50" y2="427.30" stroke="#444" stroke-width="1" />
<line x1="16.50" y1="425.50" x2="16.50" y2="428.50" stroke="#444" stroke-width="1" />
<text transform="translate(100.60,245.40) rotate(-90)" x="0" y="3.31" font-size="9.2" fill="#222" text-anchor="middle"  stroke="#222" stroke-width="0.15">50</text>
<text transform="translate(100.60,348.60) rotate(-90)" x="0" y="3.31" font-size="9.2" fill="#222" text-anchor="middle"  stroke="#222" stroke-width="0.15">50</text>
<text transform="translate(100.60,285.10) rotate(-90)" x="0" y="3.31" font-size="9.2" fill="#222" text-anchor="middle"  stroke="#222" stroke-width="0.15">60</text>
<text transform="translate(100.60,388.30) rotate(-90)" x="0" y="3.31" font-size="9.2" fill="#222" text-anchor="middle"  stroke="#222" stroke-width="0.15">60</text>
<text x="16.00" y="440.01" font-size="9.2" fill="#222" text-anchor="middle"  stroke="#222" stroke-width="0.15">6</text>
<text x="64.40" y="440.01" font-size="9.2" fill="#222" text-anchor="middle"  stroke="#222" stroke-width="0.15">4</text>
<text x="20.50" y="242.34" font-size="16.5" fill="#111" text-anchor="middle"  stroke="#111" stroke-width="0.15">C</text>
<polyline points="102.5,300.0 104.0,293.0 105.8,304.0 107.2,297.0 109.3,294.0 111.5,281.0 113.6,262.0 115.0,249.0 115.9,243.8 116.8,247.0 117.8,256.0 119.8,271.0 121.4,289.0 123.0,297.0 124.6,304.0 126.0,310.0" stroke="#a06040" stroke-width="1.1" fill="none" stroke-linejoin="round" stroke-linecap="round" />
<polyline points="103.0,305.0 103.4,294.2 105.5,300.5 107.6,296.3 109.7,292.0 111.8,279.5 113.9,262.7 115.2,250.0 116.0,244.3 117.0,248.0 118.0,254.4 118.8,261.0 120.2,271.1 121.8,287.9 123.3,294.2 124.4,300.5 126.4,313.0 127.5,306.8 129.0,317.2" stroke="#5a3ad0" stroke-width="1.1" fill="none" stroke-linejoin="round" stroke-linecap="round" />
<line x1="103.20" y1="320.20" x2="127.70" y2="320.20" stroke="#999" stroke-width="0.8" />
<text x="105.00" y="326.66" font-size="4.6" fill="#222" text-anchor="middle"  stroke="#222" stroke-width="0.15">5.4</text>
<text x="126.80" y="326.66" font-size="4.6" fill="#222" text-anchor="middle"  stroke="#222" stroke-width="0.15">5.0</text>
<text x="98.10" y="232.85" font-size="4.3" fill="#b06a48" text-anchor="start"  stroke="#b06a48" stroke-width="0.15">140 Hz, 0.12 ppm</text>
<text x="98.10" y="237.15" font-size="4.3" fill="#3a30c0" text-anchor="start"  stroke="#3a30c0" stroke-width="0.15">151 Hz, 0.16 ppm</text>
<line x1="113.60" y1="328.70" x2="125.30" y2="344.30" stroke="#222" stroke-width="0.9" />
<polygon points="127.7,347.5 123.9,345.4 126.7,343.2" fill="#222"/>
<text transform="translate(230.40,360.70) rotate(-90)" x="0" y="2.88" font-size="8.0" fill="#b05a48" text-anchor="middle"  stroke="#b05a48" stroke-width="0.15">108 Hz, 0.36 ppm</text>
<text transform="translate(237.10,360.70) rotate(-90)" x="0" y="2.88" font-size="8.0" fill="#3a30c0" text-anchor="middle"  stroke="#3a30c0" stroke-width="0.15">101 Hz, 0.42 ppm</text>
<text x="305.20" y="242.78" font-size="15.5" fill="#111" text-anchor="middle"  stroke="#111" stroke-width="0.15">D</text>
<path d="M382.0,305.0 C382.3,305.7 384.3,307.7 384.0,309.0 C383.7,310.3 380.3,311.5 380.0,313.0 C379.7,314.5 382.0,317.2 382.4,318.0" stroke="#3e5a2e" stroke-width="1.2" fill="none" stroke-linejoin="round" stroke-linecap="round" />
<path d="M455.0,305.0 C455.3,305.7 457.2,307.7 457.0,309.0 C456.8,310.3 453.9,311.7 454.0,313.0 C454.1,314.3 456.9,316.3 457.5,317.0" stroke="#3e5a2e" stroke-width="1.2" fill="none" stroke-linejoin="round" stroke-linecap="round" />
<path d="M386.5,369.0 C386.8,370.2 388.6,373.8 388.0,376.0 C387.4,378.2 384.8,380.3 383.0,382.0 C381.2,383.7 378.5,384.5 377.0,386.0 C375.5,387.5 374.5,390.2 374.0,391.0" stroke="#3e5a2e" stroke-width="1.3" fill="none" stroke-linejoin="round" stroke-linecap="round" />
<path d="M402.5,370.0 C402.2,371.3 400.6,375.5 401.0,378.0 C401.4,380.5 403.5,383.0 405.0,385.0 C406.5,387.0 409.2,387.8 410.0,390.0 C410.8,392.2 409.6,396.7 409.5,398.0" stroke="#3e5a2e" stroke-width="1.3" fill="none" stroke-linejoin="round" stroke-linecap="round" />
<path d="M438.5,369.0 C438.8,370.2 440.4,373.7 440.0,376.0 C439.6,378.3 437.0,380.7 436.0,383.0 C435.0,385.3 434.2,387.5 434.0,390.0 C433.8,392.5 434.4,396.7 434.5,398.0" stroke="#3e5a2e" stroke-width="1.3" fill="none" stroke-linejoin="round" stroke-linecap="round" />
<path d="M456.0,370.0 C456.7,371.2 458.3,374.8 460.0,377.0 C461.7,379.2 464.0,380.8 466.0,383.0 C468.0,385.2 471.0,388.8 472.0,390.0" stroke="#3e5a2e" stroke-width="1.3" fill="none" stroke-linejoin="round" stroke-linecap="round" />
<rect x="349.5" y="229.6" width="64.5" height="52" rx="10" fill="#a24846" stroke="#62302c" stroke-width="1.4"/>
<rect x="375.5" y="281.5" width="14" height="12.8" fill="#963c3a" stroke="#62302c" stroke-width="1"/>
<polygon points="365,294.2 399,294.2 382,306.4" fill="#963e3c" stroke="#62302c" stroke-width="1"/>
<path d="M401.0,248.0 Q401.0,245.5 407.6,245.5 Q414.3,245.5 414.3,248.0 L414.3,310.0 Q414.3,312.8 407.6,312.8 Q401.0,312.8 401.0,310.0 Z" fill="#a65250" stroke="#62302c" stroke-width="1.2"/>
<ellipse cx="407.6" cy="248.0" rx="6.1" ry="2.4" fill="#ecb0b8" stroke="#62302c" stroke-width="0.8" />
<rect x="423.5" y="229.2" width="64.1" height="51.3" rx="10" fill="#a24846" stroke="#62302c" stroke-width="1.4"/>
<path d="M423.5,262 L423.5,308 L434.8,308 L434.8,262" fill="#9e4644" stroke="#62302c" stroke-width="1.2"/>
<ellipse cx="429.2" cy="307.8" rx="5.6" ry="2.6" fill="#f0c2c8" stroke="#62302c" stroke-width="0.8" />
<rect x="447.5" y="247.5" width="14.7" height="46.2" fill="#b05a58" stroke="#7a3432" stroke-width="1" opacity="0.9"/>
<polygon points="437.6,293.7 471.6,293.7 454.6,305.5" fill="#a04846" stroke="#62302c" stroke-width="1"/>
<text x="457.50" y="245.22" font-size="15.6" fill="#3a0e10" text-anchor="middle"  stroke="#3a0e10" stroke-width="0.15">PASp</text>
<g transform="translate(382.4,320.5) rotate(-5.12)"><path d="M-6.8,0 Q-6.8,-3 0,-3 Q6.8,-3 6.8,0 L6.8,48.2 Q6.8,51.2 0,51.2 Q-6.8,51.2 -6.8,48.2 Z" fill="#5a8e3a" stroke="#35561f" stroke-width="1.2"/><rect x="-4.8" y="0" width="4.0" height="48.2" fill="#ffffff" opacity="0.08"/><ellipse cx="0" cy="48.2" rx="6.0" ry="2.4" fill="#c0e0a8" stroke="#35561f" stroke-width="0.8"/></g>
<g transform="translate(407.2,316.0) rotate(4.79)"><path d="M-7.0,0 Q-7.0,-3 0,-3 Q7.0,-3 7.0,0 L7.0,52.7 Q7.0,55.7 0,55.7 Q-7.0,55.7 -7.0,52.7 Z" fill="#74a44c" stroke="#35561f" stroke-width="1.2"/><rect x="-5.0" y="0" width="4.2" height="52.7" fill="#ffffff" opacity="0.08"/><ellipse cx="0" cy="0" rx="6.3" ry="2.4" fill="#b8dca0" stroke="#35561f" stroke-width="0.8"/></g>
<g transform="translate(431.7,315.0) rotate(-7.42)"><path d="M-6.8,0 Q-6.8,-3 0,-3 Q6.8,-3 6.8,0 L6.8,53.4 Q6.8,56.4 0,56.4 Q-6.8,56.4 -6.8,53.4 Z" fill="#5a8e3a" stroke="#35561f" stroke-width="1.2"/><rect x="-4.8" y="0" width="4.0" height="53.4" fill="#ffffff" opacity="0.08"/><ellipse cx="0" cy="53.4" rx="6.0" ry="2.4" fill="#c0e0a8" stroke="#35561f" stroke-width="0.8"/></g>
<g transform="translate(457.5,319.0) rotate(1.74)"><path d="M-6.8,0 Q-6.8,-3 0,-3 Q6.8,-3 6.8,0 L6.8,49.5 Q6.8,52.5 0,52.5 Q-6.8,52.5 -6.8,49.5 Z" fill="#74a44c" stroke="#35561f" stroke-width="1.2"/><rect x="-4.8" y="0" width="4.0" height="49.5" fill="#ffffff" opacity="0.08"/><ellipse cx="0" cy="0" rx="6.0" ry="2.4" fill="#c8e8b0" stroke="#35561f" stroke-width="0.8"/></g>
<text x="431.90" y="330.20" font-size="15" fill="#0e1a0a" text-anchor="middle"  stroke="#0e1a0a" stroke-width="0.15">T</text>
<text x="434.80" y="346.30" font-size="15" fill="#0e1a0a" text-anchor="middle"  stroke="#0e1a0a" stroke-width="0.15">M</text>
<text x="437.00" y="361.70" font-size="15" fill="#0e1a0a" text-anchor="middle"  stroke="#0e1a0a" stroke-width="0.15">1</text>
<text x="457.50" y="337.50" font-size="15" fill="#0e1a0a" text-anchor="middle"  stroke="#0e1a0a" stroke-width="0.15">T</text>
<text x="456.80" y="352.20" font-size="15" fill="#0e1a0a" text-anchor="middle"  stroke="#0e1a0a" stroke-width="0.15">M</text>
<text x="456.00" y="366.90" font-size="15" fill="#0e1a0a" text-anchor="middle"  stroke="#0e1a0a" stroke-width="0.15">2</text>
<path d="M368.0,392.5 Q368.0,390.0 374.0,390.0 Q380.0,390.0 380.0,392.5 L380.0,453.9 Q380.0,456.7 374.0,456.7 Q368.0,456.7 368.0,453.9 Z" fill="#436d8d" stroke="#1c344a" stroke-width="1.2"/>
<ellipse cx="374.0" cy="453.9" rx="5.4" ry="2.6" fill="#a8c8da" stroke="#1c344a" stroke-width="0.8" />
<path d="M467.3,392.0 Q467.3,389.5 473.0,389.5 Q478.6,389.5 478.6,392.0 L478.6,453.2 Q478.6,456.0 473.0,456.0 Q467.3,456.0 467.3,453.2 Z" fill="#436d8d" stroke="#1c344a" stroke-width="1.2"/>
<ellipse cx="473.0" cy="453.2" rx="5.1" ry="2.6" fill="#a8c8da" stroke="#1c344a" stroke-width="0.8" />
<rect x="379.3" y="400.9" width="50" height="47.3" rx="8" fill="#436d8d" stroke="#1c344a" stroke-width="1.4"/>
<rect x="406.6" y="399.3" width="59.1" height="50" rx="13.5" fill="#4a7399" stroke="#1c344a" stroke-width="2"/>
<text x="439.80" y="430.06" font-size="17.4" fill="#0e1c28" text-anchor="middle"  stroke="#0e1c28" stroke-width="0.15">PASc</text>
</svg>
</body></html>
